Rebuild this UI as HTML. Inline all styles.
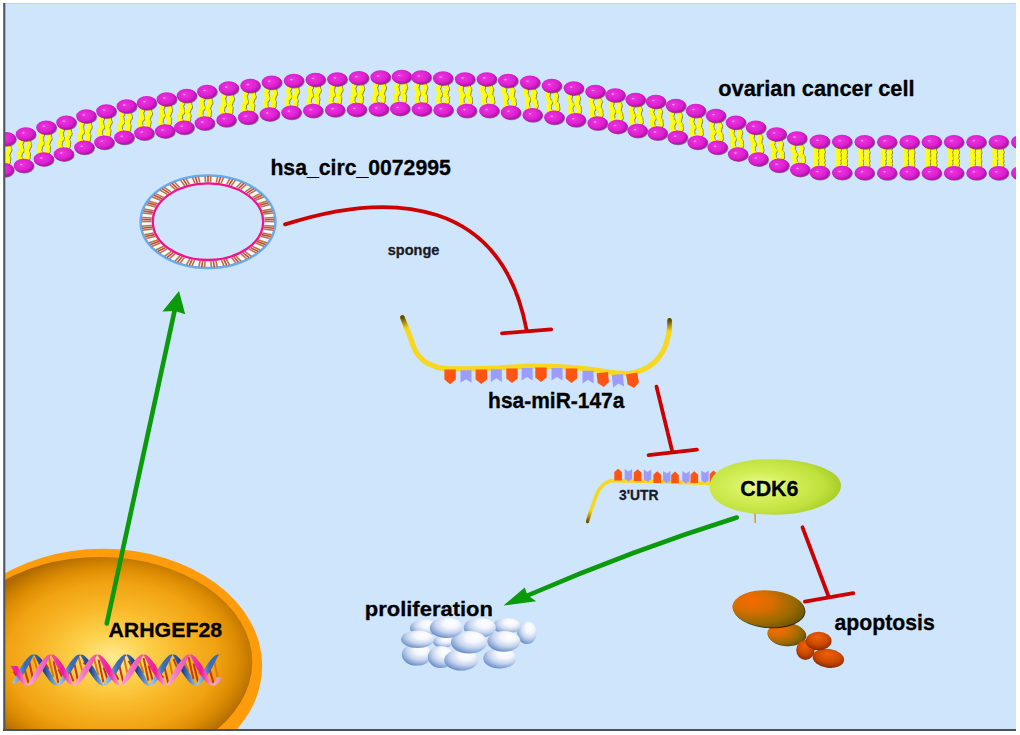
<!DOCTYPE html>
<html><head><meta charset="utf-8"><style>html,body{margin:0;padding:0;background:#fff;}svg{display:block;}</style></head>
<body><svg width="1020" height="735" viewBox="0 0 1020 735"><defs>
<clipPath id="frame"><rect x="5" y="3" width="1011" height="726"/></clipPath>
<radialGradient id="headg" cx="0.42" cy="0.4" r="0.62"><stop offset="0" stop-color="#ee34e0"/><stop offset="0.65" stop-color="#dc1fd0"/><stop offset="1" stop-color="#a80fa2"/></radialGradient>
<linearGradient id="tipL" gradientUnits="userSpaceOnUse" x1="402.4" y1="317.4" x2="406.5" y2="328"><stop offset="0" stop-color="#5a4a10"/><stop offset="1" stop-color="#f6d21c"/></linearGradient>
<linearGradient id="tipR" gradientUnits="userSpaceOnUse" x1="669.6" y1="320.3" x2="669.2" y2="331"><stop offset="0" stop-color="#5a4a10"/><stop offset="1" stop-color="#f6d21c"/></linearGradient>
<linearGradient id="tipB" gradientUnits="userSpaceOnUse" x1="587.5" y1="521.6" x2="590.5" y2="511"><stop offset="0" stop-color="#6a5010"/><stop offset="1" stop-color="#f6d21c"/></linearGradient>
<radialGradient id="cdkg" cx="0.38" cy="0.48" r="0.62"><stop offset="0" stop-color="#ecfca0"/><stop offset="0.35" stop-color="#d4f05a"/><stop offset="0.8" stop-color="#bfe03c"/><stop offset="1" stop-color="#a8cc28"/></radialGradient>
<radialGradient id="nucg" gradientUnits="userSpaceOnUse" cx="0" cy="0" r="1" gradientTransform="translate(112,657) scale(146,104)"><stop offset="0" stop-color="#ffea8e"/><stop offset="0.25" stop-color="#fdd04a"/><stop offset="0.5" stop-color="#f8b626"/><stop offset="0.72" stop-color="#f0a212"/><stop offset="0.86" stop-color="#dc8c02"/><stop offset="0.95" stop-color="#c27800"/><stop offset="1" stop-color="#b06a00"/></radialGradient>
<radialGradient id="cellg" cx="0.62" cy="0.3" r="0.8" fx="0.66" fy="0.27"><stop offset="0" stop-color="#ffffff"/><stop offset="0.3" stop-color="#f3f6fc"/><stop offset="0.58" stop-color="#c6d5ee"/><stop offset="0.82" stop-color="#86a3d5"/><stop offset="1" stop-color="#4672b8"/></radialGradient>
<radialGradient id="apg1" cx="0.27" cy="0.35" r="0.82" fx="0.25" fy="0.3"><stop offset="0" stop-color="#f66a00"/><stop offset="0.35" stop-color="#d86e00"/><stop offset="0.72" stop-color="#986a00"/><stop offset="1" stop-color="#625000"/></radialGradient>
<radialGradient id="apg2" cx="0.5" cy="0.35" r="0.7" fx="0.45" fy="0.28"><stop offset="0" stop-color="#ee6200"/><stop offset="0.55" stop-color="#cc4a00"/><stop offset="0.85" stop-color="#9a3200"/><stop offset="1" stop-color="#742200"/></radialGradient>
<linearGradient id="dnab" gradientUnits="userSpaceOnUse" x1="34" y1="0" x2="80.2" y2="0" spreadMethod="repeat"><stop offset="0" stop-color="#3a68b4"/><stop offset="0.2" stop-color="#173a86"/><stop offset="0.42" stop-color="#6a9ad8"/><stop offset="0.55" stop-color="#9cc4ee"/><stop offset="0.8" stop-color="#3a6cb8"/><stop offset="1" stop-color="#3a68b4"/></linearGradient>
<linearGradient id="dnap" gradientUnits="userSpaceOnUse" x1="51" y1="0" x2="97.2" y2="0" spreadMethod="repeat"><stop offset="0" stop-color="#f050b0"/><stop offset="0.25" stop-color="#f01898"/><stop offset="0.5" stop-color="#f6b0dc"/><stop offset="0.75" stop-color="#f070c0"/><stop offset="1" stop-color="#f050b0"/></linearGradient>
</defs><rect width="1020" height="735" fill="#fff"/><rect x="4" y="3" width="1012" height="727" fill="#cfe5fb"/><g clip-path="url(#frame)"><g id="membrane"><g fill="none" stroke="#6a6a1a" stroke-width="4.2" stroke-opacity="0.85" stroke-linejoin="round"><path d="M8.49,144.62 L9.14,145.39 L9.47,146.12 L9.46,146.83 L9.40,147.53 L9.58,148.25 L9.98,149.00 L10.30,149.74 L10.24,150.44 L9.78,151.10 L9.25,151.75 L8.93,152.43 L8.86,153.13 L8.73,153.82 L8.27,154.49 L7.49,155.12 L7.54,155.83 L7.86,156.57 L8.46,157.33 L9.00,158.09 L9.18,158.81 L8.98,159.50 L8.70,160.18 L8.63,160.88 L8.78,161.60 L8.85,162.31 L8.54,162.99 L7.86,163.63 L7.13,164.27 L6.67,164.93 L6.49,165.62"/><path d="M3.91,144.18 L3.13,144.81 L2.67,145.48 L2.54,146.17 L2.47,146.87 L2.15,147.55 L1.62,148.20 L1.16,148.86 L1.10,149.56 L1.42,150.30 L1.82,151.05 L2.00,151.77 L1.94,152.47 L1.93,153.18 L2.26,153.91 L2.91,154.68 L2.73,155.37 L2.27,156.03 L1.54,156.67 L0.86,157.31 L0.55,157.99 L0.62,158.70 L0.77,159.42 L0.70,160.12 L0.42,160.80 L0.22,161.49 L0.40,162.21 L0.94,162.97 L1.54,163.73 L1.86,164.47 L1.91,165.18"/><path d="M28.29,139.82 L28.93,140.61 L29.26,141.37 L29.25,142.10 L29.19,142.82 L29.36,143.56 L29.76,144.33 L30.08,145.08 L30.01,145.80 L29.55,146.49 L29.01,147.16 L28.70,147.86 L28.62,148.58 L28.49,149.29 L28.02,149.97 L27.24,150.62 L27.28,151.35 L27.61,152.11 L28.20,152.90 L28.74,153.68 L28.91,154.42 L28.71,155.13 L28.43,155.83 L28.36,156.55 L28.50,157.29 L28.56,158.02 L28.25,158.72 L27.57,159.38 L26.84,160.03 L26.37,160.71 L26.19,161.42"/><path d="M23.71,139.38 L22.93,140.03 L22.46,140.71 L22.33,141.42 L22.25,142.14 L21.94,142.84 L21.40,143.51 L20.94,144.20 L20.87,144.92 L21.19,145.67 L21.59,146.44 L21.76,147.18 L21.70,147.90 L21.69,148.63 L22.02,149.39 L22.66,150.18 L22.48,150.89 L22.01,151.57 L21.28,152.22 L20.60,152.88 L20.29,153.58 L20.35,154.31 L20.49,155.05 L20.42,155.77 L20.14,156.47 L19.94,157.18 L20.11,157.92 L20.65,158.70 L21.24,159.49 L21.57,160.25 L21.61,160.98"/><path d="M48.78,133.17 L49.41,133.98 L49.72,134.75 L49.69,135.48 L49.61,136.21 L49.77,136.96 L50.15,137.74 L50.45,138.51 L50.37,139.23 L49.89,139.91 L49.34,140.58 L49.01,141.27 L48.91,141.99 L48.77,142.71 L48.28,143.39 L47.48,144.02 L47.51,144.76 L47.82,145.53 L48.39,146.33 L48.91,147.13 L49.07,147.88 L48.85,148.59 L48.55,149.29 L48.46,150.01 L48.59,150.76 L48.64,151.50 L48.31,152.19 L47.61,152.84 L46.86,153.49 L46.38,154.16 L46.18,154.87"/><path d="M44.22,132.63 L43.42,133.26 L42.93,133.94 L42.79,134.66 L42.69,135.38 L42.36,136.07 L41.81,136.74 L41.33,137.42 L41.25,138.14 L41.55,138.91 L41.93,139.69 L42.09,140.44 L42.01,141.17 L41.98,141.90 L42.29,142.67 L42.92,143.48 L42.72,144.19 L42.24,144.86 L41.49,145.51 L40.79,146.16 L40.46,146.85 L40.51,147.59 L40.64,148.34 L40.55,149.06 L40.25,149.76 L40.03,150.47 L40.19,151.22 L40.71,152.02 L41.28,152.82 L41.59,153.59 L41.62,154.33"/><path d="M68.78,128.16 L69.42,128.97 L69.73,129.74 L69.70,130.47 L69.63,131.19 L69.79,131.94 L70.17,132.72 L70.48,133.49 L70.40,134.21 L69.92,134.89 L69.37,135.56 L69.04,136.26 L68.95,136.98 L68.81,137.69 L68.33,138.37 L67.53,139.01 L67.56,139.75 L67.88,140.52 L68.45,141.32 L68.98,142.11 L69.14,142.86 L68.92,143.57 L68.63,144.27 L68.54,144.99 L68.67,145.74 L68.72,146.48 L68.40,147.17 L67.70,147.83 L66.96,148.47 L66.48,149.15 L66.28,149.86"/><path d="M64.22,127.64 L63.42,128.28 L62.94,128.96 L62.80,129.67 L62.71,130.39 L62.38,131.09 L61.83,131.76 L61.35,132.44 L61.27,133.16 L61.58,133.93 L61.96,134.71 L62.12,135.46 L62.05,136.18 L62.02,136.91 L62.33,137.68 L62.97,138.49 L62.77,139.20 L62.29,139.88 L61.55,140.52 L60.85,141.18 L60.53,141.87 L60.58,142.61 L60.71,143.36 L60.62,144.08 L60.33,144.78 L60.11,145.49 L60.27,146.24 L60.80,147.03 L61.37,147.83 L61.69,148.60 L61.72,149.34"/><path d="M88.79,121.83 L89.43,122.61 L89.76,123.36 L89.75,124.07 L89.69,124.78 L89.86,125.52 L90.26,126.27 L90.58,127.02 L90.51,127.73 L90.05,128.40 L89.51,129.07 L89.20,129.75 L89.12,130.46 L88.99,131.17 L88.52,131.84 L87.74,132.48 L87.78,133.20 L88.11,133.95 L88.70,134.72 L89.24,135.49 L89.41,136.23 L89.21,136.92 L88.93,137.61 L88.86,138.32 L89.00,139.05 L89.06,139.78 L88.75,140.46 L88.07,141.11 L87.34,141.76 L86.87,142.43 L86.69,143.13"/><path d="M84.21,121.37 L83.43,122.01 L82.96,122.68 L82.83,123.39 L82.75,124.10 L82.44,124.78 L81.90,125.45 L81.44,126.12 L81.37,126.83 L81.69,127.58 L82.09,128.33 L82.26,129.07 L82.20,129.78 L82.19,130.49 L82.52,131.24 L83.16,132.02 L82.98,132.72 L82.51,133.39 L81.78,134.04 L81.10,134.69 L80.79,135.37 L80.85,136.10 L80.99,136.83 L80.92,137.54 L80.64,138.23 L80.44,138.92 L80.61,139.66 L81.15,140.43 L81.74,141.20 L82.07,141.95 L82.11,142.67"/><path d="M108.79,116.93 L109.43,117.70 L109.76,118.45 L109.75,119.16 L109.69,119.87 L109.86,120.60 L110.26,121.35 L110.58,122.10 L110.51,122.81 L110.05,123.47 L109.51,124.13 L109.20,124.82 L109.12,125.52 L108.99,126.22 L108.52,126.89 L107.74,127.53 L107.78,128.24 L108.11,128.99 L108.70,129.76 L109.24,130.53 L109.41,131.26 L109.21,131.95 L108.93,132.64 L108.86,133.35 L109.00,134.07 L109.06,134.79 L108.75,135.48 L108.07,136.12 L107.34,136.76 L106.87,137.43 L106.69,138.13"/><path d="M104.21,116.47 L103.43,117.11 L102.96,117.78 L102.83,118.48 L102.75,119.18 L102.44,119.87 L101.90,120.53 L101.44,121.19 L101.37,121.90 L101.69,122.65 L102.09,123.40 L102.26,124.13 L102.20,124.84 L102.19,125.55 L102.52,126.30 L103.16,127.07 L102.98,127.77 L102.51,128.44 L101.78,129.08 L101.10,129.72 L100.79,130.41 L100.85,131.13 L100.99,131.85 L100.92,132.56 L100.64,133.25 L100.44,133.94 L100.61,134.67 L101.15,135.44 L101.74,136.21 L102.07,136.96 L102.11,137.67"/><path d="M129.18,111.97 L129.81,112.76 L130.13,113.51 L130.10,114.23 L130.03,114.93 L130.19,115.67 L130.57,116.43 L130.88,117.18 L130.79,117.89 L130.32,118.55 L129.77,119.20 L129.44,119.88 L129.35,120.59 L129.21,121.29 L128.73,121.95 L127.93,122.57 L127.96,123.29 L128.27,124.04 L128.85,124.83 L129.38,125.61 L129.54,126.34 L129.32,127.03 L129.03,127.71 L128.94,128.42 L129.07,129.15 L129.12,129.87 L128.79,130.55 L128.10,131.19 L127.36,131.82 L126.88,132.48 L126.68,133.17"/><path d="M124.62,111.43 L123.82,112.05 L123.34,112.71 L123.20,113.41 L123.11,114.12 L122.78,114.80 L122.23,115.45 L121.76,116.11 L121.67,116.82 L121.98,117.57 L122.36,118.33 L122.52,119.07 L122.45,119.77 L122.42,120.49 L122.74,121.24 L123.37,122.03 L123.17,122.72 L122.69,123.38 L121.95,124.01 L121.26,124.65 L120.93,125.33 L120.98,126.05 L121.11,126.78 L121.02,127.49 L120.73,128.17 L120.51,128.86 L120.67,129.59 L121.20,130.37 L121.78,131.16 L122.09,131.91 L122.12,132.63"/><path d="M149.18,108.68 L149.81,109.45 L150.12,110.17 L150.10,110.85 L150.02,111.53 L150.18,112.24 L150.57,112.97 L150.87,113.70 L150.79,114.37 L150.32,115.00 L149.77,115.62 L149.44,116.27 L149.35,116.94 L149.21,117.61 L148.73,118.24 L147.93,118.83 L147.96,119.52 L148.27,120.25 L148.85,121.00 L149.38,121.76 L149.54,122.46 L149.32,123.12 L149.02,123.77 L148.94,124.45 L149.07,125.15 L149.12,125.85 L148.79,126.49 L148.10,127.09 L147.36,127.69 L146.88,128.32 L146.68,128.98"/><path d="M144.62,108.12 L143.82,108.71 L143.34,109.34 L143.20,110.01 L143.11,110.68 L142.78,111.33 L142.23,111.95 L141.76,112.58 L141.68,113.25 L141.98,113.98 L142.37,114.71 L142.53,115.42 L142.45,116.10 L142.43,116.78 L142.74,117.50 L143.37,118.27 L143.17,118.93 L142.69,119.56 L141.95,120.16 L141.26,120.76 L140.93,121.40 L140.98,122.10 L141.11,122.80 L141.03,123.48 L140.73,124.13 L140.51,124.79 L140.67,125.49 L141.20,126.25 L141.78,127.00 L142.09,127.73 L142.12,128.42"/><path d="M169.19,104.78 L169.85,105.57 L170.19,106.33 L170.20,107.07 L170.15,107.80 L170.33,108.55 L170.75,109.32 L171.08,110.09 L171.03,110.82 L170.58,111.52 L170.05,112.22 L169.75,112.94 L169.69,113.67 L169.57,114.40 L169.12,115.10 L168.34,115.78 L168.40,116.52 L168.74,117.28 L169.35,118.07 L169.90,118.85 L170.09,119.60 L169.90,120.32 L169.63,121.04 L169.57,121.77 L169.73,122.52 L169.81,123.27 L169.50,123.98 L168.84,124.67 L168.12,125.35 L167.66,126.05 L167.49,126.78"/><path d="M164.61,104.42 L163.83,105.10 L163.38,105.80 L163.26,106.53 L163.20,107.26 L162.90,107.98 L162.37,108.68 L161.92,109.38 L161.87,110.11 L162.20,110.88 L162.62,111.65 L162.80,112.40 L162.75,113.13 L162.76,113.87 L163.10,114.63 L163.76,115.42 L163.59,116.15 L163.13,116.85 L162.41,117.53 L161.75,118.22 L161.44,118.93 L161.52,119.68 L161.68,120.43 L161.62,121.16 L161.35,121.88 L161.16,122.60 L161.35,123.35 L161.90,124.13 L162.51,124.92 L162.85,125.68 L162.91,126.42"/><path d="M189.18,101.46 L189.82,102.27 L190.13,103.04 L190.10,103.77 L190.03,104.49 L190.19,105.24 L190.57,106.02 L190.88,106.79 L190.80,107.51 L190.32,108.19 L189.77,108.86 L189.44,109.56 L189.35,110.28 L189.21,110.99 L188.73,111.67 L187.93,112.31 L187.96,113.05 L188.28,113.82 L188.85,114.62 L189.38,115.41 L189.54,116.16 L189.32,116.87 L189.03,117.57 L188.94,118.29 L189.07,119.04 L189.12,119.78 L188.80,120.47 L188.10,121.13 L187.36,121.77 L186.88,122.45 L186.68,123.16"/><path d="M184.62,100.94 L183.82,101.58 L183.34,102.26 L183.20,102.97 L183.11,103.69 L182.78,104.39 L182.23,105.06 L181.75,105.74 L181.67,106.46 L181.98,107.23 L182.36,108.01 L182.52,108.76 L182.45,109.48 L182.42,110.21 L182.73,110.98 L183.37,111.79 L183.17,112.50 L182.69,113.18 L181.95,113.82 L181.25,114.48 L180.93,115.17 L180.98,115.91 L181.11,116.66 L181.02,117.38 L180.73,118.08 L180.51,118.79 L180.67,119.54 L181.20,120.33 L181.77,121.13 L182.09,121.90 L182.12,122.64"/><path d="M209.49,97.34 L210.13,98.14 L210.44,98.90 L210.43,99.63 L210.36,100.35 L210.52,101.09 L210.92,101.86 L211.23,102.63 L211.15,103.35 L210.69,104.02 L210.14,104.69 L209.82,105.39 L209.74,106.11 L209.60,106.82 L209.13,107.50 L208.34,108.14 L208.37,108.88 L208.69,109.64 L209.28,110.43 L209.81,111.21 L209.98,111.96 L209.77,112.66 L209.48,113.36 L209.40,114.08 L209.54,114.82 L209.59,115.56 L209.27,116.25 L208.59,116.91 L207.85,117.56 L207.38,118.24 L207.19,118.94"/><path d="M204.91,96.86 L204.12,97.50 L203.65,98.18 L203.51,98.89 L203.43,99.61 L203.11,100.31 L202.56,100.98 L202.10,101.65 L202.02,102.37 L202.33,103.14 L202.73,103.91 L202.89,104.65 L202.82,105.37 L202.81,106.10 L203.12,106.86 L203.76,107.66 L203.57,108.36 L203.10,109.04 L202.36,109.69 L201.68,110.35 L201.36,111.04 L201.41,111.78 L201.55,112.52 L201.47,113.24 L201.18,113.94 L200.97,114.64 L201.14,115.39 L201.67,116.17 L202.26,116.96 L202.58,117.72 L202.61,118.46"/><path d="M231.19,93.95 L231.82,94.76 L232.14,95.52 L232.11,96.25 L232.04,96.98 L232.21,97.73 L232.60,98.50 L232.90,99.27 L232.82,99.99 L232.36,100.67 L231.81,101.34 L231.48,102.04 L231.39,102.76 L231.26,103.48 L230.78,104.16 L229.99,104.80 L230.02,105.54 L230.33,106.31 L230.91,107.10 L231.44,107.89 L231.61,108.64 L231.40,109.35 L231.10,110.05 L231.02,110.77 L231.16,111.52 L231.21,112.26 L230.88,112.96 L230.19,113.61 L229.45,114.26 L228.98,114.94 L228.79,115.65"/><path d="M226.61,93.45 L225.82,94.09 L225.34,94.77 L225.21,95.49 L225.12,96.21 L224.79,96.91 L224.24,97.58 L223.78,98.26 L223.70,98.98 L224.00,99.75 L224.39,100.52 L224.56,101.27 L224.49,102.00 L224.46,102.73 L224.78,103.49 L225.41,104.30 L225.22,105.01 L224.75,105.69 L224.01,106.34 L223.32,106.99 L222.99,107.69 L223.04,108.43 L223.18,109.18 L223.10,109.90 L222.80,110.60 L222.59,111.31 L222.76,112.06 L223.29,112.85 L223.87,113.64 L224.18,114.41 L224.21,115.15"/><path d="M252.79,91.44 L253.43,92.24 L253.74,93.01 L253.73,93.74 L253.66,94.46 L253.82,95.21 L254.22,95.98 L254.53,96.75 L254.45,97.47 L253.99,98.15 L253.44,98.83 L253.12,99.52 L253.04,100.25 L252.90,100.96 L252.43,101.64 L251.64,102.29 L251.67,103.03 L251.99,103.79 L252.58,104.59 L253.11,105.37 L253.28,106.12 L253.07,106.83 L252.78,107.53 L252.70,108.26 L252.84,109.00 L252.89,109.74 L252.57,110.44 L251.89,111.10 L251.15,111.75 L250.68,112.43 L250.49,113.14"/><path d="M248.21,90.96 L247.42,91.61 L246.95,92.29 L246.81,93.00 L246.73,93.73 L246.41,94.42 L245.86,95.10 L245.40,95.78 L245.32,96.50 L245.63,97.27 L246.03,98.04 L246.19,98.79 L246.12,99.51 L246.11,100.24 L246.42,101.01 L247.06,101.81 L246.87,102.52 L246.40,103.20 L245.66,103.85 L244.98,104.51 L244.66,105.21 L244.71,105.95 L244.85,106.69 L244.77,107.42 L244.48,108.12 L244.27,108.83 L244.44,109.58 L244.97,110.36 L245.56,111.16 L245.88,111.92 L245.91,112.66"/><path d="M274.19,88.11 L274.84,88.90 L275.17,89.66 L275.16,90.39 L275.10,91.11 L275.28,91.86 L275.68,92.63 L276.01,93.38 L275.94,94.11 L275.48,94.80 L274.95,95.48 L274.64,96.18 L274.56,96.90 L274.44,97.62 L273.97,98.30 L273.19,98.96 L273.24,99.69 L273.57,100.45 L274.16,101.24 L274.71,102.02 L274.88,102.76 L274.68,103.48 L274.40,104.18 L274.34,104.90 L274.48,105.65 L274.55,106.38 L274.24,107.08 L273.56,107.75 L272.83,108.41 L272.37,109.10 L272.19,109.81"/><path d="M269.61,87.69 L268.83,88.35 L268.36,89.03 L268.24,89.75 L268.16,90.47 L267.85,91.17 L267.32,91.85 L266.86,92.54 L266.79,93.27 L267.12,94.02 L267.52,94.79 L267.70,95.54 L267.64,96.26 L267.63,96.99 L267.96,97.75 L268.61,98.54 L268.43,99.25 L267.97,99.94 L267.24,100.60 L266.56,101.27 L266.25,101.97 L266.32,102.70 L266.46,103.45 L266.40,104.17 L266.12,104.87 L265.92,105.59 L266.09,106.33 L266.64,107.11 L267.23,107.90 L267.56,108.66 L267.61,109.39"/><path d="M296.28,86.46 L296.92,87.27 L297.23,88.04 L297.20,88.77 L297.13,89.49 L297.29,90.24 L297.67,91.02 L297.98,91.79 L297.90,92.51 L297.42,93.19 L296.87,93.86 L296.54,94.56 L296.45,95.28 L296.31,95.99 L295.83,96.67 L295.03,97.31 L295.06,98.05 L295.38,98.82 L295.95,99.62 L296.48,100.41 L296.64,101.16 L296.42,101.87 L296.13,102.57 L296.04,103.29 L296.17,104.04 L296.22,104.78 L295.90,105.47 L295.20,106.13 L294.46,106.77 L293.98,107.45 L293.78,108.16"/><path d="M291.72,85.94 L290.92,86.58 L290.44,87.26 L290.30,87.97 L290.21,88.69 L289.88,89.39 L289.33,90.06 L288.85,90.74 L288.77,91.46 L289.08,92.23 L289.46,93.01 L289.62,93.76 L289.55,94.48 L289.52,95.21 L289.83,95.98 L290.47,96.79 L290.27,97.50 L289.79,98.18 L289.05,98.82 L288.35,99.48 L288.03,100.17 L288.08,100.91 L288.21,101.66 L288.12,102.38 L287.83,103.08 L287.61,103.79 L287.77,104.54 L288.30,105.33 L288.87,106.13 L289.19,106.90 L289.22,107.64"/><path d="M317.98,85.37 L318.61,86.16 L318.93,86.91 L318.90,87.62 L318.83,88.32 L318.99,89.06 L319.37,89.81 L319.68,90.56 L319.59,91.27 L319.12,91.92 L318.57,92.57 L318.24,93.25 L318.15,93.95 L318.01,94.65 L317.53,95.30 L316.73,95.92 L316.76,96.64 L317.07,97.39 L317.65,98.17 L318.18,98.94 L318.34,99.68 L318.12,100.36 L317.82,101.04 L317.74,101.75 L317.87,102.47 L317.92,103.19 L317.59,103.87 L316.90,104.50 L316.16,105.12 L315.68,105.78 L315.48,106.47"/><path d="M313.42,84.83 L312.62,85.45 L312.14,86.10 L312.00,86.80 L311.91,87.50 L311.58,88.18 L311.03,88.83 L310.56,89.48 L310.47,90.19 L310.78,90.94 L311.16,91.69 L311.32,92.43 L311.25,93.13 L311.22,93.84 L311.54,94.59 L312.17,95.38 L311.97,96.07 L311.49,96.73 L310.75,97.35 L310.06,97.98 L309.73,98.66 L309.78,99.38 L309.91,100.10 L309.83,100.81 L309.53,101.49 L309.31,102.17 L309.47,102.91 L310.00,103.68 L310.58,104.46 L310.89,105.21 L310.92,105.93"/><path d="M339.69,84.84 L340.33,85.61 L340.65,86.35 L340.64,87.05 L340.57,87.74 L340.74,88.46 L341.14,89.20 L341.45,89.94 L341.38,90.63 L340.92,91.28 L340.37,91.93 L340.06,92.59 L339.98,93.29 L339.84,93.97 L339.38,94.62 L338.59,95.24 L338.63,95.95 L338.95,96.68 L339.54,97.45 L340.07,98.20 L340.24,98.92 L340.04,99.60 L339.75,100.27 L339.68,100.97 L339.82,101.68 L339.88,102.39 L339.56,103.06 L338.88,103.69 L338.14,104.31 L337.67,104.96 L337.49,105.64"/><path d="M335.11,84.36 L334.32,84.98 L333.86,85.63 L333.72,86.31 L333.64,87.01 L333.33,87.67 L332.78,88.32 L332.32,88.97 L332.25,89.66 L332.56,90.40 L332.96,91.14 L333.13,91.86 L333.06,92.55 L333.05,93.25 L333.37,93.99 L334.01,94.76 L333.83,95.44 L333.36,96.09 L332.62,96.71 L331.94,97.34 L331.62,98.01 L331.68,98.72 L331.82,99.43 L331.75,100.13 L331.46,100.80 L331.26,101.48 L331.43,102.20 L331.96,102.95 L332.55,103.72 L332.87,104.45 L332.91,105.16"/><path d="M361.29,83.62 L361.93,84.41 L362.26,85.18 L362.25,85.90 L362.19,86.63 L362.36,87.38 L362.76,88.14 L363.08,88.91 L363.01,89.63 L362.55,90.31 L362.01,90.99 L361.70,91.69 L361.62,92.41 L361.49,93.13 L361.02,93.82 L360.24,94.47 L360.28,95.21 L360.61,95.97 L361.20,96.75 L361.74,97.54 L361.92,98.28 L361.71,98.99 L361.43,99.70 L361.36,100.42 L361.50,101.16 L361.57,101.90 L361.25,102.60 L360.57,103.26 L359.84,103.92 L359.37,104.61 L359.19,105.32"/><path d="M356.71,83.18 L355.93,83.83 L355.46,84.52 L355.33,85.24 L355.25,85.96 L354.94,86.66 L354.40,87.34 L353.94,88.02 L353.87,88.74 L354.19,89.51 L354.59,90.27 L354.76,91.02 L354.70,91.75 L354.69,92.47 L355.02,93.24 L355.66,94.03 L355.48,94.74 L355.01,95.43 L354.28,96.09 L353.60,96.75 L353.28,97.45 L353.35,98.19 L353.49,98.93 L353.42,99.65 L353.14,100.36 L352.93,101.07 L353.11,101.81 L353.65,102.60 L354.24,103.38 L354.57,104.14 L354.61,104.88"/><path d="M382.99,82.79 L383.65,83.58 L383.99,84.35 L383.98,85.08 L383.93,85.82 L384.12,86.57 L384.53,87.34 L384.86,88.11 L384.80,88.84 L384.35,89.54 L383.82,90.24 L383.51,90.95 L383.44,91.68 L383.33,92.41 L382.87,93.11 L382.09,93.79 L382.14,94.53 L382.48,95.30 L383.08,96.08 L383.64,96.87 L383.82,97.62 L383.63,98.34 L383.35,99.06 L383.29,99.79 L383.45,100.54 L383.52,101.29 L383.22,102.00 L382.54,102.68 L381.82,103.36 L381.36,104.06 L381.19,104.79"/><path d="M378.41,82.41 L377.63,83.09 L377.17,83.79 L377.06,84.52 L376.99,85.25 L376.68,85.96 L376.15,86.66 L375.70,87.36 L375.64,88.09 L375.97,88.86 L376.38,89.63 L376.57,90.38 L376.52,91.12 L376.51,91.85 L376.85,92.62 L377.51,93.41 L377.34,94.14 L376.88,94.84 L376.16,95.52 L375.48,96.20 L375.18,96.91 L375.25,97.66 L375.41,98.41 L375.35,99.14 L375.07,99.86 L374.88,100.58 L375.06,101.33 L375.62,102.12 L376.22,102.90 L376.56,103.67 L376.61,104.41"/><path d="M404.19,82.28 L404.85,83.07 L405.19,83.83 L405.20,84.57 L405.15,85.30 L405.33,86.05 L405.75,86.82 L406.08,87.59 L406.03,88.32 L405.58,89.02 L405.05,89.72 L404.75,90.44 L404.69,91.17 L404.57,91.90 L404.12,92.60 L403.34,93.28 L403.40,94.02 L403.74,94.78 L404.35,95.57 L404.90,96.35 L405.09,97.10 L404.90,97.82 L404.63,98.54 L404.57,99.27 L404.73,100.02 L404.81,100.77 L404.50,101.48 L403.84,102.17 L403.12,102.85 L402.66,103.55 L402.49,104.28"/><path d="M399.61,81.92 L398.83,82.60 L398.38,83.30 L398.26,84.03 L398.20,84.76 L397.90,85.48 L397.37,86.18 L396.92,86.88 L396.87,87.61 L397.20,88.38 L397.62,89.15 L397.80,89.90 L397.75,90.63 L397.76,91.37 L398.10,92.13 L398.76,92.92 L398.59,93.65 L398.13,94.35 L397.41,95.03 L396.75,95.72 L396.44,96.43 L396.52,97.18 L396.68,97.93 L396.62,98.66 L396.35,99.38 L396.16,100.10 L396.35,100.85 L396.90,101.63 L397.51,102.42 L397.85,103.18 L397.91,103.92"/><path d="M423.80,82.56 L424.53,83.28 L424.94,84.00 L425.01,84.74 L425.04,85.47 L425.29,86.20 L425.78,86.92 L426.18,87.65 L426.20,88.38 L425.82,89.12 L425.36,89.87 L425.13,90.60 L425.13,91.34 L425.09,92.07 L424.71,92.81 L424.00,93.56 L424.13,94.29 L424.54,95.02 L425.21,95.74 L425.84,96.46 L426.10,97.19 L425.98,97.92 L425.78,98.66 L425.79,99.39 L426.02,100.12 L426.17,100.85 L425.94,101.59 L425.33,102.34 L424.68,103.08 L424.30,103.82 L424.20,104.56"/><path d="M419.20,82.64 L418.49,83.39 L418.11,84.13 L418.07,84.86 L418.07,85.60 L417.84,86.33 L417.38,87.08 L417.00,87.82 L417.02,88.55 L417.42,89.28 L417.91,90.00 L418.16,90.73 L418.19,91.46 L418.26,92.20 L418.67,92.92 L419.40,93.64 L419.30,94.38 L418.92,95.12 L418.27,95.86 L417.66,96.61 L417.43,97.35 L417.58,98.08 L417.81,98.81 L417.82,99.54 L417.62,100.28 L417.50,101.01 L417.76,101.74 L418.39,102.46 L419.06,103.18 L419.47,103.91 L419.60,104.64"/><path d="M445.50,83.67 L446.23,84.38 L446.64,85.10 L446.71,85.82 L446.72,86.55 L446.98,87.27 L447.46,87.98 L447.86,88.70 L447.87,89.42 L447.49,90.15 L447.03,90.88 L446.79,91.61 L446.80,92.33 L446.75,93.06 L446.36,93.78 L445.65,94.52 L445.77,95.24 L446.18,95.96 L446.86,96.67 L447.48,97.39 L447.73,98.11 L447.61,98.83 L447.41,99.56 L447.42,100.28 L447.64,101.00 L447.78,101.72 L447.55,102.45 L446.95,103.18 L446.29,103.91 L445.90,104.64 L445.80,105.37"/><path d="M440.90,83.73 L440.19,84.47 L439.80,85.19 L439.75,85.92 L439.76,86.64 L439.52,87.37 L439.06,88.10 L438.68,88.83 L438.69,89.55 L439.09,90.27 L439.57,90.98 L439.83,91.70 L439.84,92.43 L439.91,93.15 L440.32,93.87 L441.05,94.58 L440.95,95.31 L440.56,96.04 L439.90,96.77 L439.30,97.50 L439.07,98.23 L439.21,98.95 L439.43,99.67 L439.44,100.39 L439.24,101.12 L439.12,101.84 L439.37,102.56 L439.99,103.28 L440.67,103.99 L441.08,104.71 L441.20,105.43"/><path d="M467.49,84.42 L468.27,85.08 L468.72,85.77 L468.83,86.49 L468.90,87.21 L469.20,87.91 L469.73,88.59 L470.17,89.28 L470.23,90.00 L469.90,90.75 L469.48,91.51 L469.30,92.25 L469.34,92.97 L469.34,93.69 L469.00,94.44 L468.34,95.22 L468.51,95.93 L468.97,96.62 L469.68,97.29 L470.35,97.96 L470.66,98.66 L470.58,99.39 L470.42,100.13 L470.48,100.85 L470.75,101.55 L470.94,102.26 L470.75,103.00 L470.19,103.77 L469.59,104.54 L469.25,105.29 L469.19,106.02"/><path d="M462.91,84.78 L462.25,85.56 L461.91,86.31 L461.91,87.03 L461.95,87.75 L461.77,88.49 L461.35,89.25 L461.02,90.00 L461.08,90.72 L461.52,91.41 L462.05,92.09 L462.35,92.79 L462.42,93.51 L462.53,94.23 L462.98,94.92 L463.76,95.58 L463.70,96.31 L463.36,97.06 L462.76,97.83 L462.20,98.60 L462.01,99.34 L462.20,100.05 L462.47,100.75 L462.53,101.47 L462.37,102.21 L462.29,102.94 L462.60,103.64 L463.27,104.31 L463.98,104.98 L464.44,105.67 L464.61,106.38"/><path d="M489.18,84.34 L489.98,84.97 L490.46,85.65 L490.60,86.36 L490.69,87.08 L491.02,87.77 L491.57,88.44 L492.05,89.11 L492.13,89.83 L491.82,90.60 L491.44,91.37 L491.28,92.12 L491.35,92.84 L491.38,93.57 L491.07,94.33 L490.43,95.14 L490.63,95.84 L491.11,96.52 L491.85,97.16 L492.55,97.81 L492.87,98.50 L492.82,99.24 L492.69,99.98 L492.78,100.70 L493.07,101.40 L493.29,102.10 L493.13,102.85 L492.60,103.64 L492.03,104.44 L491.71,105.20 L491.68,105.94"/><path d="M484.62,84.86 L483.98,85.67 L483.67,86.43 L483.70,87.16 L483.77,87.88 L483.61,88.63 L483.23,89.40 L482.92,90.17 L483.00,90.89 L483.48,91.56 L484.03,92.23 L484.36,92.92 L484.45,93.64 L484.59,94.35 L485.07,95.03 L485.87,95.66 L485.84,96.40 L485.52,97.16 L484.95,97.96 L484.42,98.75 L484.26,99.50 L484.48,100.20 L484.77,100.90 L484.86,101.62 L484.73,102.36 L484.68,103.10 L485.00,103.79 L485.70,104.44 L486.44,105.08 L486.92,105.76 L487.12,106.46"/><path d="M510.48,85.91 L511.29,86.54 L511.78,87.21 L511.93,87.93 L512.03,88.65 L512.36,89.34 L512.93,90.00 L513.41,90.68 L513.50,91.40 L513.21,92.17 L512.83,92.96 L512.68,93.71 L512.77,94.44 L512.80,95.17 L512.50,95.94 L511.88,96.76 L512.09,97.46 L512.57,98.14 L513.33,98.78 L514.03,99.42 L514.37,100.11 L514.33,100.85 L514.21,101.60 L514.30,102.33 L514.61,103.02 L514.83,103.73 L514.68,104.48 L514.17,105.29 L513.60,106.09 L513.30,106.87 L513.28,107.61"/><path d="M505.92,86.49 L505.30,87.31 L505.00,88.08 L505.03,88.81 L505.12,89.54 L504.97,90.29 L504.59,91.08 L504.30,91.85 L504.39,92.57 L504.87,93.25 L505.44,93.91 L505.77,94.60 L505.87,95.32 L506.02,96.04 L506.51,96.71 L507.32,97.34 L507.30,98.08 L507.00,98.86 L506.43,99.66 L505.92,100.47 L505.77,101.22 L505.99,101.93 L506.30,102.62 L506.39,103.35 L506.27,104.10 L506.23,104.84 L506.57,105.53 L507.27,106.17 L508.03,106.81 L508.51,107.49 L508.72,108.19"/><path d="M532.49,87.65 L533.28,88.32 L533.76,89.02 L533.90,89.77 L534.00,90.52 L534.32,91.24 L534.88,91.94 L535.35,92.64 L535.43,93.39 L535.13,94.19 L534.74,94.99 L534.58,95.77 L534.65,96.52 L534.68,97.27 L534.37,98.07 L533.74,98.90 L533.93,99.63 L534.41,100.34 L535.15,101.02 L535.85,101.70 L536.18,102.42 L536.13,103.19 L535.99,103.96 L536.08,104.71 L536.38,105.44 L536.59,106.17 L536.43,106.95 L535.90,107.77 L535.33,108.59 L535.01,109.38 L534.99,110.15"/><path d="M527.91,88.15 L527.28,88.98 L526.97,89.78 L527.00,90.53 L527.07,91.28 L526.91,92.06 L526.52,92.86 L526.22,93.66 L526.30,94.41 L526.77,95.11 L527.33,95.81 L527.65,96.53 L527.75,97.28 L527.89,98.03 L528.37,98.73 L529.16,99.40 L529.14,100.17 L528.82,100.96 L528.25,101.78 L527.72,102.60 L527.56,103.38 L527.77,104.11 L528.07,104.84 L528.16,105.59 L528.02,106.36 L527.97,107.13 L528.30,107.85 L529.00,108.53 L529.74,109.21 L530.22,109.92 L530.41,110.65"/><path d="M554.18,90.94 L554.98,91.58 L555.46,92.26 L555.60,92.97 L555.69,93.69 L556.02,94.39 L556.57,95.06 L557.05,95.74 L557.13,96.46 L556.82,97.23 L556.44,98.01 L556.28,98.76 L556.35,99.48 L556.38,100.21 L556.07,100.98 L555.43,101.79 L555.63,102.50 L556.11,103.18 L556.85,103.82 L557.55,104.48 L557.87,105.17 L557.82,105.91 L557.69,106.66 L557.78,107.38 L558.07,108.08 L558.29,108.79 L558.13,109.54 L557.60,110.33 L557.03,111.13 L556.71,111.90 L556.68,112.64"/><path d="M549.62,91.46 L548.98,92.27 L548.67,93.04 L548.70,93.77 L548.77,94.49 L548.61,95.24 L548.23,96.02 L547.92,96.79 L548.00,97.51 L548.48,98.19 L549.03,98.86 L549.36,99.56 L549.45,100.28 L549.59,100.99 L550.07,101.67 L550.87,102.31 L550.84,103.05 L550.52,103.82 L549.95,104.62 L549.42,105.41 L549.26,106.16 L549.48,106.87 L549.77,107.57 L549.86,108.29 L549.73,109.04 L549.68,109.78 L550.00,110.47 L550.70,111.13 L551.44,111.77 L551.92,112.45 L552.12,113.16"/><path d="M576.19,93.48 L576.97,94.13 L577.44,94.82 L577.57,95.54 L577.65,96.26 L577.96,96.96 L578.50,97.64 L578.96,98.32 L579.03,99.04 L578.71,99.81 L578.31,100.57 L578.14,101.32 L578.20,102.05 L578.21,102.77 L577.88,103.54 L577.24,104.33 L577.42,105.04 L577.89,105.73 L578.62,106.39 L579.30,107.05 L579.62,107.75 L579.55,108.49 L579.41,109.23 L579.48,109.95 L579.76,110.66 L579.97,111.37 L579.79,112.11 L579.25,112.90 L578.66,113.68 L578.33,114.44 L578.29,115.18"/><path d="M571.61,93.92 L570.97,94.71 L570.64,95.48 L570.65,96.20 L570.71,96.93 L570.54,97.68 L570.14,98.44 L569.82,99.21 L569.89,99.93 L570.35,100.61 L570.89,101.29 L571.20,101.99 L571.28,102.71 L571.41,103.43 L571.88,104.12 L572.66,104.77 L572.62,105.51 L572.29,106.27 L571.70,107.05 L571.16,107.84 L570.98,108.58 L571.19,109.29 L571.47,110.00 L571.54,110.72 L571.40,111.46 L571.33,112.20 L571.65,112.90 L572.33,113.56 L573.06,114.22 L573.53,114.91 L573.71,115.62"/><path d="M597.79,96.87 L598.58,97.51 L599.05,98.19 L599.18,98.91 L599.26,99.63 L599.58,100.32 L600.12,100.99 L600.58,101.67 L600.66,102.39 L600.34,103.15 L599.94,103.92 L599.77,104.67 L599.84,105.39 L599.85,106.11 L599.53,106.87 L598.89,107.67 L599.07,108.38 L599.54,109.06 L600.28,109.71 L600.96,110.37 L601.28,111.06 L601.22,111.79 L601.08,112.54 L601.15,113.26 L601.44,113.95 L601.65,114.66 L601.48,115.41 L600.94,116.19 L600.35,116.98 L600.03,117.74 L599.99,118.47"/><path d="M593.21,97.33 L592.57,98.13 L592.25,98.89 L592.26,99.61 L592.33,100.33 L592.16,101.08 L591.76,101.85 L591.44,102.61 L591.52,103.33 L591.98,104.01 L592.52,104.68 L592.84,105.37 L592.92,106.09 L593.05,106.81 L593.52,107.49 L594.31,108.13 L594.27,108.86 L593.95,109.62 L593.36,110.41 L592.82,111.19 L592.65,111.94 L592.86,112.65 L593.15,113.34 L593.22,114.06 L593.08,114.81 L593.02,115.54 L593.34,116.23 L594.02,116.89 L594.76,117.54 L595.23,118.22 L595.41,118.93"/><path d="M617.79,100.46 L618.58,101.10 L619.05,101.78 L619.18,102.48 L619.26,103.20 L619.58,103.89 L620.12,104.55 L620.58,105.22 L620.65,105.94 L620.34,106.69 L619.94,107.45 L619.77,108.19 L619.84,108.90 L619.85,109.62 L619.53,110.38 L618.89,111.16 L619.07,111.87 L619.54,112.54 L620.28,113.18 L620.96,113.84 L621.28,114.52 L621.22,115.25 L621.08,115.99 L621.15,116.70 L621.44,117.39 L621.65,118.09 L621.47,118.83 L620.94,119.60 L620.35,120.39 L620.03,121.14 L619.99,121.86"/><path d="M613.21,100.94 L612.57,101.72 L612.25,102.48 L612.26,103.20 L612.33,103.91 L612.16,104.65 L611.76,105.41 L611.45,106.16 L611.52,106.88 L611.98,107.55 L612.52,108.21 L612.84,108.90 L612.92,109.62 L613.05,110.32 L613.52,111.00 L614.31,111.64 L614.27,112.36 L613.95,113.11 L613.36,113.90 L612.83,114.67 L612.65,115.41 L612.86,116.11 L613.15,116.80 L613.22,117.51 L613.08,118.25 L613.02,118.98 L613.34,119.66 L614.02,120.32 L614.76,120.96 L615.23,121.63 L615.41,122.34"/><path d="M637.99,104.98 L638.77,105.61 L639.23,106.28 L639.36,106.97 L639.43,107.67 L639.75,108.35 L640.28,109.00 L640.74,109.66 L640.80,110.36 L640.48,111.10 L640.08,111.85 L639.90,112.57 L639.96,113.27 L639.97,113.98 L639.64,114.71 L638.99,115.48 L639.17,116.17 L639.63,116.83 L640.36,117.47 L641.04,118.11 L641.35,118.79 L641.28,119.50 L641.13,120.22 L641.20,120.92 L641.48,121.60 L641.68,122.29 L641.50,123.01 L640.96,123.77 L640.36,124.53 L640.04,125.27 L639.99,125.98"/><path d="M633.41,105.42 L632.76,106.19 L632.43,106.92 L632.44,107.63 L632.50,108.33 L632.32,109.05 L631.92,109.80 L631.60,110.54 L631.66,111.24 L632.12,111.90 L632.65,112.55 L632.97,113.23 L633.04,113.93 L633.17,114.62 L633.63,115.29 L634.41,115.92 L634.36,116.63 L634.04,117.37 L633.44,118.13 L632.90,118.89 L632.72,119.61 L632.92,120.30 L633.20,120.98 L633.27,121.68 L633.12,122.40 L633.05,123.11 L633.36,123.79 L634.04,124.43 L634.77,125.07 L635.23,125.73 L635.41,126.42"/><path d="M658.29,106.92 L659.07,107.58 L659.52,108.27 L659.63,108.99 L659.70,109.71 L660.00,110.41 L660.53,111.09 L660.97,111.78 L661.03,112.50 L660.70,113.25 L660.28,114.01 L660.10,114.75 L660.14,115.47 L660.14,116.19 L659.80,116.94 L659.14,117.72 L659.31,118.43 L659.77,119.12 L660.48,119.79 L661.15,120.46 L661.46,121.16 L661.38,121.89 L661.22,122.63 L661.28,123.35 L661.55,124.05 L661.74,124.76 L661.55,125.50 L660.99,126.27 L660.39,127.04 L660.05,127.79 L659.99,128.52"/><path d="M653.71,107.28 L653.05,108.06 L652.71,108.81 L652.71,109.53 L652.75,110.25 L652.57,110.99 L652.15,111.75 L651.82,112.50 L651.88,113.22 L652.32,113.91 L652.85,114.59 L653.15,115.29 L653.22,116.01 L653.33,116.73 L653.78,117.42 L654.56,118.08 L654.50,118.81 L654.16,119.56 L653.56,120.33 L653.00,121.10 L652.81,121.84 L653.00,122.55 L653.27,123.25 L653.33,123.97 L653.17,124.71 L653.09,125.44 L653.40,126.14 L654.07,126.81 L654.78,127.48 L655.24,128.17 L655.41,128.88"/><path d="M678.29,111.02 L679.07,111.69 L679.52,112.38 L679.63,113.10 L679.70,113.82 L680.00,114.53 L680.53,115.21 L680.97,115.90 L681.03,116.63 L680.70,117.38 L680.28,118.14 L680.10,118.88 L680.14,119.61 L680.14,120.34 L679.80,121.09 L679.14,121.87 L679.31,122.58 L679.77,123.28 L680.48,123.95 L681.15,124.62 L681.46,125.33 L681.38,126.06 L681.22,126.80 L681.28,127.53 L681.55,128.23 L681.74,128.94 L681.55,129.69 L680.99,130.46 L680.39,131.23 L680.05,131.99 L679.99,132.72"/><path d="M673.71,111.38 L673.05,112.16 L672.71,112.91 L672.71,113.64 L672.75,114.37 L672.57,115.11 L672.15,115.87 L671.82,116.62 L671.88,117.35 L672.32,118.04 L672.85,118.72 L673.15,119.43 L673.22,120.15 L673.33,120.87 L673.78,121.56 L674.56,122.23 L674.50,122.96 L674.16,123.72 L673.56,124.49 L673.00,125.26 L672.81,126.01 L673.00,126.72 L673.27,127.42 L673.33,128.15 L673.17,128.89 L673.09,129.62 L673.40,130.33 L674.07,131.00 L674.78,131.67 L675.24,132.37 L675.41,133.08"/><path d="M698.29,116.02 L699.07,116.69 L699.52,117.38 L699.63,118.10 L699.70,118.82 L700.00,119.53 L700.53,120.21 L700.97,120.90 L701.03,121.63 L700.70,122.38 L700.28,123.14 L700.10,123.88 L700.14,124.61 L700.14,125.34 L699.80,126.09 L699.14,126.87 L699.31,127.58 L699.77,128.28 L700.48,128.95 L701.15,129.62 L701.46,130.33 L701.38,131.06 L701.22,131.80 L701.28,132.53 L701.55,133.23 L701.74,133.94 L701.55,134.69 L700.99,135.46 L700.39,136.23 L700.05,136.99 L699.99,137.72"/><path d="M693.71,116.38 L693.05,117.16 L692.71,117.91 L692.71,118.64 L692.75,119.37 L692.57,120.11 L692.15,120.87 L691.82,121.62 L691.88,122.35 L692.32,123.04 L692.85,123.72 L693.15,124.43 L693.22,125.15 L693.33,125.87 L693.78,126.56 L694.56,127.23 L694.50,127.96 L694.16,128.72 L693.56,129.49 L693.00,130.26 L692.81,131.01 L693.00,131.72 L693.27,132.42 L693.33,133.15 L693.17,133.89 L693.09,134.62 L693.40,135.33 L694.07,136.00 L694.78,136.67 L695.24,137.37 L695.41,138.08"/><path d="M718.29,121.02 L719.07,121.69 L719.52,122.38 L719.63,123.10 L719.70,123.82 L720.00,124.53 L720.53,125.21 L720.97,125.90 L721.03,126.63 L720.70,127.38 L720.28,128.14 L720.10,128.88 L720.14,129.61 L720.14,130.34 L719.80,131.09 L719.14,131.87 L719.31,132.58 L719.77,133.28 L720.48,133.95 L721.15,134.62 L721.46,135.33 L721.38,136.06 L721.22,136.80 L721.28,137.53 L721.55,138.23 L721.74,138.94 L721.55,139.69 L720.99,140.46 L720.39,141.23 L720.05,141.99 L719.99,142.72"/><path d="M713.71,121.38 L713.05,122.16 L712.71,122.91 L712.71,123.64 L712.75,124.37 L712.57,125.11 L712.15,125.87 L711.82,126.62 L711.88,127.35 L712.32,128.04 L712.85,128.72 L713.15,129.43 L713.22,130.15 L713.33,130.87 L713.78,131.56 L714.56,132.23 L714.50,132.96 L714.16,133.72 L713.56,134.49 L713.00,135.26 L712.81,136.01 L713.00,136.72 L713.27,137.42 L713.33,138.15 L713.17,138.89 L713.09,139.62 L713.40,140.33 L714.07,141.00 L714.78,141.67 L715.24,142.37 L715.41,143.08"/><path d="M738.29,127.67 L739.08,128.32 L739.55,129.00 L739.68,129.72 L739.76,130.44 L740.08,131.14 L740.62,131.82 L741.08,132.50 L741.16,133.22 L740.84,133.99 L740.44,134.76 L740.27,135.51 L740.34,136.23 L740.35,136.96 L740.03,137.72 L739.39,138.52 L739.57,139.23 L740.04,139.91 L740.78,140.57 L741.46,141.23 L741.78,141.93 L741.72,142.67 L741.58,143.41 L741.65,144.13 L741.94,144.84 L742.15,145.55 L741.98,146.29 L741.44,147.08 L740.85,147.87 L740.53,148.63 L740.49,149.37"/><path d="M733.71,128.13 L733.07,128.93 L732.75,129.69 L732.76,130.42 L732.83,131.14 L732.66,131.89 L732.26,132.66 L731.94,133.43 L732.02,134.15 L732.48,134.83 L733.02,135.51 L733.34,136.21 L733.42,136.93 L733.55,137.65 L734.02,138.33 L734.81,138.98 L734.77,139.72 L734.45,140.48 L733.86,141.27 L733.32,142.06 L733.15,142.80 L733.36,143.51 L733.65,144.22 L733.72,144.94 L733.58,145.68 L733.52,146.42 L733.84,147.12 L734.52,147.78 L735.26,148.44 L735.73,149.12 L735.91,149.83"/><path d="M758.28,132.64 L759.08,133.28 L759.56,133.96 L759.70,134.67 L759.79,135.39 L760.12,136.09 L760.67,136.76 L761.15,137.44 L761.23,138.16 L760.92,138.93 L760.54,139.71 L760.38,140.46 L760.45,141.18 L760.48,141.91 L760.17,142.68 L759.53,143.49 L759.73,144.20 L760.21,144.88 L760.95,145.52 L761.65,146.18 L761.97,146.87 L761.92,147.61 L761.79,148.36 L761.88,149.08 L762.17,149.78 L762.39,150.49 L762.23,151.24 L761.70,152.03 L761.13,152.83 L760.81,153.60 L760.78,154.34"/><path d="M753.72,133.16 L753.08,133.97 L752.77,134.74 L752.80,135.47 L752.87,136.19 L752.71,136.94 L752.33,137.72 L752.02,138.49 L752.10,139.21 L752.58,139.89 L753.13,140.56 L753.46,141.26 L753.55,141.98 L753.69,142.69 L754.17,143.37 L754.97,144.01 L754.94,144.75 L754.62,145.52 L754.05,146.32 L753.52,147.11 L753.36,147.86 L753.58,148.57 L753.87,149.27 L753.96,149.99 L753.83,150.74 L753.78,151.48 L754.10,152.17 L754.80,152.83 L755.54,153.47 L756.02,154.15 L756.22,154.86"/><path d="M778.98,139.33 L779.78,139.96 L780.26,140.62 L780.40,141.32 L780.49,142.03 L780.82,142.72 L781.37,143.37 L781.84,144.03 L781.93,144.74 L781.62,145.50 L781.24,146.27 L781.08,147.00 L781.15,147.71 L781.18,148.43 L780.87,149.19 L780.23,149.98 L780.43,150.68 L780.91,151.34 L781.65,151.97 L782.34,152.61 L782.67,153.29 L782.62,154.02 L782.49,154.76 L782.58,155.47 L782.87,156.15 L783.09,156.84 L782.93,157.58 L782.40,158.36 L781.82,159.15 L781.51,159.91 L781.48,160.63"/><path d="M774.42,139.87 L773.78,140.66 L773.47,141.42 L773.50,142.14 L773.57,142.85 L773.41,143.58 L773.03,144.35 L772.72,145.11 L772.81,145.82 L773.28,146.48 L773.83,147.13 L774.16,147.82 L774.25,148.53 L774.39,149.23 L774.87,149.89 L775.67,150.52 L775.64,151.24 L775.33,152.00 L774.75,152.79 L774.22,153.57 L774.06,154.31 L774.28,155.00 L774.57,155.68 L774.66,156.39 L774.53,157.13 L774.48,157.86 L774.81,158.54 L775.50,159.18 L776.24,159.81 L776.72,160.47 L776.92,161.17"/><path d="M799.48,143.38 L800.29,143.99 L800.78,144.65 L800.94,145.36 L801.05,146.07 L801.39,146.75 L801.96,147.40 L802.45,148.06 L802.55,148.77 L802.26,149.54 L801.89,150.32 L801.75,151.06 L801.84,151.78 L801.88,152.50 L801.59,153.27 L800.98,154.08 L801.19,154.78 L801.68,155.44 L802.44,156.06 L803.15,156.69 L803.49,157.36 L803.46,158.10 L803.35,158.84 L803.45,159.55 L803.76,160.24 L803.99,160.93 L803.85,161.68 L803.34,162.48 L802.78,163.28 L802.49,164.05 L802.48,164.78"/><path d="M794.92,144.02 L794.31,144.83 L794.02,145.60 L794.06,146.32 L794.15,147.04 L794.01,147.78 L793.64,148.56 L793.35,149.33 L793.45,150.04 L793.94,150.70 L794.51,151.35 L794.85,152.03 L794.96,152.74 L795.12,153.45 L795.61,154.11 L796.42,154.72 L796.41,155.45 L796.12,156.22 L795.56,157.02 L795.05,157.82 L794.91,158.57 L795.14,159.26 L795.45,159.95 L795.55,160.66 L795.44,161.40 L795.41,162.14 L795.75,162.81 L796.46,163.44 L797.22,164.06 L797.71,164.72 L797.92,165.42"/><path d="M822.60,146.90 L823.22,147.61 L823.32,148.32 L822.89,149.03 L822.45,149.74 L822.51,150.45 L823.08,151.16 L823.62,151.87 L823.62,152.58 L823.08,153.29 L822.51,154.00 L822.45,154.71 L822.89,155.42 L823.32,156.13 L823.22,156.84 L822.60,157.55 L822.18,158.26 L822.28,158.97 L822.89,159.68 L823.49,160.39 L823.55,161.10 L823.08,161.81 L822.58,162.52 L822.58,163.23 L823.08,163.94 L823.55,164.65 L823.49,165.36 L822.89,166.07 L822.28,166.78 L822.18,167.49 L822.60,168.20"/><path d="M817.20,146.90 L816.58,147.61 L816.48,148.32 L816.91,149.03 L817.35,149.74 L817.29,150.45 L816.72,151.16 L816.18,151.87 L816.18,152.58 L816.72,153.29 L817.29,154.00 L817.35,154.71 L816.91,155.42 L816.48,156.13 L816.58,156.84 L817.20,157.55 L817.62,158.26 L817.52,158.97 L816.91,159.68 L816.31,160.39 L816.25,161.10 L816.72,161.81 L817.22,162.52 L817.22,163.23 L816.72,163.94 L816.25,164.65 L816.31,165.36 L816.91,166.07 L817.52,166.78 L817.62,167.49 L817.20,168.20"/><path d="M844.90,147.20 L845.52,147.90 L845.62,148.60 L845.19,149.30 L844.75,150.00 L844.81,150.70 L845.38,151.40 L845.92,152.10 L845.92,152.80 L845.38,153.50 L844.81,154.20 L844.75,154.90 L845.19,155.60 L845.62,156.30 L845.52,157.00 L844.90,157.70 L844.48,158.40 L844.58,159.10 L845.19,159.80 L845.79,160.50 L845.85,161.20 L845.38,161.90 L844.88,162.60 L844.88,163.30 L845.38,164.00 L845.85,164.70 L845.79,165.40 L845.19,166.10 L844.58,166.80 L844.48,167.50 L844.90,168.20"/><path d="M839.50,147.20 L838.88,147.90 L838.78,148.60 L839.21,149.30 L839.65,150.00 L839.59,150.70 L839.02,151.40 L838.48,152.10 L838.48,152.80 L839.02,153.50 L839.59,154.20 L839.65,154.90 L839.21,155.60 L838.78,156.30 L838.88,157.00 L839.50,157.70 L839.92,158.40 L839.82,159.10 L839.21,159.80 L838.61,160.50 L838.55,161.20 L839.02,161.90 L839.52,162.60 L839.52,163.30 L839.02,164.00 L838.55,164.70 L838.61,165.40 L839.21,166.10 L839.82,166.80 L839.92,167.50 L839.50,168.20"/><path d="M867.40,147.40 L868.02,148.10 L868.12,148.80 L867.69,149.50 L867.25,150.20 L867.31,150.90 L867.88,151.60 L868.42,152.30 L868.42,153.00 L867.88,153.70 L867.31,154.40 L867.25,155.10 L867.69,155.80 L868.12,156.50 L868.02,157.20 L867.40,157.90 L866.98,158.60 L867.08,159.30 L867.69,160.00 L868.29,160.70 L868.35,161.40 L867.88,162.10 L867.38,162.80 L867.38,163.50 L867.88,164.20 L868.35,164.90 L868.29,165.60 L867.69,166.30 L867.08,167.00 L866.98,167.70 L867.40,168.40"/><path d="M862.00,147.40 L861.38,148.10 L861.28,148.80 L861.71,149.50 L862.15,150.20 L862.09,150.90 L861.52,151.60 L860.98,152.30 L860.98,153.00 L861.52,153.70 L862.09,154.40 L862.15,155.10 L861.71,155.80 L861.28,156.50 L861.38,157.20 L862.00,157.90 L862.42,158.60 L862.32,159.30 L861.71,160.00 L861.11,160.70 L861.05,161.40 L861.52,162.10 L862.02,162.80 L862.02,163.50 L861.52,164.20 L861.05,164.90 L861.11,165.60 L861.71,166.30 L862.32,167.00 L862.42,167.70 L862.00,168.40"/><path d="M889.90,147.40 L890.52,148.10 L890.62,148.80 L890.19,149.50 L889.75,150.20 L889.81,150.90 L890.38,151.60 L890.92,152.30 L890.92,153.00 L890.38,153.70 L889.81,154.40 L889.75,155.10 L890.19,155.80 L890.62,156.50 L890.52,157.20 L889.90,157.90 L889.48,158.60 L889.58,159.30 L890.19,160.00 L890.79,160.70 L890.85,161.40 L890.38,162.10 L889.88,162.80 L889.88,163.50 L890.38,164.20 L890.85,164.90 L890.79,165.60 L890.19,166.30 L889.58,167.00 L889.48,167.70 L889.90,168.40"/><path d="M884.50,147.40 L883.88,148.10 L883.78,148.80 L884.21,149.50 L884.65,150.20 L884.59,150.90 L884.02,151.60 L883.48,152.30 L883.48,153.00 L884.02,153.70 L884.59,154.40 L884.65,155.10 L884.21,155.80 L883.78,156.50 L883.88,157.20 L884.50,157.90 L884.92,158.60 L884.82,159.30 L884.21,160.00 L883.61,160.70 L883.55,161.40 L884.02,162.10 L884.52,162.80 L884.52,163.50 L884.02,164.20 L883.55,164.90 L883.61,165.60 L884.21,166.30 L884.82,167.00 L884.92,167.70 L884.50,168.40"/><path d="M912.30,147.40 L912.92,148.10 L913.02,148.80 L912.59,149.50 L912.15,150.20 L912.21,150.90 L912.78,151.60 L913.32,152.30 L913.32,153.00 L912.78,153.70 L912.21,154.40 L912.15,155.10 L912.59,155.80 L913.02,156.50 L912.92,157.20 L912.30,157.90 L911.88,158.60 L911.98,159.30 L912.59,160.00 L913.19,160.70 L913.25,161.40 L912.78,162.10 L912.28,162.80 L912.28,163.50 L912.78,164.20 L913.25,164.90 L913.19,165.60 L912.59,166.30 L911.98,167.00 L911.88,167.70 L912.30,168.40"/><path d="M906.90,147.40 L906.28,148.10 L906.18,148.80 L906.61,149.50 L907.05,150.20 L906.99,150.90 L906.42,151.60 L905.88,152.30 L905.88,153.00 L906.42,153.70 L906.99,154.40 L907.05,155.10 L906.61,155.80 L906.18,156.50 L906.28,157.20 L906.90,157.90 L907.32,158.60 L907.22,159.30 L906.61,160.00 L906.01,160.70 L905.95,161.40 L906.42,162.10 L906.92,162.80 L906.92,163.50 L906.42,164.20 L905.95,164.90 L906.01,165.60 L906.61,166.30 L907.22,167.00 L907.32,167.70 L906.90,168.40"/><path d="M934.50,147.40 L935.12,148.10 L935.22,148.80 L934.79,149.50 L934.35,150.20 L934.41,150.90 L934.98,151.60 L935.52,152.30 L935.52,153.00 L934.98,153.70 L934.41,154.40 L934.35,155.10 L934.79,155.80 L935.22,156.50 L935.12,157.20 L934.50,157.90 L934.08,158.60 L934.18,159.30 L934.79,160.00 L935.39,160.70 L935.45,161.40 L934.98,162.10 L934.48,162.80 L934.48,163.50 L934.98,164.20 L935.45,164.90 L935.39,165.60 L934.79,166.30 L934.18,167.00 L934.08,167.70 L934.50,168.40"/><path d="M929.10,147.40 L928.48,148.10 L928.38,148.80 L928.81,149.50 L929.25,150.20 L929.19,150.90 L928.62,151.60 L928.08,152.30 L928.08,153.00 L928.62,153.70 L929.19,154.40 L929.25,155.10 L928.81,155.80 L928.38,156.50 L928.48,157.20 L929.10,157.90 L929.52,158.60 L929.42,159.30 L928.81,160.00 L928.21,160.70 L928.15,161.40 L928.62,162.10 L929.12,162.80 L929.12,163.50 L928.62,164.20 L928.15,164.90 L928.21,165.60 L928.81,166.30 L929.42,167.00 L929.52,167.70 L929.10,168.40"/><path d="M956.80,147.40 L957.42,148.10 L957.52,148.80 L957.09,149.50 L956.65,150.20 L956.71,150.90 L957.28,151.60 L957.82,152.30 L957.82,153.00 L957.28,153.70 L956.71,154.40 L956.65,155.10 L957.09,155.80 L957.52,156.50 L957.42,157.20 L956.80,157.90 L956.38,158.60 L956.48,159.30 L957.09,160.00 L957.69,160.70 L957.75,161.40 L957.28,162.10 L956.78,162.80 L956.78,163.50 L957.28,164.20 L957.75,164.90 L957.69,165.60 L957.09,166.30 L956.48,167.00 L956.38,167.70 L956.80,168.40"/><path d="M951.40,147.40 L950.78,148.10 L950.68,148.80 L951.11,149.50 L951.55,150.20 L951.49,150.90 L950.92,151.60 L950.38,152.30 L950.38,153.00 L950.92,153.70 L951.49,154.40 L951.55,155.10 L951.11,155.80 L950.68,156.50 L950.78,157.20 L951.40,157.90 L951.82,158.60 L951.72,159.30 L951.11,160.00 L950.51,160.70 L950.45,161.40 L950.92,162.10 L951.42,162.80 L951.42,163.50 L950.92,164.20 L950.45,164.90 L950.51,165.60 L951.11,166.30 L951.72,167.00 L951.82,167.70 L951.40,168.40"/><path d="M979.20,147.40 L979.82,148.10 L979.92,148.80 L979.49,149.50 L979.05,150.20 L979.11,150.90 L979.68,151.60 L980.22,152.30 L980.22,153.00 L979.68,153.70 L979.11,154.40 L979.05,155.10 L979.49,155.80 L979.92,156.50 L979.82,157.20 L979.20,157.90 L978.78,158.60 L978.88,159.30 L979.49,160.00 L980.09,160.70 L980.15,161.40 L979.68,162.10 L979.18,162.80 L979.18,163.50 L979.68,164.20 L980.15,164.90 L980.09,165.60 L979.49,166.30 L978.88,167.00 L978.78,167.70 L979.20,168.40"/><path d="M973.80,147.40 L973.18,148.10 L973.08,148.80 L973.51,149.50 L973.95,150.20 L973.89,150.90 L973.32,151.60 L972.78,152.30 L972.78,153.00 L973.32,153.70 L973.89,154.40 L973.95,155.10 L973.51,155.80 L973.08,156.50 L973.18,157.20 L973.80,157.90 L974.22,158.60 L974.12,159.30 L973.51,160.00 L972.91,160.70 L972.85,161.40 L973.32,162.10 L973.82,162.80 L973.82,163.50 L973.32,164.20 L972.85,164.90 L972.91,165.60 L973.51,166.30 L974.12,167.00 L974.22,167.70 L973.80,168.40"/><path d="M1001.50,147.40 L1002.12,148.10 L1002.22,148.80 L1001.79,149.50 L1001.35,150.20 L1001.41,150.90 L1001.98,151.60 L1002.52,152.30 L1002.52,153.00 L1001.98,153.70 L1001.41,154.40 L1001.35,155.10 L1001.79,155.80 L1002.22,156.50 L1002.12,157.20 L1001.50,157.90 L1001.08,158.60 L1001.18,159.30 L1001.79,160.00 L1002.39,160.70 L1002.45,161.40 L1001.98,162.10 L1001.48,162.80 L1001.48,163.50 L1001.98,164.20 L1002.45,164.90 L1002.39,165.60 L1001.79,166.30 L1001.18,167.00 L1001.08,167.70 L1001.50,168.40"/><path d="M996.10,147.40 L995.48,148.10 L995.38,148.80 L995.81,149.50 L996.25,150.20 L996.19,150.90 L995.62,151.60 L995.08,152.30 L995.08,153.00 L995.62,153.70 L996.19,154.40 L996.25,155.10 L995.81,155.80 L995.38,156.50 L995.48,157.20 L996.10,157.90 L996.52,158.60 L996.42,159.30 L995.81,160.00 L995.21,160.70 L995.15,161.40 L995.62,162.10 L996.12,162.80 L996.12,163.50 L995.62,164.20 L995.15,164.90 L995.21,165.60 L995.81,166.30 L996.42,167.00 L996.52,167.70 L996.10,168.40"/><path d="M1023.90,147.40 L1024.52,148.10 L1024.62,148.80 L1024.19,149.50 L1023.75,150.20 L1023.81,150.90 L1024.38,151.60 L1024.92,152.30 L1024.92,153.00 L1024.38,153.70 L1023.81,154.40 L1023.75,155.10 L1024.19,155.80 L1024.62,156.50 L1024.52,157.20 L1023.90,157.90 L1023.48,158.60 L1023.58,159.30 L1024.19,160.00 L1024.79,160.70 L1024.85,161.40 L1024.38,162.10 L1023.88,162.80 L1023.88,163.50 L1024.38,164.20 L1024.85,164.90 L1024.79,165.60 L1024.19,166.30 L1023.58,167.00 L1023.48,167.70 L1023.90,168.40"/><path d="M1018.50,147.40 L1017.88,148.10 L1017.78,148.80 L1018.21,149.50 L1018.65,150.20 L1018.59,150.90 L1018.02,151.60 L1017.48,152.30 L1017.48,153.00 L1018.02,153.70 L1018.59,154.40 L1018.65,155.10 L1018.21,155.80 L1017.78,156.50 L1017.88,157.20 L1018.50,157.90 L1018.92,158.60 L1018.82,159.30 L1018.21,160.00 L1017.61,160.70 L1017.55,161.40 L1018.02,162.10 L1018.52,162.80 L1018.52,163.50 L1018.02,164.20 L1017.55,164.90 L1017.61,165.60 L1018.21,166.30 L1018.82,167.00 L1018.92,167.70 L1018.50,168.40"/></g><g fill="none" stroke="#ffff00" stroke-width="4.2" stroke-linejoin="round"><path d="M7.69,144.22 L8.34,144.99 L8.67,145.72 L8.66,146.43 L8.60,147.13 L8.78,147.85 L9.18,148.60 L9.50,149.34 L9.44,150.04 L8.98,150.70 L8.45,151.35 L8.13,152.03 L8.06,152.73 L7.93,153.42 L7.47,154.09 L6.69,154.72 L6.74,155.43 L7.06,156.17 L7.66,156.93 L8.20,157.69 L8.38,158.41 L8.18,159.10 L7.90,159.78 L7.83,160.48 L7.98,161.20 L8.05,161.91 L7.74,162.59 L7.06,163.23 L6.33,163.87 L5.87,164.53 L5.69,165.22"/><path d="M3.11,143.78 L2.33,144.41 L1.87,145.08 L1.74,145.77 L1.67,146.47 L1.35,147.15 L0.82,147.80 L0.36,148.46 L0.30,149.16 L0.62,149.90 L1.02,150.65 L1.20,151.37 L1.14,152.07 L1.13,152.78 L1.46,153.51 L2.11,154.28 L1.93,154.97 L1.47,155.63 L0.74,156.27 L0.06,156.91 L-0.25,157.59 L-0.18,158.30 L-0.03,159.02 L-0.10,159.72 L-0.38,160.40 L-0.58,161.09 L-0.40,161.81 L0.14,162.57 L0.74,163.33 L1.06,164.07 L1.11,164.78"/><path d="M27.49,139.42 L28.13,140.21 L28.46,140.97 L28.45,141.70 L28.39,142.42 L28.56,143.16 L28.96,143.93 L29.28,144.68 L29.21,145.40 L28.75,146.09 L28.21,146.76 L27.90,147.46 L27.82,148.18 L27.69,148.89 L27.22,149.57 L26.44,150.22 L26.48,150.95 L26.81,151.71 L27.40,152.50 L27.94,153.28 L28.11,154.02 L27.91,154.73 L27.63,155.43 L27.56,156.15 L27.70,156.89 L27.76,157.62 L27.45,158.32 L26.77,158.98 L26.04,159.63 L25.57,160.31 L25.39,161.02"/><path d="M22.91,138.98 L22.13,139.63 L21.66,140.31 L21.53,141.02 L21.45,141.74 L21.14,142.44 L20.60,143.11 L20.14,143.80 L20.07,144.52 L20.39,145.27 L20.79,146.04 L20.96,146.78 L20.90,147.50 L20.89,148.23 L21.22,148.99 L21.86,149.78 L21.68,150.49 L21.21,151.17 L20.48,151.82 L19.80,152.48 L19.49,153.18 L19.55,153.91 L19.69,154.65 L19.62,155.37 L19.34,156.07 L19.14,156.78 L19.31,157.52 L19.85,158.30 L20.44,159.09 L20.77,159.85 L20.81,160.58"/><path d="M47.98,132.77 L48.61,133.58 L48.92,134.35 L48.89,135.08 L48.81,135.81 L48.97,136.56 L49.35,137.34 L49.65,138.11 L49.57,138.83 L49.09,139.51 L48.54,140.18 L48.21,140.87 L48.11,141.59 L47.97,142.31 L47.48,142.99 L46.68,143.62 L46.71,144.36 L47.02,145.13 L47.59,145.93 L48.11,146.73 L48.27,147.48 L48.05,148.19 L47.75,148.89 L47.66,149.61 L47.79,150.36 L47.84,151.10 L47.51,151.79 L46.81,152.44 L46.06,153.09 L45.58,153.76 L45.38,154.47"/><path d="M43.42,132.23 L42.62,132.86 L42.13,133.54 L41.99,134.26 L41.89,134.98 L41.56,135.67 L41.01,136.34 L40.53,137.02 L40.45,137.74 L40.75,138.51 L41.13,139.29 L41.29,140.04 L41.21,140.77 L41.18,141.50 L41.49,142.27 L42.12,143.08 L41.92,143.79 L41.44,144.46 L40.69,145.11 L39.99,145.76 L39.66,146.45 L39.71,147.19 L39.84,147.94 L39.75,148.66 L39.45,149.36 L39.23,150.07 L39.39,150.82 L39.91,151.62 L40.48,152.42 L40.79,153.19 L40.82,153.93"/><path d="M67.98,127.76 L68.62,128.57 L68.93,129.34 L68.90,130.07 L68.83,130.79 L68.99,131.54 L69.37,132.32 L69.68,133.09 L69.60,133.81 L69.12,134.49 L68.57,135.16 L68.24,135.86 L68.15,136.58 L68.01,137.29 L67.53,137.97 L66.73,138.61 L66.76,139.35 L67.08,140.12 L67.65,140.92 L68.18,141.71 L68.34,142.46 L68.12,143.17 L67.83,143.87 L67.74,144.59 L67.87,145.34 L67.92,146.08 L67.60,146.77 L66.90,147.43 L66.16,148.07 L65.68,148.75 L65.48,149.46"/><path d="M63.42,127.24 L62.62,127.88 L62.14,128.56 L62.00,129.27 L61.91,129.99 L61.58,130.69 L61.03,131.36 L60.55,132.04 L60.47,132.76 L60.78,133.53 L61.16,134.31 L61.32,135.06 L61.25,135.78 L61.22,136.51 L61.53,137.28 L62.17,138.09 L61.97,138.80 L61.49,139.48 L60.75,140.12 L60.05,140.78 L59.73,141.47 L59.78,142.21 L59.91,142.96 L59.82,143.68 L59.53,144.38 L59.31,145.09 L59.47,145.84 L60.00,146.63 L60.57,147.43 L60.89,148.20 L60.92,148.94"/><path d="M87.99,121.43 L88.63,122.21 L88.96,122.96 L88.95,123.67 L88.89,124.38 L89.06,125.12 L89.46,125.87 L89.78,126.62 L89.71,127.33 L89.25,128.00 L88.71,128.67 L88.40,129.35 L88.32,130.06 L88.19,130.77 L87.72,131.44 L86.94,132.08 L86.98,132.80 L87.31,133.55 L87.90,134.32 L88.44,135.09 L88.61,135.83 L88.41,136.52 L88.13,137.21 L88.06,137.92 L88.20,138.65 L88.26,139.38 L87.95,140.06 L87.27,140.71 L86.54,141.36 L86.07,142.03 L85.89,142.73"/><path d="M83.41,120.97 L82.63,121.61 L82.16,122.28 L82.03,122.99 L81.95,123.70 L81.64,124.38 L81.10,125.05 L80.64,125.72 L80.57,126.43 L80.89,127.18 L81.29,127.93 L81.46,128.67 L81.40,129.38 L81.39,130.09 L81.72,130.84 L82.36,131.62 L82.18,132.32 L81.71,132.99 L80.98,133.64 L80.30,134.29 L79.99,134.97 L80.05,135.70 L80.19,136.43 L80.12,137.14 L79.84,137.83 L79.64,138.52 L79.81,139.26 L80.35,140.03 L80.94,140.80 L81.27,141.55 L81.31,142.27"/><path d="M107.99,116.53 L108.63,117.30 L108.96,118.05 L108.95,118.76 L108.89,119.47 L109.06,120.20 L109.46,120.95 L109.78,121.70 L109.71,122.41 L109.25,123.07 L108.71,123.73 L108.40,124.42 L108.32,125.12 L108.19,125.82 L107.72,126.49 L106.94,127.13 L106.98,127.84 L107.31,128.59 L107.90,129.36 L108.44,130.13 L108.61,130.86 L108.41,131.55 L108.13,132.24 L108.06,132.95 L108.20,133.67 L108.26,134.39 L107.95,135.08 L107.27,135.72 L106.54,136.36 L106.07,137.03 L105.89,137.73"/><path d="M103.41,116.07 L102.63,116.71 L102.16,117.38 L102.03,118.08 L101.95,118.78 L101.64,119.47 L101.10,120.13 L100.64,120.79 L100.57,121.50 L100.89,122.25 L101.29,123.00 L101.46,123.73 L101.40,124.44 L101.39,125.15 L101.72,125.90 L102.36,126.67 L102.18,127.37 L101.71,128.04 L100.98,128.68 L100.30,129.32 L99.99,130.01 L100.05,130.73 L100.19,131.45 L100.12,132.16 L99.84,132.85 L99.64,133.54 L99.81,134.27 L100.35,135.04 L100.94,135.81 L101.27,136.56 L101.31,137.27"/><path d="M128.38,111.57 L129.01,112.36 L129.33,113.11 L129.30,113.83 L129.23,114.53 L129.39,115.27 L129.77,116.03 L130.08,116.78 L129.99,117.49 L129.52,118.15 L128.97,118.80 L128.64,119.48 L128.55,120.19 L128.41,120.89 L127.93,121.55 L127.13,122.17 L127.16,122.89 L127.47,123.64 L128.05,124.43 L128.58,125.21 L128.74,125.94 L128.52,126.63 L128.23,127.31 L128.14,128.02 L128.27,128.75 L128.32,129.47 L127.99,130.15 L127.30,130.79 L126.56,131.42 L126.08,132.08 L125.88,132.77"/><path d="M123.82,111.03 L123.02,111.65 L122.54,112.31 L122.40,113.01 L122.31,113.72 L121.98,114.40 L121.43,115.05 L120.96,115.71 L120.87,116.42 L121.18,117.17 L121.56,117.93 L121.72,118.67 L121.65,119.37 L121.62,120.09 L121.94,120.84 L122.57,121.63 L122.37,122.32 L121.89,122.98 L121.15,123.61 L120.46,124.25 L120.13,124.93 L120.18,125.65 L120.31,126.38 L120.22,127.09 L119.93,127.77 L119.71,128.46 L119.87,129.19 L120.40,129.97 L120.98,130.76 L121.29,131.51 L121.32,132.23"/><path d="M148.38,108.28 L149.01,109.05 L149.32,109.77 L149.30,110.45 L149.22,111.13 L149.38,111.84 L149.77,112.57 L150.07,113.30 L149.99,113.97 L149.52,114.60 L148.97,115.22 L148.64,115.87 L148.55,116.54 L148.41,117.21 L147.93,117.84 L147.13,118.43 L147.16,119.12 L147.47,119.85 L148.05,120.60 L148.58,121.36 L148.74,122.06 L148.52,122.72 L148.22,123.37 L148.14,124.05 L148.27,124.75 L148.32,125.45 L147.99,126.09 L147.30,126.69 L146.56,127.29 L146.08,127.92 L145.88,128.58"/><path d="M143.82,107.72 L143.02,108.31 L142.54,108.94 L142.40,109.61 L142.31,110.28 L141.98,110.93 L141.43,111.55 L140.96,112.18 L140.88,112.85 L141.18,113.58 L141.57,114.31 L141.73,115.02 L141.65,115.70 L141.63,116.38 L141.94,117.10 L142.57,117.87 L142.37,118.53 L141.89,119.16 L141.15,119.76 L140.46,120.36 L140.13,121.00 L140.18,121.70 L140.31,122.40 L140.23,123.08 L139.93,123.73 L139.71,124.39 L139.87,125.09 L140.40,125.85 L140.98,126.60 L141.29,127.33 L141.32,128.02"/><path d="M168.39,104.38 L169.05,105.17 L169.39,105.93 L169.40,106.67 L169.35,107.40 L169.53,108.15 L169.95,108.92 L170.28,109.69 L170.23,110.42 L169.78,111.12 L169.25,111.82 L168.95,112.54 L168.89,113.27 L168.77,114.00 L168.32,114.70 L167.54,115.38 L167.60,116.12 L167.94,116.88 L168.55,117.67 L169.10,118.45 L169.29,119.20 L169.10,119.92 L168.83,120.64 L168.77,121.37 L168.93,122.12 L169.01,122.87 L168.70,123.58 L168.04,124.27 L167.32,124.95 L166.86,125.65 L166.69,126.38"/><path d="M163.81,104.02 L163.03,104.70 L162.58,105.40 L162.46,106.13 L162.40,106.86 L162.10,107.58 L161.57,108.28 L161.12,108.98 L161.07,109.71 L161.40,110.48 L161.82,111.25 L162.00,112.00 L161.95,112.73 L161.96,113.47 L162.30,114.23 L162.96,115.02 L162.79,115.75 L162.33,116.45 L161.61,117.13 L160.95,117.82 L160.64,118.53 L160.72,119.28 L160.88,120.03 L160.82,120.76 L160.55,121.48 L160.36,122.20 L160.55,122.95 L161.10,123.73 L161.71,124.52 L162.05,125.28 L162.11,126.02"/><path d="M188.38,101.06 L189.02,101.87 L189.33,102.64 L189.30,103.37 L189.23,104.09 L189.39,104.84 L189.77,105.62 L190.08,106.39 L190.00,107.11 L189.52,107.79 L188.97,108.46 L188.64,109.16 L188.55,109.88 L188.41,110.59 L187.93,111.27 L187.13,111.91 L187.16,112.65 L187.48,113.42 L188.05,114.22 L188.58,115.01 L188.74,115.76 L188.52,116.47 L188.23,117.17 L188.14,117.89 L188.27,118.64 L188.32,119.38 L188.00,120.07 L187.30,120.73 L186.56,121.37 L186.08,122.05 L185.88,122.76"/><path d="M183.82,100.54 L183.02,101.18 L182.54,101.86 L182.40,102.57 L182.31,103.29 L181.98,103.99 L181.43,104.66 L180.95,105.34 L180.87,106.06 L181.18,106.83 L181.56,107.61 L181.72,108.36 L181.65,109.08 L181.62,109.81 L181.93,110.58 L182.57,111.39 L182.37,112.10 L181.89,112.78 L181.15,113.42 L180.45,114.08 L180.13,114.77 L180.18,115.51 L180.31,116.26 L180.22,116.98 L179.93,117.68 L179.71,118.39 L179.87,119.14 L180.40,119.93 L180.97,120.73 L181.29,121.50 L181.32,122.24"/><path d="M208.69,96.94 L209.33,97.74 L209.64,98.50 L209.63,99.23 L209.56,99.95 L209.72,100.69 L210.12,101.46 L210.43,102.23 L210.35,102.95 L209.89,103.62 L209.34,104.29 L209.02,104.99 L208.94,105.71 L208.80,106.42 L208.33,107.10 L207.54,107.74 L207.57,108.48 L207.89,109.24 L208.48,110.03 L209.01,110.81 L209.18,111.56 L208.97,112.26 L208.68,112.96 L208.60,113.68 L208.74,114.42 L208.79,115.16 L208.47,115.85 L207.79,116.51 L207.05,117.16 L206.58,117.84 L206.39,118.54"/><path d="M204.11,96.46 L203.32,97.10 L202.85,97.78 L202.71,98.49 L202.63,99.21 L202.31,99.91 L201.76,100.58 L201.30,101.25 L201.22,101.97 L201.53,102.74 L201.93,103.51 L202.09,104.25 L202.02,104.97 L202.01,105.70 L202.32,106.46 L202.96,107.26 L202.77,107.96 L202.30,108.64 L201.56,109.29 L200.88,109.95 L200.56,110.64 L200.61,111.38 L200.75,112.12 L200.67,112.84 L200.38,113.54 L200.17,114.24 L200.34,114.99 L200.87,115.77 L201.46,116.56 L201.78,117.32 L201.81,118.06"/><path d="M230.39,93.55 L231.02,94.36 L231.34,95.12 L231.31,95.85 L231.24,96.58 L231.41,97.33 L231.80,98.10 L232.10,98.87 L232.02,99.59 L231.56,100.27 L231.01,100.94 L230.68,101.64 L230.59,102.36 L230.46,103.08 L229.98,103.76 L229.19,104.40 L229.22,105.14 L229.53,105.91 L230.11,106.70 L230.64,107.49 L230.81,108.24 L230.60,108.95 L230.30,109.65 L230.22,110.37 L230.36,111.12 L230.41,111.86 L230.08,112.56 L229.39,113.21 L228.65,113.86 L228.18,114.54 L227.99,115.25"/><path d="M225.81,93.05 L225.02,93.69 L224.54,94.37 L224.41,95.09 L224.32,95.81 L223.99,96.51 L223.44,97.18 L222.98,97.86 L222.90,98.58 L223.20,99.35 L223.59,100.12 L223.76,100.87 L223.69,101.60 L223.66,102.33 L223.98,103.09 L224.61,103.90 L224.42,104.61 L223.95,105.29 L223.21,105.94 L222.52,106.59 L222.19,107.29 L222.24,108.03 L222.38,108.78 L222.30,109.50 L222.00,110.20 L221.79,110.91 L221.96,111.66 L222.49,112.45 L223.07,113.24 L223.38,114.01 L223.41,114.75"/><path d="M251.99,91.04 L252.63,91.84 L252.94,92.61 L252.93,93.34 L252.86,94.06 L253.02,94.81 L253.42,95.58 L253.73,96.35 L253.65,97.07 L253.19,97.75 L252.64,98.43 L252.32,99.12 L252.24,99.85 L252.10,100.56 L251.63,101.24 L250.84,101.89 L250.87,102.63 L251.19,103.39 L251.78,104.19 L252.31,104.97 L252.48,105.72 L252.27,106.43 L251.98,107.13 L251.90,107.86 L252.04,108.60 L252.09,109.34 L251.77,110.04 L251.09,110.70 L250.35,111.35 L249.88,112.03 L249.69,112.74"/><path d="M247.41,90.56 L246.62,91.21 L246.15,91.89 L246.01,92.60 L245.93,93.33 L245.61,94.02 L245.06,94.70 L244.60,95.38 L244.52,96.10 L244.83,96.87 L245.23,97.64 L245.39,98.39 L245.32,99.11 L245.31,99.84 L245.62,100.61 L246.26,101.41 L246.07,102.12 L245.60,102.80 L244.86,103.45 L244.18,104.11 L243.86,104.81 L243.91,105.55 L244.05,106.29 L243.97,107.02 L243.68,107.72 L243.47,108.43 L243.64,109.18 L244.17,109.96 L244.76,110.76 L245.08,111.52 L245.11,112.26"/><path d="M273.39,87.71 L274.04,88.50 L274.37,89.26 L274.36,89.99 L274.30,90.71 L274.48,91.46 L274.88,92.23 L275.21,92.98 L275.14,93.71 L274.68,94.40 L274.15,95.08 L273.84,95.78 L273.76,96.50 L273.64,97.22 L273.17,97.90 L272.39,98.56 L272.44,99.29 L272.77,100.05 L273.36,100.84 L273.91,101.62 L274.08,102.36 L273.88,103.08 L273.60,103.78 L273.54,104.50 L273.68,105.25 L273.75,105.98 L273.44,106.68 L272.76,107.35 L272.03,108.01 L271.57,108.70 L271.39,109.41"/><path d="M268.81,87.29 L268.03,87.95 L267.56,88.63 L267.44,89.35 L267.36,90.07 L267.05,90.77 L266.52,91.45 L266.06,92.14 L265.99,92.87 L266.32,93.62 L266.72,94.39 L266.90,95.14 L266.84,95.86 L266.83,96.59 L267.16,97.35 L267.81,98.14 L267.63,98.85 L267.17,99.54 L266.44,100.20 L265.76,100.87 L265.45,101.57 L265.52,102.30 L265.66,103.05 L265.60,103.77 L265.32,104.47 L265.12,105.19 L265.29,105.93 L265.84,106.71 L266.43,107.50 L266.76,108.26 L266.81,108.99"/><path d="M295.48,86.06 L296.12,86.87 L296.43,87.64 L296.40,88.37 L296.33,89.09 L296.49,89.84 L296.87,90.62 L297.18,91.39 L297.10,92.11 L296.62,92.79 L296.07,93.46 L295.74,94.16 L295.65,94.88 L295.51,95.59 L295.03,96.27 L294.23,96.91 L294.26,97.65 L294.58,98.42 L295.15,99.22 L295.68,100.01 L295.84,100.76 L295.62,101.47 L295.33,102.17 L295.24,102.89 L295.37,103.64 L295.42,104.38 L295.10,105.07 L294.40,105.73 L293.66,106.37 L293.18,107.05 L292.98,107.76"/><path d="M290.92,85.54 L290.12,86.18 L289.64,86.86 L289.50,87.57 L289.41,88.29 L289.08,88.99 L288.53,89.66 L288.05,90.34 L287.97,91.06 L288.28,91.83 L288.66,92.61 L288.82,93.36 L288.75,94.08 L288.72,94.81 L289.03,95.58 L289.67,96.39 L289.47,97.10 L288.99,97.78 L288.25,98.42 L287.55,99.08 L287.23,99.77 L287.28,100.51 L287.41,101.26 L287.32,101.98 L287.03,102.68 L286.81,103.39 L286.97,104.14 L287.50,104.93 L288.07,105.73 L288.39,106.50 L288.42,107.24"/><path d="M317.18,84.97 L317.81,85.76 L318.13,86.51 L318.10,87.22 L318.03,87.92 L318.19,88.66 L318.57,89.41 L318.88,90.16 L318.79,90.87 L318.32,91.52 L317.77,92.17 L317.44,92.85 L317.35,93.55 L317.21,94.25 L316.73,94.90 L315.93,95.52 L315.96,96.24 L316.27,96.99 L316.85,97.77 L317.38,98.54 L317.54,99.28 L317.32,99.96 L317.02,100.64 L316.94,101.35 L317.07,102.07 L317.12,102.79 L316.79,103.47 L316.10,104.10 L315.36,104.72 L314.88,105.38 L314.68,106.07"/><path d="M312.62,84.43 L311.82,85.05 L311.34,85.70 L311.20,86.40 L311.11,87.10 L310.78,87.78 L310.23,88.43 L309.76,89.08 L309.67,89.79 L309.98,90.54 L310.36,91.29 L310.52,92.03 L310.45,92.73 L310.42,93.44 L310.74,94.19 L311.37,94.98 L311.17,95.67 L310.69,96.33 L309.95,96.95 L309.26,97.58 L308.93,98.26 L308.98,98.98 L309.11,99.70 L309.03,100.41 L308.73,101.09 L308.51,101.77 L308.67,102.51 L309.20,103.28 L309.78,104.06 L310.09,104.81 L310.12,105.53"/><path d="M338.89,84.44 L339.53,85.21 L339.85,85.95 L339.84,86.65 L339.77,87.34 L339.94,88.06 L340.34,88.80 L340.65,89.54 L340.58,90.23 L340.12,90.88 L339.57,91.53 L339.26,92.19 L339.18,92.89 L339.04,93.57 L338.58,94.22 L337.79,94.84 L337.83,95.55 L338.15,96.28 L338.74,97.05 L339.27,97.80 L339.44,98.52 L339.24,99.20 L338.95,99.87 L338.88,100.57 L339.02,101.28 L339.08,101.99 L338.76,102.66 L338.08,103.29 L337.34,103.91 L336.87,104.56 L336.69,105.24"/><path d="M334.31,83.96 L333.52,84.58 L333.06,85.23 L332.92,85.91 L332.84,86.61 L332.53,87.27 L331.98,87.92 L331.52,88.57 L331.45,89.26 L331.76,90.00 L332.16,90.74 L332.33,91.46 L332.26,92.15 L332.25,92.85 L332.57,93.59 L333.21,94.36 L333.03,95.04 L332.56,95.69 L331.82,96.31 L331.14,96.94 L330.82,97.61 L330.88,98.32 L331.02,99.03 L330.95,99.73 L330.66,100.40 L330.46,101.08 L330.63,101.80 L331.16,102.55 L331.75,103.32 L332.07,104.05 L332.11,104.76"/><path d="M360.49,83.22 L361.13,84.01 L361.46,84.78 L361.45,85.50 L361.39,86.23 L361.56,86.98 L361.96,87.74 L362.28,88.51 L362.21,89.23 L361.75,89.91 L361.21,90.59 L360.90,91.29 L360.82,92.01 L360.69,92.73 L360.22,93.42 L359.44,94.07 L359.48,94.81 L359.81,95.57 L360.40,96.35 L360.94,97.14 L361.12,97.88 L360.91,98.59 L360.63,99.30 L360.56,100.02 L360.70,100.76 L360.77,101.50 L360.45,102.20 L359.77,102.86 L359.04,103.52 L358.57,104.21 L358.39,104.92"/><path d="M355.91,82.78 L355.13,83.43 L354.66,84.12 L354.53,84.84 L354.45,85.56 L354.14,86.26 L353.60,86.94 L353.14,87.62 L353.07,88.34 L353.39,89.11 L353.79,89.87 L353.96,90.62 L353.90,91.35 L353.89,92.07 L354.22,92.84 L354.86,93.63 L354.68,94.34 L354.21,95.03 L353.48,95.69 L352.80,96.35 L352.48,97.05 L352.55,97.79 L352.69,98.53 L352.62,99.25 L352.34,99.96 L352.13,100.67 L352.31,101.41 L352.85,102.20 L353.44,102.98 L353.77,103.74 L353.81,104.48"/><path d="M382.19,82.39 L382.85,83.18 L383.19,83.95 L383.18,84.68 L383.13,85.42 L383.32,86.17 L383.73,86.94 L384.06,87.71 L384.00,88.44 L383.55,89.14 L383.02,89.84 L382.71,90.55 L382.64,91.28 L382.53,92.01 L382.07,92.71 L381.29,93.39 L381.34,94.13 L381.68,94.90 L382.28,95.68 L382.84,96.47 L383.02,97.22 L382.83,97.94 L382.55,98.66 L382.49,99.39 L382.65,100.14 L382.72,100.89 L382.42,101.60 L381.74,102.28 L381.02,102.96 L380.56,103.66 L380.39,104.39"/><path d="M377.61,82.01 L376.83,82.69 L376.37,83.39 L376.26,84.12 L376.19,84.85 L375.88,85.56 L375.35,86.26 L374.90,86.96 L374.84,87.69 L375.17,88.46 L375.58,89.23 L375.77,89.98 L375.72,90.72 L375.71,91.45 L376.05,92.22 L376.71,93.01 L376.54,93.74 L376.08,94.44 L375.36,95.12 L374.68,95.80 L374.38,96.51 L374.45,97.26 L374.61,98.01 L374.55,98.74 L374.27,99.46 L374.08,100.18 L374.26,100.93 L374.82,101.72 L375.42,102.50 L375.76,103.27 L375.81,104.01"/><path d="M403.39,81.88 L404.05,82.67 L404.39,83.43 L404.40,84.17 L404.35,84.90 L404.53,85.65 L404.95,86.42 L405.28,87.19 L405.23,87.92 L404.78,88.62 L404.25,89.32 L403.95,90.04 L403.89,90.77 L403.77,91.50 L403.32,92.20 L402.54,92.88 L402.60,93.62 L402.94,94.38 L403.55,95.17 L404.10,95.95 L404.29,96.70 L404.10,97.42 L403.83,98.14 L403.77,98.87 L403.93,99.62 L404.01,100.37 L403.70,101.08 L403.04,101.77 L402.32,102.45 L401.86,103.15 L401.69,103.88"/><path d="M398.81,81.52 L398.03,82.20 L397.58,82.90 L397.46,83.63 L397.40,84.36 L397.10,85.08 L396.57,85.78 L396.12,86.48 L396.07,87.21 L396.40,87.98 L396.82,88.75 L397.00,89.50 L396.95,90.23 L396.96,90.97 L397.30,91.73 L397.96,92.52 L397.79,93.25 L397.33,93.95 L396.61,94.63 L395.95,95.32 L395.64,96.03 L395.72,96.78 L395.88,97.53 L395.82,98.26 L395.55,98.98 L395.36,99.70 L395.55,100.45 L396.10,101.23 L396.71,102.02 L397.05,102.78 L397.11,103.52"/><path d="M423.00,82.16 L423.73,82.88 L424.14,83.60 L424.21,84.34 L424.24,85.07 L424.49,85.80 L424.98,86.52 L425.38,87.25 L425.40,87.98 L425.02,88.72 L424.56,89.47 L424.33,90.20 L424.33,90.94 L424.29,91.67 L423.91,92.41 L423.20,93.16 L423.33,93.89 L423.74,94.62 L424.41,95.34 L425.04,96.06 L425.30,96.79 L425.18,97.52 L424.98,98.26 L424.99,98.99 L425.22,99.72 L425.37,100.45 L425.14,101.19 L424.53,101.94 L423.88,102.68 L423.50,103.42 L423.40,104.16"/><path d="M418.40,82.24 L417.69,82.99 L417.31,83.73 L417.27,84.46 L417.27,85.20 L417.04,85.93 L416.58,86.68 L416.20,87.42 L416.22,88.15 L416.62,88.88 L417.11,89.60 L417.36,90.33 L417.39,91.06 L417.46,91.80 L417.87,92.52 L418.60,93.24 L418.50,93.98 L418.12,94.72 L417.47,95.46 L416.86,96.21 L416.63,96.95 L416.78,97.68 L417.01,98.41 L417.02,99.14 L416.82,99.88 L416.70,100.61 L416.96,101.34 L417.59,102.06 L418.26,102.78 L418.67,103.51 L418.80,104.24"/><path d="M444.70,83.27 L445.43,83.98 L445.84,84.70 L445.91,85.42 L445.92,86.15 L446.18,86.87 L446.66,87.58 L447.06,88.30 L447.07,89.02 L446.69,89.75 L446.23,90.48 L445.99,91.21 L446.00,91.93 L445.95,92.66 L445.56,93.38 L444.85,94.12 L444.97,94.84 L445.38,95.56 L446.06,96.27 L446.68,96.99 L446.93,97.71 L446.81,98.43 L446.61,99.16 L446.62,99.88 L446.84,100.60 L446.98,101.32 L446.75,102.05 L446.15,102.78 L445.49,103.51 L445.10,104.24 L445.00,104.97"/><path d="M440.10,83.33 L439.39,84.07 L439.00,84.79 L438.95,85.52 L438.96,86.24 L438.72,86.97 L438.26,87.70 L437.88,88.43 L437.89,89.15 L438.29,89.87 L438.77,90.58 L439.03,91.30 L439.04,92.03 L439.11,92.75 L439.52,93.47 L440.25,94.18 L440.15,94.91 L439.76,95.64 L439.10,96.37 L438.50,97.10 L438.27,97.83 L438.41,98.55 L438.63,99.27 L438.64,99.99 L438.44,100.72 L438.32,101.44 L438.57,102.16 L439.19,102.88 L439.87,103.59 L440.28,104.31 L440.40,105.03"/><path d="M466.69,84.02 L467.47,84.68 L467.92,85.37 L468.03,86.09 L468.10,86.81 L468.40,87.51 L468.93,88.19 L469.37,88.88 L469.43,89.60 L469.10,90.35 L468.68,91.11 L468.50,91.85 L468.54,92.57 L468.54,93.29 L468.20,94.04 L467.54,94.82 L467.71,95.53 L468.17,96.22 L468.88,96.89 L469.55,97.56 L469.86,98.26 L469.78,98.99 L469.62,99.73 L469.68,100.45 L469.95,101.15 L470.14,101.86 L469.95,102.60 L469.39,103.37 L468.79,104.14 L468.45,104.89 L468.39,105.62"/><path d="M462.11,84.38 L461.45,85.16 L461.11,85.91 L461.11,86.63 L461.15,87.35 L460.97,88.09 L460.55,88.85 L460.22,89.60 L460.28,90.32 L460.72,91.01 L461.25,91.69 L461.55,92.39 L461.62,93.11 L461.73,93.83 L462.18,94.52 L462.96,95.18 L462.90,95.91 L462.56,96.66 L461.96,97.43 L461.40,98.20 L461.21,98.94 L461.40,99.65 L461.67,100.35 L461.73,101.07 L461.57,101.81 L461.49,102.54 L461.80,103.24 L462.47,103.91 L463.18,104.58 L463.64,105.27 L463.81,105.98"/><path d="M488.38,83.94 L489.18,84.57 L489.66,85.25 L489.80,85.96 L489.89,86.68 L490.22,87.37 L490.77,88.04 L491.25,88.71 L491.33,89.43 L491.02,90.20 L490.64,90.97 L490.48,91.72 L490.55,92.44 L490.58,93.17 L490.27,93.93 L489.63,94.74 L489.83,95.44 L490.31,96.12 L491.05,96.76 L491.75,97.41 L492.07,98.10 L492.02,98.84 L491.89,99.58 L491.98,100.30 L492.27,101.00 L492.49,101.70 L492.33,102.45 L491.80,103.24 L491.23,104.04 L490.91,104.80 L490.88,105.54"/><path d="M483.82,84.46 L483.18,85.27 L482.87,86.03 L482.90,86.76 L482.97,87.48 L482.81,88.23 L482.43,89.00 L482.12,89.77 L482.20,90.49 L482.68,91.16 L483.23,91.83 L483.56,92.52 L483.65,93.24 L483.79,93.95 L484.27,94.63 L485.07,95.26 L485.04,96.00 L484.72,96.76 L484.15,97.56 L483.62,98.35 L483.46,99.10 L483.68,99.80 L483.97,100.50 L484.06,101.22 L483.93,101.96 L483.88,102.70 L484.20,103.39 L484.90,104.04 L485.64,104.68 L486.12,105.36 L486.32,106.06"/><path d="M509.68,85.51 L510.49,86.14 L510.98,86.81 L511.13,87.53 L511.23,88.25 L511.56,88.94 L512.13,89.60 L512.61,90.28 L512.70,91.00 L512.41,91.77 L512.03,92.56 L511.88,93.31 L511.97,94.04 L512.00,94.77 L511.70,95.54 L511.08,96.36 L511.29,97.06 L511.77,97.74 L512.53,98.38 L513.23,99.02 L513.57,99.71 L513.53,100.45 L513.41,101.20 L513.50,101.93 L513.81,102.62 L514.03,103.33 L513.88,104.08 L513.37,104.89 L512.80,105.69 L512.50,106.47 L512.48,107.21"/><path d="M505.12,86.09 L504.50,86.91 L504.20,87.68 L504.23,88.41 L504.32,89.14 L504.17,89.89 L503.79,90.68 L503.50,91.45 L503.59,92.17 L504.07,92.85 L504.64,93.51 L504.97,94.20 L505.07,94.92 L505.22,95.64 L505.71,96.31 L506.52,96.94 L506.50,97.68 L506.20,98.46 L505.63,99.26 L505.12,100.07 L504.97,100.82 L505.19,101.53 L505.50,102.22 L505.59,102.95 L505.47,103.70 L505.43,104.44 L505.77,105.13 L506.47,105.77 L507.23,106.41 L507.71,107.09 L507.92,107.79"/><path d="M531.69,87.25 L532.48,87.92 L532.96,88.62 L533.10,89.37 L533.20,90.12 L533.52,90.84 L534.08,91.54 L534.55,92.24 L534.63,92.99 L534.33,93.79 L533.94,94.59 L533.78,95.37 L533.85,96.12 L533.88,96.87 L533.57,97.67 L532.94,98.50 L533.13,99.23 L533.61,99.94 L534.35,100.62 L535.05,101.30 L535.38,102.02 L535.33,102.79 L535.19,103.56 L535.28,104.31 L535.58,105.04 L535.79,105.77 L535.63,106.55 L535.10,107.37 L534.53,108.19 L534.21,108.98 L534.19,109.75"/><path d="M527.11,87.75 L526.48,88.58 L526.17,89.38 L526.20,90.13 L526.27,90.88 L526.11,91.66 L525.72,92.46 L525.42,93.26 L525.50,94.01 L525.97,94.71 L526.53,95.41 L526.85,96.13 L526.95,96.88 L527.09,97.63 L527.57,98.33 L528.36,99.00 L528.34,99.77 L528.02,100.56 L527.45,101.38 L526.92,102.20 L526.76,102.98 L526.97,103.71 L527.27,104.44 L527.36,105.19 L527.22,105.96 L527.17,106.73 L527.50,107.45 L528.20,108.13 L528.94,108.81 L529.42,109.52 L529.61,110.25"/><path d="M553.38,90.54 L554.18,91.18 L554.66,91.86 L554.80,92.57 L554.89,93.29 L555.22,93.99 L555.77,94.66 L556.25,95.34 L556.33,96.06 L556.02,96.83 L555.64,97.61 L555.48,98.36 L555.55,99.08 L555.58,99.81 L555.27,100.58 L554.63,101.39 L554.83,102.10 L555.31,102.78 L556.05,103.42 L556.75,104.08 L557.07,104.77 L557.02,105.51 L556.89,106.26 L556.98,106.98 L557.27,107.68 L557.49,108.39 L557.33,109.14 L556.80,109.93 L556.23,110.73 L555.91,111.50 L555.88,112.24"/><path d="M548.82,91.06 L548.18,91.87 L547.87,92.64 L547.90,93.37 L547.97,94.09 L547.81,94.84 L547.43,95.62 L547.12,96.39 L547.20,97.11 L547.68,97.79 L548.23,98.46 L548.56,99.16 L548.65,99.88 L548.79,100.59 L549.27,101.27 L550.07,101.91 L550.04,102.65 L549.72,103.42 L549.15,104.22 L548.62,105.01 L548.46,105.76 L548.68,106.47 L548.97,107.17 L549.06,107.89 L548.93,108.64 L548.88,109.38 L549.20,110.07 L549.90,110.73 L550.64,111.37 L551.12,112.05 L551.32,112.76"/><path d="M575.39,93.08 L576.17,93.73 L576.64,94.42 L576.77,95.14 L576.85,95.86 L577.16,96.56 L577.70,97.24 L578.16,97.92 L578.23,98.64 L577.91,99.41 L577.51,100.17 L577.34,100.92 L577.40,101.65 L577.41,102.37 L577.08,103.14 L576.44,103.93 L576.62,104.64 L577.09,105.33 L577.82,105.99 L578.50,106.65 L578.82,107.35 L578.75,108.09 L578.61,108.83 L578.68,109.55 L578.96,110.26 L579.17,110.97 L578.99,111.71 L578.45,112.50 L577.86,113.28 L577.53,114.04 L577.49,114.78"/><path d="M570.81,93.52 L570.17,94.31 L569.84,95.08 L569.85,95.80 L569.91,96.53 L569.74,97.28 L569.34,98.04 L569.02,98.81 L569.09,99.53 L569.55,100.21 L570.09,100.89 L570.40,101.59 L570.48,102.31 L570.61,103.03 L571.08,103.72 L571.86,104.37 L571.82,105.11 L571.49,105.87 L570.90,106.65 L570.36,107.44 L570.18,108.18 L570.39,108.89 L570.67,109.60 L570.74,110.32 L570.60,111.06 L570.53,111.80 L570.85,112.50 L571.53,113.16 L572.26,113.82 L572.73,114.51 L572.91,115.22"/><path d="M596.99,96.47 L597.78,97.11 L598.25,97.79 L598.38,98.51 L598.46,99.23 L598.78,99.92 L599.32,100.59 L599.78,101.27 L599.86,101.99 L599.54,102.75 L599.14,103.52 L598.97,104.27 L599.04,104.99 L599.05,105.71 L598.73,106.47 L598.09,107.27 L598.27,107.98 L598.74,108.66 L599.48,109.31 L600.16,109.97 L600.48,110.66 L600.42,111.39 L600.28,112.14 L600.35,112.86 L600.64,113.55 L600.85,114.26 L600.68,115.01 L600.14,115.79 L599.55,116.58 L599.23,117.34 L599.19,118.07"/><path d="M592.41,96.93 L591.77,97.73 L591.45,98.49 L591.46,99.21 L591.53,99.93 L591.36,100.68 L590.96,101.45 L590.64,102.21 L590.72,102.93 L591.18,103.61 L591.72,104.28 L592.04,104.97 L592.12,105.69 L592.25,106.41 L592.72,107.09 L593.51,107.73 L593.47,108.46 L593.15,109.22 L592.56,110.01 L592.02,110.79 L591.85,111.54 L592.06,112.25 L592.35,112.94 L592.42,113.66 L592.28,114.41 L592.22,115.14 L592.54,115.83 L593.22,116.49 L593.96,117.14 L594.43,117.82 L594.61,118.53"/><path d="M616.99,100.06 L617.78,100.70 L618.25,101.38 L618.38,102.08 L618.46,102.80 L618.78,103.49 L619.32,104.15 L619.78,104.82 L619.85,105.54 L619.54,106.29 L619.14,107.05 L618.97,107.79 L619.04,108.50 L619.05,109.22 L618.73,109.98 L618.09,110.76 L618.27,111.47 L618.74,112.14 L619.48,112.78 L620.16,113.44 L620.48,114.12 L620.42,114.85 L620.28,115.59 L620.35,116.30 L620.64,116.99 L620.85,117.69 L620.67,118.43 L620.14,119.20 L619.55,119.99 L619.23,120.74 L619.19,121.46"/><path d="M612.41,100.54 L611.77,101.32 L611.45,102.08 L611.46,102.80 L611.53,103.51 L611.36,104.25 L610.96,105.01 L610.65,105.76 L610.72,106.48 L611.18,107.15 L611.72,107.81 L612.04,108.50 L612.12,109.22 L612.25,109.92 L612.72,110.60 L613.51,111.24 L613.47,111.96 L613.15,112.71 L612.56,113.50 L612.03,114.27 L611.85,115.01 L612.06,115.71 L612.35,116.40 L612.42,117.11 L612.28,117.85 L612.22,118.58 L612.54,119.26 L613.22,119.92 L613.96,120.56 L614.43,121.23 L614.61,121.94"/><path d="M637.19,104.58 L637.97,105.21 L638.43,105.88 L638.56,106.57 L638.63,107.27 L638.95,107.95 L639.48,108.60 L639.94,109.26 L640.00,109.96 L639.68,110.70 L639.28,111.45 L639.10,112.17 L639.16,112.87 L639.17,113.58 L638.84,114.31 L638.19,115.08 L638.37,115.77 L638.83,116.43 L639.56,117.07 L640.24,117.71 L640.55,118.39 L640.48,119.10 L640.33,119.82 L640.40,120.52 L640.68,121.20 L640.88,121.89 L640.70,122.61 L640.16,123.37 L639.56,124.13 L639.24,124.87 L639.19,125.58"/><path d="M632.61,105.02 L631.96,105.79 L631.63,106.52 L631.64,107.23 L631.70,107.93 L631.52,108.65 L631.12,109.40 L630.80,110.14 L630.86,110.84 L631.32,111.50 L631.85,112.15 L632.17,112.83 L632.24,113.53 L632.37,114.22 L632.83,114.89 L633.61,115.52 L633.56,116.23 L633.24,116.97 L632.64,117.73 L632.10,118.49 L631.92,119.21 L632.12,119.90 L632.40,120.58 L632.47,121.28 L632.32,122.00 L632.25,122.71 L632.56,123.39 L633.24,124.03 L633.97,124.67 L634.43,125.33 L634.61,126.02"/><path d="M657.49,106.52 L658.27,107.18 L658.72,107.87 L658.83,108.59 L658.90,109.31 L659.20,110.01 L659.73,110.69 L660.17,111.38 L660.23,112.10 L659.90,112.85 L659.48,113.61 L659.30,114.35 L659.34,115.07 L659.34,115.79 L659.00,116.54 L658.34,117.32 L658.51,118.03 L658.97,118.72 L659.68,119.39 L660.35,120.06 L660.66,120.76 L660.58,121.49 L660.42,122.23 L660.48,122.95 L660.75,123.65 L660.94,124.36 L660.75,125.10 L660.19,125.87 L659.59,126.64 L659.25,127.39 L659.19,128.12"/><path d="M652.91,106.88 L652.25,107.66 L651.91,108.41 L651.91,109.13 L651.95,109.85 L651.77,110.59 L651.35,111.35 L651.02,112.10 L651.08,112.82 L651.52,113.51 L652.05,114.19 L652.35,114.89 L652.42,115.61 L652.53,116.33 L652.98,117.02 L653.76,117.68 L653.70,118.41 L653.36,119.16 L652.76,119.93 L652.20,120.70 L652.01,121.44 L652.20,122.15 L652.47,122.85 L652.53,123.57 L652.37,124.31 L652.29,125.04 L652.60,125.74 L653.27,126.41 L653.98,127.08 L654.44,127.77 L654.61,128.48"/><path d="M677.49,110.62 L678.27,111.29 L678.72,111.98 L678.83,112.70 L678.90,113.42 L679.20,114.13 L679.73,114.81 L680.17,115.50 L680.23,116.23 L679.90,116.98 L679.48,117.74 L679.30,118.48 L679.34,119.21 L679.34,119.94 L679.00,120.69 L678.34,121.47 L678.51,122.18 L678.97,122.88 L679.68,123.55 L680.35,124.22 L680.66,124.93 L680.58,125.66 L680.42,126.40 L680.48,127.13 L680.75,127.83 L680.94,128.54 L680.75,129.29 L680.19,130.06 L679.59,130.83 L679.25,131.59 L679.19,132.32"/><path d="M672.91,110.98 L672.25,111.76 L671.91,112.51 L671.91,113.24 L671.95,113.97 L671.77,114.71 L671.35,115.47 L671.02,116.22 L671.08,116.95 L671.52,117.64 L672.05,118.32 L672.35,119.03 L672.42,119.75 L672.53,120.47 L672.98,121.16 L673.76,121.83 L673.70,122.56 L673.36,123.32 L672.76,124.09 L672.20,124.86 L672.01,125.61 L672.20,126.32 L672.47,127.02 L672.53,127.75 L672.37,128.49 L672.29,129.22 L672.60,129.93 L673.27,130.60 L673.98,131.27 L674.44,131.97 L674.61,132.68"/><path d="M697.49,115.62 L698.27,116.29 L698.72,116.98 L698.83,117.70 L698.90,118.42 L699.20,119.13 L699.73,119.81 L700.17,120.50 L700.23,121.23 L699.90,121.98 L699.48,122.74 L699.30,123.48 L699.34,124.21 L699.34,124.94 L699.00,125.69 L698.34,126.47 L698.51,127.18 L698.97,127.88 L699.68,128.55 L700.35,129.22 L700.66,129.93 L700.58,130.66 L700.42,131.40 L700.48,132.13 L700.75,132.83 L700.94,133.54 L700.75,134.29 L700.19,135.06 L699.59,135.83 L699.25,136.59 L699.19,137.32"/><path d="M692.91,115.98 L692.25,116.76 L691.91,117.51 L691.91,118.24 L691.95,118.97 L691.77,119.71 L691.35,120.47 L691.02,121.22 L691.08,121.95 L691.52,122.64 L692.05,123.32 L692.35,124.03 L692.42,124.75 L692.53,125.47 L692.98,126.16 L693.76,126.83 L693.70,127.56 L693.36,128.32 L692.76,129.09 L692.20,129.86 L692.01,130.61 L692.20,131.32 L692.47,132.02 L692.53,132.75 L692.37,133.49 L692.29,134.22 L692.60,134.93 L693.27,135.60 L693.98,136.27 L694.44,136.97 L694.61,137.68"/><path d="M717.49,120.62 L718.27,121.29 L718.72,121.98 L718.83,122.70 L718.90,123.42 L719.20,124.13 L719.73,124.81 L720.17,125.50 L720.23,126.23 L719.90,126.98 L719.48,127.74 L719.30,128.48 L719.34,129.21 L719.34,129.94 L719.00,130.69 L718.34,131.47 L718.51,132.18 L718.97,132.88 L719.68,133.55 L720.35,134.22 L720.66,134.93 L720.58,135.66 L720.42,136.40 L720.48,137.13 L720.75,137.83 L720.94,138.54 L720.75,139.29 L720.19,140.06 L719.59,140.83 L719.25,141.59 L719.19,142.32"/><path d="M712.91,120.98 L712.25,121.76 L711.91,122.51 L711.91,123.24 L711.95,123.97 L711.77,124.71 L711.35,125.47 L711.02,126.22 L711.08,126.95 L711.52,127.64 L712.05,128.32 L712.35,129.03 L712.42,129.75 L712.53,130.47 L712.98,131.16 L713.76,131.83 L713.70,132.56 L713.36,133.32 L712.76,134.09 L712.20,134.86 L712.01,135.61 L712.20,136.32 L712.47,137.02 L712.53,137.75 L712.37,138.49 L712.29,139.22 L712.60,139.93 L713.27,140.60 L713.98,141.27 L714.44,141.97 L714.61,142.68"/><path d="M737.49,127.27 L738.28,127.92 L738.75,128.60 L738.88,129.32 L738.96,130.04 L739.28,130.74 L739.82,131.42 L740.28,132.10 L740.36,132.82 L740.04,133.59 L739.64,134.36 L739.47,135.11 L739.54,135.83 L739.55,136.56 L739.23,137.32 L738.59,138.12 L738.77,138.83 L739.24,139.51 L739.98,140.17 L740.66,140.83 L740.98,141.53 L740.92,142.27 L740.78,143.01 L740.85,143.73 L741.14,144.44 L741.35,145.15 L741.18,145.89 L740.64,146.68 L740.05,147.47 L739.73,148.23 L739.69,148.97"/><path d="M732.91,127.73 L732.27,128.53 L731.95,129.29 L731.96,130.02 L732.03,130.74 L731.86,131.49 L731.46,132.26 L731.14,133.03 L731.22,133.75 L731.68,134.43 L732.22,135.11 L732.54,135.81 L732.62,136.53 L732.75,137.25 L733.22,137.93 L734.01,138.58 L733.97,139.32 L733.65,140.08 L733.06,140.87 L732.52,141.66 L732.35,142.40 L732.56,143.11 L732.85,143.82 L732.92,144.54 L732.78,145.28 L732.72,146.02 L733.04,146.72 L733.72,147.38 L734.46,148.04 L734.93,148.72 L735.11,149.43"/><path d="M757.48,132.24 L758.28,132.88 L758.76,133.56 L758.90,134.27 L758.99,134.99 L759.32,135.69 L759.87,136.36 L760.35,137.04 L760.43,137.76 L760.12,138.53 L759.74,139.31 L759.58,140.06 L759.65,140.78 L759.68,141.51 L759.37,142.28 L758.73,143.09 L758.93,143.80 L759.41,144.48 L760.15,145.12 L760.85,145.78 L761.17,146.47 L761.12,147.21 L760.99,147.96 L761.08,148.68 L761.37,149.38 L761.59,150.09 L761.43,150.84 L760.90,151.63 L760.33,152.43 L760.01,153.20 L759.98,153.94"/><path d="M752.92,132.76 L752.28,133.57 L751.97,134.34 L752.00,135.07 L752.07,135.79 L751.91,136.54 L751.53,137.32 L751.22,138.09 L751.30,138.81 L751.78,139.49 L752.33,140.16 L752.66,140.86 L752.75,141.58 L752.89,142.29 L753.37,142.97 L754.17,143.61 L754.14,144.35 L753.82,145.12 L753.25,145.92 L752.72,146.71 L752.56,147.46 L752.78,148.17 L753.07,148.87 L753.16,149.59 L753.03,150.34 L752.98,151.08 L753.30,151.77 L754.00,152.43 L754.74,153.07 L755.22,153.75 L755.42,154.46"/><path d="M778.18,138.93 L778.98,139.56 L779.46,140.22 L779.60,140.92 L779.69,141.63 L780.02,142.32 L780.57,142.97 L781.04,143.63 L781.13,144.34 L780.82,145.10 L780.44,145.87 L780.28,146.60 L780.35,147.31 L780.38,148.03 L780.07,148.79 L779.43,149.58 L779.63,150.28 L780.11,150.94 L780.85,151.57 L781.54,152.21 L781.87,152.89 L781.82,153.62 L781.69,154.36 L781.78,155.07 L782.07,155.75 L782.29,156.44 L782.13,157.18 L781.60,157.96 L781.02,158.75 L780.71,159.51 L780.68,160.23"/><path d="M773.62,139.47 L772.98,140.26 L772.67,141.02 L772.70,141.74 L772.77,142.45 L772.61,143.18 L772.23,143.95 L771.92,144.71 L772.01,145.42 L772.48,146.08 L773.03,146.73 L773.36,147.42 L773.45,148.13 L773.59,148.83 L774.07,149.49 L774.87,150.12 L774.84,150.84 L774.53,151.60 L773.95,152.39 L773.42,153.17 L773.26,153.91 L773.48,154.60 L773.77,155.28 L773.86,155.99 L773.73,156.73 L773.68,157.46 L774.01,158.14 L774.70,158.78 L775.44,159.41 L775.92,160.07 L776.12,160.77"/><path d="M798.68,142.98 L799.49,143.59 L799.98,144.25 L800.14,144.96 L800.25,145.67 L800.59,146.35 L801.16,147.00 L801.65,147.66 L801.75,148.37 L801.46,149.14 L801.09,149.92 L800.95,150.66 L801.04,151.38 L801.08,152.10 L800.79,152.87 L800.18,153.68 L800.39,154.38 L800.88,155.04 L801.64,155.66 L802.35,156.29 L802.69,156.96 L802.66,157.70 L802.55,158.44 L802.65,159.15 L802.96,159.84 L803.19,160.53 L803.05,161.28 L802.54,162.08 L801.98,162.88 L801.69,163.65 L801.68,164.38"/><path d="M794.12,143.62 L793.51,144.43 L793.22,145.20 L793.26,145.92 L793.35,146.64 L793.21,147.38 L792.84,148.16 L792.55,148.93 L792.65,149.64 L793.14,150.30 L793.71,150.95 L794.05,151.63 L794.16,152.34 L794.32,153.05 L794.81,153.71 L795.62,154.32 L795.61,155.05 L795.32,155.82 L794.76,156.62 L794.25,157.42 L794.11,158.17 L794.34,158.86 L794.65,159.55 L794.75,160.26 L794.64,161.00 L794.61,161.74 L794.95,162.41 L795.66,163.04 L796.42,163.66 L796.91,164.32 L797.12,165.02"/><path d="M821.80,146.50 L822.42,147.21 L822.52,147.92 L822.09,148.63 L821.65,149.34 L821.71,150.05 L822.28,150.76 L822.82,151.47 L822.82,152.18 L822.28,152.89 L821.71,153.60 L821.65,154.31 L822.09,155.02 L822.52,155.73 L822.42,156.44 L821.80,157.15 L821.38,157.86 L821.48,158.57 L822.09,159.28 L822.69,159.99 L822.75,160.70 L822.28,161.41 L821.78,162.12 L821.78,162.83 L822.28,163.54 L822.75,164.25 L822.69,164.96 L822.09,165.67 L821.48,166.38 L821.38,167.09 L821.80,167.80"/><path d="M816.40,146.50 L815.78,147.21 L815.68,147.92 L816.11,148.63 L816.55,149.34 L816.49,150.05 L815.92,150.76 L815.38,151.47 L815.38,152.18 L815.92,152.89 L816.49,153.60 L816.55,154.31 L816.11,155.02 L815.68,155.73 L815.78,156.44 L816.40,157.15 L816.82,157.86 L816.72,158.57 L816.11,159.28 L815.51,159.99 L815.45,160.70 L815.92,161.41 L816.42,162.12 L816.42,162.83 L815.92,163.54 L815.45,164.25 L815.51,164.96 L816.11,165.67 L816.72,166.38 L816.82,167.09 L816.40,167.80"/><path d="M844.10,146.80 L844.72,147.50 L844.82,148.20 L844.39,148.90 L843.95,149.60 L844.01,150.30 L844.58,151.00 L845.12,151.70 L845.12,152.40 L844.58,153.10 L844.01,153.80 L843.95,154.50 L844.39,155.20 L844.82,155.90 L844.72,156.60 L844.10,157.30 L843.68,158.00 L843.78,158.70 L844.39,159.40 L844.99,160.10 L845.05,160.80 L844.58,161.50 L844.08,162.20 L844.08,162.90 L844.58,163.60 L845.05,164.30 L844.99,165.00 L844.39,165.70 L843.78,166.40 L843.68,167.10 L844.10,167.80"/><path d="M838.70,146.80 L838.08,147.50 L837.98,148.20 L838.41,148.90 L838.85,149.60 L838.79,150.30 L838.22,151.00 L837.68,151.70 L837.68,152.40 L838.22,153.10 L838.79,153.80 L838.85,154.50 L838.41,155.20 L837.98,155.90 L838.08,156.60 L838.70,157.30 L839.12,158.00 L839.02,158.70 L838.41,159.40 L837.81,160.10 L837.75,160.80 L838.22,161.50 L838.72,162.20 L838.72,162.90 L838.22,163.60 L837.75,164.30 L837.81,165.00 L838.41,165.70 L839.02,166.40 L839.12,167.10 L838.70,167.80"/><path d="M866.60,147.00 L867.22,147.70 L867.32,148.40 L866.89,149.10 L866.45,149.80 L866.51,150.50 L867.08,151.20 L867.62,151.90 L867.62,152.60 L867.08,153.30 L866.51,154.00 L866.45,154.70 L866.89,155.40 L867.32,156.10 L867.22,156.80 L866.60,157.50 L866.18,158.20 L866.28,158.90 L866.89,159.60 L867.49,160.30 L867.55,161.00 L867.08,161.70 L866.58,162.40 L866.58,163.10 L867.08,163.80 L867.55,164.50 L867.49,165.20 L866.89,165.90 L866.28,166.60 L866.18,167.30 L866.60,168.00"/><path d="M861.20,147.00 L860.58,147.70 L860.48,148.40 L860.91,149.10 L861.35,149.80 L861.29,150.50 L860.72,151.20 L860.18,151.90 L860.18,152.60 L860.72,153.30 L861.29,154.00 L861.35,154.70 L860.91,155.40 L860.48,156.10 L860.58,156.80 L861.20,157.50 L861.62,158.20 L861.52,158.90 L860.91,159.60 L860.31,160.30 L860.25,161.00 L860.72,161.70 L861.22,162.40 L861.22,163.10 L860.72,163.80 L860.25,164.50 L860.31,165.20 L860.91,165.90 L861.52,166.60 L861.62,167.30 L861.20,168.00"/><path d="M889.10,147.00 L889.72,147.70 L889.82,148.40 L889.39,149.10 L888.95,149.80 L889.01,150.50 L889.58,151.20 L890.12,151.90 L890.12,152.60 L889.58,153.30 L889.01,154.00 L888.95,154.70 L889.39,155.40 L889.82,156.10 L889.72,156.80 L889.10,157.50 L888.68,158.20 L888.78,158.90 L889.39,159.60 L889.99,160.30 L890.05,161.00 L889.58,161.70 L889.08,162.40 L889.08,163.10 L889.58,163.80 L890.05,164.50 L889.99,165.20 L889.39,165.90 L888.78,166.60 L888.68,167.30 L889.10,168.00"/><path d="M883.70,147.00 L883.08,147.70 L882.98,148.40 L883.41,149.10 L883.85,149.80 L883.79,150.50 L883.22,151.20 L882.68,151.90 L882.68,152.60 L883.22,153.30 L883.79,154.00 L883.85,154.70 L883.41,155.40 L882.98,156.10 L883.08,156.80 L883.70,157.50 L884.12,158.20 L884.02,158.90 L883.41,159.60 L882.81,160.30 L882.75,161.00 L883.22,161.70 L883.72,162.40 L883.72,163.10 L883.22,163.80 L882.75,164.50 L882.81,165.20 L883.41,165.90 L884.02,166.60 L884.12,167.30 L883.70,168.00"/><path d="M911.50,147.00 L912.12,147.70 L912.22,148.40 L911.79,149.10 L911.35,149.80 L911.41,150.50 L911.98,151.20 L912.52,151.90 L912.52,152.60 L911.98,153.30 L911.41,154.00 L911.35,154.70 L911.79,155.40 L912.22,156.10 L912.12,156.80 L911.50,157.50 L911.08,158.20 L911.18,158.90 L911.79,159.60 L912.39,160.30 L912.45,161.00 L911.98,161.70 L911.48,162.40 L911.48,163.10 L911.98,163.80 L912.45,164.50 L912.39,165.20 L911.79,165.90 L911.18,166.60 L911.08,167.30 L911.50,168.00"/><path d="M906.10,147.00 L905.48,147.70 L905.38,148.40 L905.81,149.10 L906.25,149.80 L906.19,150.50 L905.62,151.20 L905.08,151.90 L905.08,152.60 L905.62,153.30 L906.19,154.00 L906.25,154.70 L905.81,155.40 L905.38,156.10 L905.48,156.80 L906.10,157.50 L906.52,158.20 L906.42,158.90 L905.81,159.60 L905.21,160.30 L905.15,161.00 L905.62,161.70 L906.12,162.40 L906.12,163.10 L905.62,163.80 L905.15,164.50 L905.21,165.20 L905.81,165.90 L906.42,166.60 L906.52,167.30 L906.10,168.00"/><path d="M933.70,147.00 L934.32,147.70 L934.42,148.40 L933.99,149.10 L933.55,149.80 L933.61,150.50 L934.18,151.20 L934.72,151.90 L934.72,152.60 L934.18,153.30 L933.61,154.00 L933.55,154.70 L933.99,155.40 L934.42,156.10 L934.32,156.80 L933.70,157.50 L933.28,158.20 L933.38,158.90 L933.99,159.60 L934.59,160.30 L934.65,161.00 L934.18,161.70 L933.68,162.40 L933.68,163.10 L934.18,163.80 L934.65,164.50 L934.59,165.20 L933.99,165.90 L933.38,166.60 L933.28,167.30 L933.70,168.00"/><path d="M928.30,147.00 L927.68,147.70 L927.58,148.40 L928.01,149.10 L928.45,149.80 L928.39,150.50 L927.82,151.20 L927.28,151.90 L927.28,152.60 L927.82,153.30 L928.39,154.00 L928.45,154.70 L928.01,155.40 L927.58,156.10 L927.68,156.80 L928.30,157.50 L928.72,158.20 L928.62,158.90 L928.01,159.60 L927.41,160.30 L927.35,161.00 L927.82,161.70 L928.32,162.40 L928.32,163.10 L927.82,163.80 L927.35,164.50 L927.41,165.20 L928.01,165.90 L928.62,166.60 L928.72,167.30 L928.30,168.00"/><path d="M956.00,147.00 L956.62,147.70 L956.72,148.40 L956.29,149.10 L955.85,149.80 L955.91,150.50 L956.48,151.20 L957.02,151.90 L957.02,152.60 L956.48,153.30 L955.91,154.00 L955.85,154.70 L956.29,155.40 L956.72,156.10 L956.62,156.80 L956.00,157.50 L955.58,158.20 L955.68,158.90 L956.29,159.60 L956.89,160.30 L956.95,161.00 L956.48,161.70 L955.98,162.40 L955.98,163.10 L956.48,163.80 L956.95,164.50 L956.89,165.20 L956.29,165.90 L955.68,166.60 L955.58,167.30 L956.00,168.00"/><path d="M950.60,147.00 L949.98,147.70 L949.88,148.40 L950.31,149.10 L950.75,149.80 L950.69,150.50 L950.12,151.20 L949.58,151.90 L949.58,152.60 L950.12,153.30 L950.69,154.00 L950.75,154.70 L950.31,155.40 L949.88,156.10 L949.98,156.80 L950.60,157.50 L951.02,158.20 L950.92,158.90 L950.31,159.60 L949.71,160.30 L949.65,161.00 L950.12,161.70 L950.62,162.40 L950.62,163.10 L950.12,163.80 L949.65,164.50 L949.71,165.20 L950.31,165.90 L950.92,166.60 L951.02,167.30 L950.60,168.00"/><path d="M978.40,147.00 L979.02,147.70 L979.12,148.40 L978.69,149.10 L978.25,149.80 L978.31,150.50 L978.88,151.20 L979.42,151.90 L979.42,152.60 L978.88,153.30 L978.31,154.00 L978.25,154.70 L978.69,155.40 L979.12,156.10 L979.02,156.80 L978.40,157.50 L977.98,158.20 L978.08,158.90 L978.69,159.60 L979.29,160.30 L979.35,161.00 L978.88,161.70 L978.38,162.40 L978.38,163.10 L978.88,163.80 L979.35,164.50 L979.29,165.20 L978.69,165.90 L978.08,166.60 L977.98,167.30 L978.40,168.00"/><path d="M973.00,147.00 L972.38,147.70 L972.28,148.40 L972.71,149.10 L973.15,149.80 L973.09,150.50 L972.52,151.20 L971.98,151.90 L971.98,152.60 L972.52,153.30 L973.09,154.00 L973.15,154.70 L972.71,155.40 L972.28,156.10 L972.38,156.80 L973.00,157.50 L973.42,158.20 L973.32,158.90 L972.71,159.60 L972.11,160.30 L972.05,161.00 L972.52,161.70 L973.02,162.40 L973.02,163.10 L972.52,163.80 L972.05,164.50 L972.11,165.20 L972.71,165.90 L973.32,166.60 L973.42,167.30 L973.00,168.00"/><path d="M1000.70,147.00 L1001.32,147.70 L1001.42,148.40 L1000.99,149.10 L1000.55,149.80 L1000.61,150.50 L1001.18,151.20 L1001.72,151.90 L1001.72,152.60 L1001.18,153.30 L1000.61,154.00 L1000.55,154.70 L1000.99,155.40 L1001.42,156.10 L1001.32,156.80 L1000.70,157.50 L1000.28,158.20 L1000.38,158.90 L1000.99,159.60 L1001.59,160.30 L1001.65,161.00 L1001.18,161.70 L1000.68,162.40 L1000.68,163.10 L1001.18,163.80 L1001.65,164.50 L1001.59,165.20 L1000.99,165.90 L1000.38,166.60 L1000.28,167.30 L1000.70,168.00"/><path d="M995.30,147.00 L994.68,147.70 L994.58,148.40 L995.01,149.10 L995.45,149.80 L995.39,150.50 L994.82,151.20 L994.28,151.90 L994.28,152.60 L994.82,153.30 L995.39,154.00 L995.45,154.70 L995.01,155.40 L994.58,156.10 L994.68,156.80 L995.30,157.50 L995.72,158.20 L995.62,158.90 L995.01,159.60 L994.41,160.30 L994.35,161.00 L994.82,161.70 L995.32,162.40 L995.32,163.10 L994.82,163.80 L994.35,164.50 L994.41,165.20 L995.01,165.90 L995.62,166.60 L995.72,167.30 L995.30,168.00"/><path d="M1023.10,147.00 L1023.72,147.70 L1023.82,148.40 L1023.39,149.10 L1022.95,149.80 L1023.01,150.50 L1023.58,151.20 L1024.12,151.90 L1024.12,152.60 L1023.58,153.30 L1023.01,154.00 L1022.95,154.70 L1023.39,155.40 L1023.82,156.10 L1023.72,156.80 L1023.10,157.50 L1022.68,158.20 L1022.78,158.90 L1023.39,159.60 L1023.99,160.30 L1024.05,161.00 L1023.58,161.70 L1023.08,162.40 L1023.08,163.10 L1023.58,163.80 L1024.05,164.50 L1023.99,165.20 L1023.39,165.90 L1022.78,166.60 L1022.68,167.30 L1023.10,168.00"/><path d="M1017.70,147.00 L1017.08,147.70 L1016.98,148.40 L1017.41,149.10 L1017.85,149.80 L1017.79,150.50 L1017.22,151.20 L1016.68,151.90 L1016.68,152.60 L1017.22,153.30 L1017.79,154.00 L1017.85,154.70 L1017.41,155.40 L1016.98,156.10 L1017.08,156.80 L1017.70,157.50 L1018.12,158.20 L1018.02,158.90 L1017.41,159.60 L1016.81,160.30 L1016.75,161.00 L1017.22,161.70 L1017.72,162.40 L1017.72,163.10 L1017.22,163.80 L1016.75,164.50 L1016.81,165.20 L1017.41,165.90 L1018.02,166.60 L1018.12,167.30 L1017.70,168.00"/></g><ellipse cx="6.7" cy="139.7" rx="10.1" ry="7.0" fill="#4a1048" opacity="0.55"/><ellipse cx="6.0" cy="139.0" rx="10.1" ry="7.0" fill="url(#headg)"/><ellipse cx="3.5" cy="137.8" rx="1.3" ry="0.8" fill="#ffb0f8" opacity="0.8"/><ellipse cx="4.7" cy="170.7" rx="10.1" ry="7.0" fill="#4a1048" opacity="0.55"/><ellipse cx="4.0" cy="170.0" rx="10.1" ry="7.0" fill="url(#headg)"/><ellipse cx="1.5" cy="168.8" rx="1.3" ry="0.8" fill="#ffb0f8" opacity="0.8"/><ellipse cx="26.5" cy="134.9" rx="10.1" ry="7.0" fill="#4a1048" opacity="0.55"/><ellipse cx="25.8" cy="134.2" rx="10.1" ry="7.0" fill="url(#headg)"/><ellipse cx="23.3" cy="133.0" rx="1.3" ry="0.8" fill="#ffb0f8" opacity="0.8"/><ellipse cx="24.4" cy="166.5" rx="10.1" ry="7.0" fill="#4a1048" opacity="0.55"/><ellipse cx="23.7" cy="165.8" rx="10.1" ry="7.0" fill="url(#headg)"/><ellipse cx="21.2" cy="164.6" rx="1.3" ry="0.8" fill="#ffb0f8" opacity="0.8"/><ellipse cx="47.0" cy="128.2" rx="10.1" ry="7.0" fill="#4a1048" opacity="0.55"/><ellipse cx="46.3" cy="127.5" rx="10.1" ry="7.0" fill="url(#headg)"/><ellipse cx="43.8" cy="126.3" rx="1.3" ry="0.8" fill="#ffb0f8" opacity="0.8"/><ellipse cx="44.4" cy="159.9" rx="10.1" ry="7.0" fill="#4a1048" opacity="0.55"/><ellipse cx="43.7" cy="159.2" rx="10.1" ry="7.0" fill="url(#headg)"/><ellipse cx="41.2" cy="158.0" rx="1.3" ry="0.8" fill="#ffb0f8" opacity="0.8"/><ellipse cx="67.0" cy="123.2" rx="10.1" ry="7.0" fill="#4a1048" opacity="0.55"/><ellipse cx="66.3" cy="122.5" rx="10.1" ry="7.0" fill="url(#headg)"/><ellipse cx="63.8" cy="121.3" rx="1.3" ry="0.8" fill="#ffb0f8" opacity="0.8"/><ellipse cx="64.5" cy="154.9" rx="10.1" ry="7.0" fill="#4a1048" opacity="0.55"/><ellipse cx="63.8" cy="154.2" rx="10.1" ry="7.0" fill="url(#headg)"/><ellipse cx="61.3" cy="153.0" rx="1.3" ry="0.8" fill="#ffb0f8" opacity="0.8"/><ellipse cx="87.0" cy="116.9" rx="10.1" ry="7.0" fill="#4a1048" opacity="0.55"/><ellipse cx="86.3" cy="116.2" rx="10.1" ry="7.0" fill="url(#headg)"/><ellipse cx="83.8" cy="115.0" rx="1.3" ry="0.8" fill="#ffb0f8" opacity="0.8"/><ellipse cx="84.9" cy="148.2" rx="10.1" ry="7.0" fill="#4a1048" opacity="0.55"/><ellipse cx="84.2" cy="147.5" rx="10.1" ry="7.0" fill="url(#headg)"/><ellipse cx="81.7" cy="146.3" rx="1.3" ry="0.8" fill="#ffb0f8" opacity="0.8"/><ellipse cx="107.0" cy="112.0" rx="10.1" ry="7.0" fill="#4a1048" opacity="0.55"/><ellipse cx="106.3" cy="111.3" rx="10.1" ry="7.0" fill="url(#headg)"/><ellipse cx="103.8" cy="110.1" rx="1.3" ry="0.8" fill="#ffb0f8" opacity="0.8"/><ellipse cx="104.9" cy="143.2" rx="10.1" ry="7.0" fill="#4a1048" opacity="0.55"/><ellipse cx="104.2" cy="142.5" rx="10.1" ry="7.0" fill="url(#headg)"/><ellipse cx="101.7" cy="141.3" rx="1.3" ry="0.8" fill="#ffb0f8" opacity="0.8"/><ellipse cx="127.4" cy="107.0" rx="10.1" ry="7.0" fill="#4a1048" opacity="0.55"/><ellipse cx="126.7" cy="106.3" rx="10.1" ry="7.0" fill="url(#headg)"/><ellipse cx="124.2" cy="105.1" rx="1.3" ry="0.8" fill="#ffb0f8" opacity="0.8"/><ellipse cx="124.9" cy="138.2" rx="10.1" ry="7.0" fill="#4a1048" opacity="0.55"/><ellipse cx="124.2" cy="137.5" rx="10.1" ry="7.0" fill="url(#headg)"/><ellipse cx="121.7" cy="136.3" rx="1.3" ry="0.8" fill="#ffb0f8" opacity="0.8"/><ellipse cx="147.4" cy="103.7" rx="10.1" ry="7.0" fill="#4a1048" opacity="0.55"/><ellipse cx="146.7" cy="103.0" rx="10.1" ry="7.0" fill="url(#headg)"/><ellipse cx="144.2" cy="101.8" rx="1.3" ry="0.8" fill="#ffb0f8" opacity="0.8"/><ellipse cx="144.9" cy="134.0" rx="10.1" ry="7.0" fill="#4a1048" opacity="0.55"/><ellipse cx="144.2" cy="133.3" rx="10.1" ry="7.0" fill="url(#headg)"/><ellipse cx="141.7" cy="132.1" rx="1.3" ry="0.8" fill="#ffb0f8" opacity="0.8"/><ellipse cx="167.4" cy="99.9" rx="10.1" ry="7.0" fill="#4a1048" opacity="0.55"/><ellipse cx="166.7" cy="99.2" rx="10.1" ry="7.0" fill="url(#headg)"/><ellipse cx="164.2" cy="98.0" rx="1.3" ry="0.8" fill="#ffb0f8" opacity="0.8"/><ellipse cx="165.7" cy="131.9" rx="10.1" ry="7.0" fill="#4a1048" opacity="0.55"/><ellipse cx="165.0" cy="131.2" rx="10.1" ry="7.0" fill="url(#headg)"/><ellipse cx="162.5" cy="130.0" rx="1.3" ry="0.8" fill="#ffb0f8" opacity="0.8"/><ellipse cx="187.4" cy="96.5" rx="10.1" ry="7.0" fill="#4a1048" opacity="0.55"/><ellipse cx="186.7" cy="95.8" rx="10.1" ry="7.0" fill="url(#headg)"/><ellipse cx="184.2" cy="94.6" rx="1.3" ry="0.8" fill="#ffb0f8" opacity="0.8"/><ellipse cx="184.9" cy="128.2" rx="10.1" ry="7.0" fill="#4a1048" opacity="0.55"/><ellipse cx="184.2" cy="127.5" rx="10.1" ry="7.0" fill="url(#headg)"/><ellipse cx="181.7" cy="126.3" rx="1.3" ry="0.8" fill="#ffb0f8" opacity="0.8"/><ellipse cx="207.7" cy="92.4" rx="10.1" ry="7.0" fill="#4a1048" opacity="0.55"/><ellipse cx="207.0" cy="91.7" rx="10.1" ry="7.0" fill="url(#headg)"/><ellipse cx="204.5" cy="90.5" rx="1.3" ry="0.8" fill="#ffb0f8" opacity="0.8"/><ellipse cx="205.4" cy="124.0" rx="10.1" ry="7.0" fill="#4a1048" opacity="0.55"/><ellipse cx="204.7" cy="123.3" rx="10.1" ry="7.0" fill="url(#headg)"/><ellipse cx="202.2" cy="122.1" rx="1.3" ry="0.8" fill="#ffb0f8" opacity="0.8"/><ellipse cx="229.4" cy="89.0" rx="10.1" ry="7.0" fill="#4a1048" opacity="0.55"/><ellipse cx="228.7" cy="88.3" rx="10.1" ry="7.0" fill="url(#headg)"/><ellipse cx="226.2" cy="87.1" rx="1.3" ry="0.8" fill="#ffb0f8" opacity="0.8"/><ellipse cx="227.0" cy="120.7" rx="10.1" ry="7.0" fill="#4a1048" opacity="0.55"/><ellipse cx="226.3" cy="120.0" rx="10.1" ry="7.0" fill="url(#headg)"/><ellipse cx="223.8" cy="118.8" rx="1.3" ry="0.8" fill="#ffb0f8" opacity="0.8"/><ellipse cx="251.0" cy="86.5" rx="10.1" ry="7.0" fill="#4a1048" opacity="0.55"/><ellipse cx="250.3" cy="85.8" rx="10.1" ry="7.0" fill="url(#headg)"/><ellipse cx="247.8" cy="84.6" rx="1.3" ry="0.8" fill="#ffb0f8" opacity="0.8"/><ellipse cx="248.7" cy="118.2" rx="10.1" ry="7.0" fill="#4a1048" opacity="0.55"/><ellipse cx="248.0" cy="117.5" rx="10.1" ry="7.0" fill="url(#headg)"/><ellipse cx="245.5" cy="116.3" rx="1.3" ry="0.8" fill="#ffb0f8" opacity="0.8"/><ellipse cx="272.4" cy="83.2" rx="10.1" ry="7.0" fill="#4a1048" opacity="0.55"/><ellipse cx="271.7" cy="82.5" rx="10.1" ry="7.0" fill="url(#headg)"/><ellipse cx="269.2" cy="81.3" rx="1.3" ry="0.8" fill="#ffb0f8" opacity="0.8"/><ellipse cx="270.4" cy="114.9" rx="10.1" ry="7.0" fill="#4a1048" opacity="0.55"/><ellipse cx="269.7" cy="114.2" rx="10.1" ry="7.0" fill="url(#headg)"/><ellipse cx="267.2" cy="113.0" rx="1.3" ry="0.8" fill="#ffb0f8" opacity="0.8"/><ellipse cx="294.5" cy="81.5" rx="10.1" ry="7.0" fill="#4a1048" opacity="0.55"/><ellipse cx="293.8" cy="80.8" rx="10.1" ry="7.0" fill="url(#headg)"/><ellipse cx="291.3" cy="79.6" rx="1.3" ry="0.8" fill="#ffb0f8" opacity="0.8"/><ellipse cx="292.0" cy="113.2" rx="10.1" ry="7.0" fill="#4a1048" opacity="0.55"/><ellipse cx="291.3" cy="112.5" rx="10.1" ry="7.0" fill="url(#headg)"/><ellipse cx="288.8" cy="111.3" rx="1.3" ry="0.8" fill="#ffb0f8" opacity="0.8"/><ellipse cx="316.2" cy="80.4" rx="10.1" ry="7.0" fill="#4a1048" opacity="0.55"/><ellipse cx="315.5" cy="79.7" rx="10.1" ry="7.0" fill="url(#headg)"/><ellipse cx="313.0" cy="78.5" rx="1.3" ry="0.8" fill="#ffb0f8" opacity="0.8"/><ellipse cx="313.7" cy="111.5" rx="10.1" ry="7.0" fill="#4a1048" opacity="0.55"/><ellipse cx="313.0" cy="110.8" rx="10.1" ry="7.0" fill="url(#headg)"/><ellipse cx="310.5" cy="109.6" rx="1.3" ry="0.8" fill="#ffb0f8" opacity="0.8"/><ellipse cx="337.9" cy="79.9" rx="10.1" ry="7.0" fill="#4a1048" opacity="0.55"/><ellipse cx="337.2" cy="79.2" rx="10.1" ry="7.0" fill="url(#headg)"/><ellipse cx="334.7" cy="78.0" rx="1.3" ry="0.8" fill="#ffb0f8" opacity="0.8"/><ellipse cx="335.7" cy="110.7" rx="10.1" ry="7.0" fill="#4a1048" opacity="0.55"/><ellipse cx="335.0" cy="110.0" rx="10.1" ry="7.0" fill="url(#headg)"/><ellipse cx="332.5" cy="108.8" rx="1.3" ry="0.8" fill="#ffb0f8" opacity="0.8"/><ellipse cx="359.5" cy="78.7" rx="10.1" ry="7.0" fill="#4a1048" opacity="0.55"/><ellipse cx="358.8" cy="78.0" rx="10.1" ry="7.0" fill="url(#headg)"/><ellipse cx="356.3" cy="76.8" rx="1.3" ry="0.8" fill="#ffb0f8" opacity="0.8"/><ellipse cx="357.4" cy="110.4" rx="10.1" ry="7.0" fill="#4a1048" opacity="0.55"/><ellipse cx="356.7" cy="109.7" rx="10.1" ry="7.0" fill="url(#headg)"/><ellipse cx="354.2" cy="108.5" rx="1.3" ry="0.8" fill="#ffb0f8" opacity="0.8"/><ellipse cx="381.2" cy="77.9" rx="10.1" ry="7.0" fill="#4a1048" opacity="0.55"/><ellipse cx="380.5" cy="77.2" rx="10.1" ry="7.0" fill="url(#headg)"/><ellipse cx="378.0" cy="76.0" rx="1.3" ry="0.8" fill="#ffb0f8" opacity="0.8"/><ellipse cx="379.4" cy="109.9" rx="10.1" ry="7.0" fill="#4a1048" opacity="0.55"/><ellipse cx="378.7" cy="109.2" rx="10.1" ry="7.0" fill="url(#headg)"/><ellipse cx="376.2" cy="108.0" rx="1.3" ry="0.8" fill="#ffb0f8" opacity="0.8"/><ellipse cx="402.4" cy="77.4" rx="10.1" ry="7.0" fill="#4a1048" opacity="0.55"/><ellipse cx="401.7" cy="76.7" rx="10.1" ry="7.0" fill="url(#headg)"/><ellipse cx="399.2" cy="75.5" rx="1.3" ry="0.8" fill="#ffb0f8" opacity="0.8"/><ellipse cx="400.7" cy="109.4" rx="10.1" ry="7.0" fill="#4a1048" opacity="0.55"/><ellipse cx="400.0" cy="108.7" rx="10.1" ry="7.0" fill="url(#headg)"/><ellipse cx="397.5" cy="107.5" rx="1.3" ry="0.8" fill="#ffb0f8" opacity="0.8"/><ellipse cx="422.0" cy="77.9" rx="10.1" ry="7.0" fill="#4a1048" opacity="0.55"/><ellipse cx="421.3" cy="77.2" rx="10.1" ry="7.0" fill="url(#headg)"/><ellipse cx="418.8" cy="76.0" rx="1.3" ry="0.8" fill="#ffb0f8" opacity="0.8"/><ellipse cx="422.4" cy="109.9" rx="10.1" ry="7.0" fill="#4a1048" opacity="0.55"/><ellipse cx="421.7" cy="109.2" rx="10.1" ry="7.0" fill="url(#headg)"/><ellipse cx="419.2" cy="108.0" rx="1.3" ry="0.8" fill="#ffb0f8" opacity="0.8"/><ellipse cx="443.7" cy="79.0" rx="10.1" ry="7.0" fill="#4a1048" opacity="0.55"/><ellipse cx="443.0" cy="78.3" rx="10.1" ry="7.0" fill="url(#headg)"/><ellipse cx="440.5" cy="77.1" rx="1.3" ry="0.8" fill="#ffb0f8" opacity="0.8"/><ellipse cx="444.0" cy="110.7" rx="10.1" ry="7.0" fill="#4a1048" opacity="0.55"/><ellipse cx="443.3" cy="110.0" rx="10.1" ry="7.0" fill="url(#headg)"/><ellipse cx="440.8" cy="108.8" rx="1.3" ry="0.8" fill="#ffb0f8" opacity="0.8"/><ellipse cx="465.7" cy="79.9" rx="10.1" ry="7.0" fill="#4a1048" opacity="0.55"/><ellipse cx="465.0" cy="79.2" rx="10.1" ry="7.0" fill="url(#headg)"/><ellipse cx="462.5" cy="78.0" rx="1.3" ry="0.8" fill="#ffb0f8" opacity="0.8"/><ellipse cx="467.4" cy="111.5" rx="10.1" ry="7.0" fill="#4a1048" opacity="0.55"/><ellipse cx="466.7" cy="110.8" rx="10.1" ry="7.0" fill="url(#headg)"/><ellipse cx="464.2" cy="109.6" rx="1.3" ry="0.8" fill="#ffb0f8" opacity="0.8"/><ellipse cx="487.4" cy="79.9" rx="10.1" ry="7.0" fill="#4a1048" opacity="0.55"/><ellipse cx="486.7" cy="79.2" rx="10.1" ry="7.0" fill="url(#headg)"/><ellipse cx="484.2" cy="78.0" rx="1.3" ry="0.8" fill="#ffb0f8" opacity="0.8"/><ellipse cx="489.9" cy="111.5" rx="10.1" ry="7.0" fill="#4a1048" opacity="0.55"/><ellipse cx="489.2" cy="110.8" rx="10.1" ry="7.0" fill="url(#headg)"/><ellipse cx="486.7" cy="109.6" rx="1.3" ry="0.8" fill="#ffb0f8" opacity="0.8"/><ellipse cx="508.7" cy="81.5" rx="10.1" ry="7.0" fill="#4a1048" opacity="0.55"/><ellipse cx="508.0" cy="80.8" rx="10.1" ry="7.0" fill="url(#headg)"/><ellipse cx="505.5" cy="79.6" rx="1.3" ry="0.8" fill="#ffb0f8" opacity="0.8"/><ellipse cx="511.5" cy="113.2" rx="10.1" ry="7.0" fill="#4a1048" opacity="0.55"/><ellipse cx="510.8" cy="112.5" rx="10.1" ry="7.0" fill="url(#headg)"/><ellipse cx="508.3" cy="111.3" rx="1.3" ry="0.8" fill="#ffb0f8" opacity="0.8"/><ellipse cx="530.7" cy="83.2" rx="10.1" ry="7.0" fill="#4a1048" opacity="0.55"/><ellipse cx="530.0" cy="82.5" rx="10.1" ry="7.0" fill="url(#headg)"/><ellipse cx="527.5" cy="81.3" rx="1.3" ry="0.8" fill="#ffb0f8" opacity="0.8"/><ellipse cx="533.2" cy="115.7" rx="10.1" ry="7.0" fill="#4a1048" opacity="0.55"/><ellipse cx="532.5" cy="115.0" rx="10.1" ry="7.0" fill="url(#headg)"/><ellipse cx="530.0" cy="113.8" rx="1.3" ry="0.8" fill="#ffb0f8" opacity="0.8"/><ellipse cx="552.4" cy="86.5" rx="10.1" ry="7.0" fill="#4a1048" opacity="0.55"/><ellipse cx="551.7" cy="85.8" rx="10.1" ry="7.0" fill="url(#headg)"/><ellipse cx="549.2" cy="84.6" rx="1.3" ry="0.8" fill="#ffb0f8" opacity="0.8"/><ellipse cx="554.9" cy="118.2" rx="10.1" ry="7.0" fill="#4a1048" opacity="0.55"/><ellipse cx="554.2" cy="117.5" rx="10.1" ry="7.0" fill="url(#headg)"/><ellipse cx="551.7" cy="116.3" rx="1.3" ry="0.8" fill="#ffb0f8" opacity="0.8"/><ellipse cx="574.4" cy="89.0" rx="10.1" ry="7.0" fill="#4a1048" opacity="0.55"/><ellipse cx="573.7" cy="88.3" rx="10.1" ry="7.0" fill="url(#headg)"/><ellipse cx="571.2" cy="87.1" rx="1.3" ry="0.8" fill="#ffb0f8" opacity="0.8"/><ellipse cx="576.5" cy="120.7" rx="10.1" ry="7.0" fill="#4a1048" opacity="0.55"/><ellipse cx="575.8" cy="120.0" rx="10.1" ry="7.0" fill="url(#headg)"/><ellipse cx="573.3" cy="118.8" rx="1.3" ry="0.8" fill="#ffb0f8" opacity="0.8"/><ellipse cx="596.0" cy="92.4" rx="10.1" ry="7.0" fill="#4a1048" opacity="0.55"/><ellipse cx="595.3" cy="91.7" rx="10.1" ry="7.0" fill="url(#headg)"/><ellipse cx="592.8" cy="90.5" rx="1.3" ry="0.8" fill="#ffb0f8" opacity="0.8"/><ellipse cx="598.2" cy="124.0" rx="10.1" ry="7.0" fill="#4a1048" opacity="0.55"/><ellipse cx="597.5" cy="123.3" rx="10.1" ry="7.0" fill="url(#headg)"/><ellipse cx="595.0" cy="122.1" rx="1.3" ry="0.8" fill="#ffb0f8" opacity="0.8"/><ellipse cx="616.0" cy="96.0" rx="10.1" ry="7.0" fill="#4a1048" opacity="0.55"/><ellipse cx="615.3" cy="95.3" rx="10.1" ry="7.0" fill="url(#headg)"/><ellipse cx="612.8" cy="94.1" rx="1.3" ry="0.8" fill="#ffb0f8" opacity="0.8"/><ellipse cx="618.2" cy="127.4" rx="10.1" ry="7.0" fill="#4a1048" opacity="0.55"/><ellipse cx="617.5" cy="126.7" rx="10.1" ry="7.0" fill="url(#headg)"/><ellipse cx="615.0" cy="125.5" rx="1.3" ry="0.8" fill="#ffb0f8" opacity="0.8"/><ellipse cx="636.2" cy="100.5" rx="10.1" ry="7.0" fill="#4a1048" opacity="0.55"/><ellipse cx="635.5" cy="99.8" rx="10.1" ry="7.0" fill="url(#headg)"/><ellipse cx="633.0" cy="98.6" rx="1.3" ry="0.8" fill="#ffb0f8" opacity="0.8"/><ellipse cx="638.2" cy="131.5" rx="10.1" ry="7.0" fill="#4a1048" opacity="0.55"/><ellipse cx="637.5" cy="130.8" rx="10.1" ry="7.0" fill="url(#headg)"/><ellipse cx="635.0" cy="129.6" rx="1.3" ry="0.8" fill="#ffb0f8" opacity="0.8"/><ellipse cx="656.5" cy="102.4" rx="10.1" ry="7.0" fill="#4a1048" opacity="0.55"/><ellipse cx="655.8" cy="101.7" rx="10.1" ry="7.0" fill="url(#headg)"/><ellipse cx="653.3" cy="100.5" rx="1.3" ry="0.8" fill="#ffb0f8" opacity="0.8"/><ellipse cx="658.2" cy="134.0" rx="10.1" ry="7.0" fill="#4a1048" opacity="0.55"/><ellipse cx="657.5" cy="133.3" rx="10.1" ry="7.0" fill="url(#headg)"/><ellipse cx="655.0" cy="132.1" rx="1.3" ry="0.8" fill="#ffb0f8" opacity="0.8"/><ellipse cx="676.5" cy="106.5" rx="10.1" ry="7.0" fill="#4a1048" opacity="0.55"/><ellipse cx="675.8" cy="105.8" rx="10.1" ry="7.0" fill="url(#headg)"/><ellipse cx="673.3" cy="104.6" rx="1.3" ry="0.8" fill="#ffb0f8" opacity="0.8"/><ellipse cx="678.2" cy="138.2" rx="10.1" ry="7.0" fill="#4a1048" opacity="0.55"/><ellipse cx="677.5" cy="137.5" rx="10.1" ry="7.0" fill="url(#headg)"/><ellipse cx="675.0" cy="136.3" rx="1.3" ry="0.8" fill="#ffb0f8" opacity="0.8"/><ellipse cx="696.5" cy="111.5" rx="10.1" ry="7.0" fill="#4a1048" opacity="0.55"/><ellipse cx="695.8" cy="110.8" rx="10.1" ry="7.0" fill="url(#headg)"/><ellipse cx="693.3" cy="109.6" rx="1.3" ry="0.8" fill="#ffb0f8" opacity="0.8"/><ellipse cx="698.2" cy="143.2" rx="10.1" ry="7.0" fill="#4a1048" opacity="0.55"/><ellipse cx="697.5" cy="142.5" rx="10.1" ry="7.0" fill="url(#headg)"/><ellipse cx="695.0" cy="141.3" rx="1.3" ry="0.8" fill="#ffb0f8" opacity="0.8"/><ellipse cx="716.5" cy="116.5" rx="10.1" ry="7.0" fill="#4a1048" opacity="0.55"/><ellipse cx="715.8" cy="115.8" rx="10.1" ry="7.0" fill="url(#headg)"/><ellipse cx="713.3" cy="114.6" rx="1.3" ry="0.8" fill="#ffb0f8" opacity="0.8"/><ellipse cx="718.2" cy="148.2" rx="10.1" ry="7.0" fill="#4a1048" opacity="0.55"/><ellipse cx="717.5" cy="147.5" rx="10.1" ry="7.0" fill="url(#headg)"/><ellipse cx="715.0" cy="146.3" rx="1.3" ry="0.8" fill="#ffb0f8" opacity="0.8"/><ellipse cx="736.5" cy="123.2" rx="10.1" ry="7.0" fill="#4a1048" opacity="0.55"/><ellipse cx="735.8" cy="122.5" rx="10.1" ry="7.0" fill="url(#headg)"/><ellipse cx="733.3" cy="121.3" rx="1.3" ry="0.8" fill="#ffb0f8" opacity="0.8"/><ellipse cx="738.7" cy="154.9" rx="10.1" ry="7.0" fill="#4a1048" opacity="0.55"/><ellipse cx="738.0" cy="154.2" rx="10.1" ry="7.0" fill="url(#headg)"/><ellipse cx="735.5" cy="153.0" rx="1.3" ry="0.8" fill="#ffb0f8" opacity="0.8"/><ellipse cx="756.5" cy="128.2" rx="10.1" ry="7.0" fill="#4a1048" opacity="0.55"/><ellipse cx="755.8" cy="127.5" rx="10.1" ry="7.0" fill="url(#headg)"/><ellipse cx="753.3" cy="126.3" rx="1.3" ry="0.8" fill="#ffb0f8" opacity="0.8"/><ellipse cx="759.0" cy="159.9" rx="10.1" ry="7.0" fill="#4a1048" opacity="0.55"/><ellipse cx="758.3" cy="159.2" rx="10.1" ry="7.0" fill="url(#headg)"/><ellipse cx="755.8" cy="158.0" rx="1.3" ry="0.8" fill="#ffb0f8" opacity="0.8"/><ellipse cx="777.2" cy="134.9" rx="10.1" ry="7.0" fill="#4a1048" opacity="0.55"/><ellipse cx="776.5" cy="134.2" rx="10.1" ry="7.0" fill="url(#headg)"/><ellipse cx="774.0" cy="133.0" rx="1.3" ry="0.8" fill="#ffb0f8" opacity="0.8"/><ellipse cx="779.7" cy="166.2" rx="10.1" ry="7.0" fill="#4a1048" opacity="0.55"/><ellipse cx="779.0" cy="165.5" rx="10.1" ry="7.0" fill="url(#headg)"/><ellipse cx="776.5" cy="164.3" rx="1.3" ry="0.8" fill="#ffb0f8" opacity="0.8"/><ellipse cx="797.7" cy="139.0" rx="10.1" ry="7.0" fill="#4a1048" opacity="0.55"/><ellipse cx="797.0" cy="138.3" rx="10.1" ry="7.0" fill="url(#headg)"/><ellipse cx="794.5" cy="137.1" rx="1.3" ry="0.8" fill="#ffb0f8" opacity="0.8"/><ellipse cx="800.7" cy="170.4" rx="10.1" ry="7.0" fill="#4a1048" opacity="0.55"/><ellipse cx="800.0" cy="169.7" rx="10.1" ry="7.0" fill="url(#headg)"/><ellipse cx="797.5" cy="168.5" rx="1.3" ry="0.8" fill="#ffb0f8" opacity="0.8"/><ellipse cx="820.4" cy="142.2" rx="10.1" ry="7.0" fill="#4a1048" opacity="0.55"/><ellipse cx="819.7" cy="141.5" rx="10.1" ry="7.0" fill="url(#headg)"/><ellipse cx="817.2" cy="140.3" rx="1.3" ry="0.8" fill="#ffb0f8" opacity="0.8"/><ellipse cx="820.4" cy="173.5" rx="10.1" ry="7.0" fill="#4a1048" opacity="0.55"/><ellipse cx="819.7" cy="172.8" rx="10.1" ry="7.0" fill="url(#headg)"/><ellipse cx="817.2" cy="171.6" rx="1.3" ry="0.8" fill="#ffb0f8" opacity="0.8"/><ellipse cx="842.7" cy="142.5" rx="10.1" ry="7.0" fill="#4a1048" opacity="0.55"/><ellipse cx="842.0" cy="141.8" rx="10.1" ry="7.0" fill="url(#headg)"/><ellipse cx="839.5" cy="140.6" rx="1.3" ry="0.8" fill="#ffb0f8" opacity="0.8"/><ellipse cx="842.7" cy="173.5" rx="10.1" ry="7.0" fill="#4a1048" opacity="0.55"/><ellipse cx="842.0" cy="172.8" rx="10.1" ry="7.0" fill="url(#headg)"/><ellipse cx="839.5" cy="171.6" rx="1.3" ry="0.8" fill="#ffb0f8" opacity="0.8"/><ellipse cx="865.2" cy="142.7" rx="10.1" ry="7.0" fill="#4a1048" opacity="0.55"/><ellipse cx="864.5" cy="142.0" rx="10.1" ry="7.0" fill="url(#headg)"/><ellipse cx="862.0" cy="140.8" rx="1.3" ry="0.8" fill="#ffb0f8" opacity="0.8"/><ellipse cx="865.2" cy="173.7" rx="10.1" ry="7.0" fill="#4a1048" opacity="0.55"/><ellipse cx="864.5" cy="173.0" rx="10.1" ry="7.0" fill="url(#headg)"/><ellipse cx="862.0" cy="171.8" rx="1.3" ry="0.8" fill="#ffb0f8" opacity="0.8"/><ellipse cx="887.7" cy="142.7" rx="10.1" ry="7.0" fill="#4a1048" opacity="0.55"/><ellipse cx="887.0" cy="142.0" rx="10.1" ry="7.0" fill="url(#headg)"/><ellipse cx="884.5" cy="140.8" rx="1.3" ry="0.8" fill="#ffb0f8" opacity="0.8"/><ellipse cx="887.7" cy="173.7" rx="10.1" ry="7.0" fill="#4a1048" opacity="0.55"/><ellipse cx="887.0" cy="173.0" rx="10.1" ry="7.0" fill="url(#headg)"/><ellipse cx="884.5" cy="171.8" rx="1.3" ry="0.8" fill="#ffb0f8" opacity="0.8"/><ellipse cx="910.1" cy="142.7" rx="10.1" ry="7.0" fill="#4a1048" opacity="0.55"/><ellipse cx="909.4" cy="142.0" rx="10.1" ry="7.0" fill="url(#headg)"/><ellipse cx="906.9" cy="140.8" rx="1.3" ry="0.8" fill="#ffb0f8" opacity="0.8"/><ellipse cx="910.1" cy="173.7" rx="10.1" ry="7.0" fill="#4a1048" opacity="0.55"/><ellipse cx="909.4" cy="173.0" rx="10.1" ry="7.0" fill="url(#headg)"/><ellipse cx="906.9" cy="171.8" rx="1.3" ry="0.8" fill="#ffb0f8" opacity="0.8"/><ellipse cx="932.3" cy="142.7" rx="10.1" ry="7.0" fill="#4a1048" opacity="0.55"/><ellipse cx="931.6" cy="142.0" rx="10.1" ry="7.0" fill="url(#headg)"/><ellipse cx="929.1" cy="140.8" rx="1.3" ry="0.8" fill="#ffb0f8" opacity="0.8"/><ellipse cx="932.3" cy="173.7" rx="10.1" ry="7.0" fill="#4a1048" opacity="0.55"/><ellipse cx="931.6" cy="173.0" rx="10.1" ry="7.0" fill="url(#headg)"/><ellipse cx="929.1" cy="171.8" rx="1.3" ry="0.8" fill="#ffb0f8" opacity="0.8"/><ellipse cx="954.6" cy="142.7" rx="10.1" ry="7.0" fill="#4a1048" opacity="0.55"/><ellipse cx="953.9" cy="142.0" rx="10.1" ry="7.0" fill="url(#headg)"/><ellipse cx="951.4" cy="140.8" rx="1.3" ry="0.8" fill="#ffb0f8" opacity="0.8"/><ellipse cx="954.6" cy="173.7" rx="10.1" ry="7.0" fill="#4a1048" opacity="0.55"/><ellipse cx="953.9" cy="173.0" rx="10.1" ry="7.0" fill="url(#headg)"/><ellipse cx="951.4" cy="171.8" rx="1.3" ry="0.8" fill="#ffb0f8" opacity="0.8"/><ellipse cx="977.0" cy="142.7" rx="10.1" ry="7.0" fill="#4a1048" opacity="0.55"/><ellipse cx="976.3" cy="142.0" rx="10.1" ry="7.0" fill="url(#headg)"/><ellipse cx="973.8" cy="140.8" rx="1.3" ry="0.8" fill="#ffb0f8" opacity="0.8"/><ellipse cx="977.0" cy="173.7" rx="10.1" ry="7.0" fill="#4a1048" opacity="0.55"/><ellipse cx="976.3" cy="173.0" rx="10.1" ry="7.0" fill="url(#headg)"/><ellipse cx="973.8" cy="171.8" rx="1.3" ry="0.8" fill="#ffb0f8" opacity="0.8"/><ellipse cx="999.3" cy="142.7" rx="10.1" ry="7.0" fill="#4a1048" opacity="0.55"/><ellipse cx="998.6" cy="142.0" rx="10.1" ry="7.0" fill="url(#headg)"/><ellipse cx="996.1" cy="140.8" rx="1.3" ry="0.8" fill="#ffb0f8" opacity="0.8"/><ellipse cx="999.3" cy="173.7" rx="10.1" ry="7.0" fill="#4a1048" opacity="0.55"/><ellipse cx="998.6" cy="173.0" rx="10.1" ry="7.0" fill="url(#headg)"/><ellipse cx="996.1" cy="171.8" rx="1.3" ry="0.8" fill="#ffb0f8" opacity="0.8"/><ellipse cx="1021.7" cy="142.7" rx="10.1" ry="7.0" fill="#4a1048" opacity="0.55"/><ellipse cx="1021.0" cy="142.0" rx="10.1" ry="7.0" fill="url(#headg)"/><ellipse cx="1018.5" cy="140.8" rx="1.3" ry="0.8" fill="#ffb0f8" opacity="0.8"/><ellipse cx="1021.7" cy="173.7" rx="10.1" ry="7.0" fill="#4a1048" opacity="0.55"/><ellipse cx="1021.0" cy="173.0" rx="10.1" ry="7.0" fill="url(#headg)"/><ellipse cx="1018.5" cy="171.8" rx="1.3" ry="0.8" fill="#ffb0f8" opacity="0.8"/></g></g><g id="ring"><ellipse cx="208" cy="221.7" rx="67.4" ry="46.3" fill="#f3f7fd" stroke="#68acf0" stroke-width="2.5"/><g stroke-width="1.55"><line x1="205.50" y1="182.24" x2="205.06" y2="176.14" stroke="#b87436"/><line x1="208.00" y1="182.20" x2="208.00" y2="176.10" stroke="#c44440"/><line x1="210.50" y1="182.24" x2="210.94" y2="176.14" stroke="#b87436"/><line x1="216.23" y1="182.62" x2="217.68" y2="176.59" stroke="#b87436"/><line x1="218.69" y1="182.91" x2="220.59" y2="176.92" stroke="#c44440"/><line x1="221.14" y1="183.28" x2="223.46" y2="177.35" stroke="#b87436"/><line x1="226.66" y1="184.42" x2="229.96" y2="178.66" stroke="#b87436"/><line x1="229.00" y1="185.03" x2="232.72" y2="179.37" stroke="#c44440"/><line x1="231.30" y1="185.71" x2="235.42" y2="180.16" stroke="#b87436"/><line x1="236.41" y1="187.56" x2="241.44" y2="182.29" stroke="#b87436"/><line x1="238.55" y1="188.47" x2="243.95" y2="183.34" stroke="#c44440"/><line x1="240.62" y1="189.45" x2="246.39" y2="184.47" stroke="#b87436"/><line x1="245.14" y1="191.93" x2="251.72" y2="187.34" stroke="#b87436"/><line x1="246.99" y1="193.11" x2="253.89" y2="188.70" stroke="#c44440"/><line x1="248.76" y1="194.35" x2="255.97" y2="190.12" stroke="#b87436"/><line x1="252.53" y1="197.39" x2="260.41" y2="193.63" stroke="#b87436"/><line x1="254.02" y1="198.79" x2="262.17" y2="195.25" stroke="#c44440"/><line x1="255.43" y1="200.23" x2="263.82" y2="196.92" stroke="#b87436"/><line x1="258.31" y1="203.72" x2="267.21" y2="200.94" stroke="#b87436"/><line x1="259.39" y1="205.29" x2="268.49" y2="202.76" stroke="#c44440"/><line x1="260.38" y1="206.90" x2="269.65" y2="204.61" stroke="#b87436"/><line x1="262.26" y1="210.70" x2="271.87" y2="209.00" stroke="#b87436"/><line x1="262.91" y1="212.39" x2="272.63" y2="210.95" stroke="#c44440"/><line x1="263.44" y1="214.10" x2="273.26" y2="212.92" stroke="#b87436"/><line x1="264.26" y1="218.08" x2="274.22" y2="217.52" stroke="#b87436"/><line x1="264.44" y1="219.82" x2="274.42" y2="219.53" stroke="#c44440"/><line x1="264.50" y1="221.57" x2="274.50" y2="221.55" stroke="#b87436"/><line x1="264.23" y1="225.59" x2="274.18" y2="226.19" stroke="#b87436"/><line x1="263.92" y1="227.32" x2="273.82" y2="228.19" stroke="#c44440"/><line x1="263.51" y1="229.05" x2="273.34" y2="230.18" stroke="#b87436"/><line x1="262.16" y1="232.95" x2="271.74" y2="234.69" stroke="#b87436"/><line x1="261.39" y1="234.62" x2="270.84" y2="236.61" stroke="#c44440"/><line x1="260.52" y1="236.26" x2="269.82" y2="238.51" stroke="#b87436"/><line x1="258.13" y1="239.92" x2="267.01" y2="242.73" stroke="#b87436"/><line x1="256.93" y1="241.45" x2="265.59" y2="244.50" stroke="#c44440"/><line x1="255.63" y1="242.94" x2="264.06" y2="246.23" stroke="#b87436"/><line x1="252.30" y1="246.22" x2="260.14" y2="250.01" stroke="#b87436"/><line x1="250.70" y1="247.57" x2="258.26" y2="251.56" stroke="#c44440"/><line x1="249.02" y1="248.86" x2="256.28" y2="253.06" stroke="#b87436"/><line x1="244.86" y1="251.64" x2="251.38" y2="256.26" stroke="#b87436"/><line x1="242.93" y1="252.75" x2="249.11" y2="257.54" stroke="#c44440"/><line x1="240.93" y1="253.80" x2="246.75" y2="258.76" stroke="#b87436"/><line x1="236.09" y1="255.97" x2="241.06" y2="261.27" stroke="#b87436"/><line x1="233.89" y1="256.81" x2="238.47" y2="262.23" stroke="#c44440"/><line x1="231.64" y1="257.58" x2="235.83" y2="263.12" stroke="#b87436"/><line x1="226.30" y1="259.07" x2="229.54" y2="264.84" stroke="#b87436"/><line x1="223.92" y1="259.60" x2="226.74" y2="265.45" stroke="#c44440"/><line x1="221.50" y1="260.06" x2="223.89" y2="265.98" stroke="#b87436"/><line x1="215.85" y1="260.82" x2="217.24" y2="266.86" stroke="#b87436"/><line x1="213.37" y1="261.02" x2="214.32" y2="267.09" stroke="#c44440"/><line x1="210.88" y1="261.15" x2="211.39" y2="267.24" stroke="#b87436"/><line x1="205.12" y1="261.15" x2="204.61" y2="267.24" stroke="#b87436"/><line x1="202.63" y1="261.02" x2="201.68" y2="267.09" stroke="#c44440"/><line x1="200.15" y1="260.82" x2="198.76" y2="266.86" stroke="#b87436"/><line x1="194.50" y1="260.06" x2="192.11" y2="265.98" stroke="#b87436"/><line x1="192.08" y1="259.60" x2="189.26" y2="265.45" stroke="#c44440"/><line x1="189.70" y1="259.07" x2="186.46" y2="264.84" stroke="#b87436"/><line x1="184.36" y1="257.58" x2="180.17" y2="263.12" stroke="#b87436"/><line x1="182.11" y1="256.81" x2="177.53" y2="262.23" stroke="#c44440"/><line x1="179.91" y1="255.97" x2="174.94" y2="261.27" stroke="#b87436"/><line x1="175.07" y1="253.80" x2="169.25" y2="258.76" stroke="#b87436"/><line x1="173.07" y1="252.75" x2="166.89" y2="257.54" stroke="#c44440"/><line x1="171.14" y1="251.64" x2="164.62" y2="256.26" stroke="#b87436"/><line x1="166.98" y1="248.86" x2="159.72" y2="253.06" stroke="#b87436"/><line x1="165.30" y1="247.57" x2="157.74" y2="251.56" stroke="#c44440"/><line x1="163.70" y1="246.22" x2="155.86" y2="250.01" stroke="#b87436"/><line x1="160.37" y1="242.94" x2="151.94" y2="246.23" stroke="#b87436"/><line x1="159.07" y1="241.45" x2="150.41" y2="244.50" stroke="#c44440"/><line x1="157.87" y1="239.92" x2="148.99" y2="242.73" stroke="#b87436"/><line x1="155.48" y1="236.26" x2="146.18" y2="238.51" stroke="#b87436"/><line x1="154.61" y1="234.62" x2="145.16" y2="236.61" stroke="#c44440"/><line x1="153.84" y1="232.95" x2="144.26" y2="234.69" stroke="#b87436"/><line x1="152.49" y1="229.05" x2="142.66" y2="230.18" stroke="#b87436"/><line x1="152.08" y1="227.32" x2="142.18" y2="228.19" stroke="#c44440"/><line x1="151.77" y1="225.59" x2="141.82" y2="226.19" stroke="#b87436"/><line x1="151.50" y1="221.57" x2="141.50" y2="221.55" stroke="#b87436"/><line x1="151.56" y1="219.82" x2="141.58" y2="219.53" stroke="#c44440"/><line x1="151.74" y1="218.08" x2="141.78" y2="217.52" stroke="#b87436"/><line x1="152.56" y1="214.10" x2="142.74" y2="212.92" stroke="#b87436"/><line x1="153.09" y1="212.39" x2="143.37" y2="210.95" stroke="#c44440"/><line x1="153.74" y1="210.70" x2="144.13" y2="209.00" stroke="#b87436"/><line x1="155.62" y1="206.90" x2="146.35" y2="204.61" stroke="#b87436"/><line x1="156.61" y1="205.29" x2="147.51" y2="202.76" stroke="#c44440"/><line x1="157.69" y1="203.72" x2="148.79" y2="200.94" stroke="#b87436"/><line x1="160.57" y1="200.23" x2="152.18" y2="196.92" stroke="#b87436"/><line x1="161.98" y1="198.79" x2="153.83" y2="195.25" stroke="#c44440"/><line x1="163.47" y1="197.39" x2="155.59" y2="193.63" stroke="#b87436"/><line x1="167.24" y1="194.35" x2="160.03" y2="190.12" stroke="#b87436"/><line x1="169.01" y1="193.11" x2="162.11" y2="188.70" stroke="#c44440"/><line x1="170.86" y1="191.93" x2="164.28" y2="187.34" stroke="#b87436"/><line x1="175.38" y1="189.45" x2="169.61" y2="184.47" stroke="#b87436"/><line x1="177.45" y1="188.47" x2="172.05" y2="183.34" stroke="#c44440"/><line x1="179.59" y1="187.56" x2="174.56" y2="182.29" stroke="#b87436"/><line x1="184.70" y1="185.71" x2="180.58" y2="180.16" stroke="#b87436"/><line x1="187.00" y1="185.03" x2="183.28" y2="179.37" stroke="#c44440"/><line x1="189.34" y1="184.42" x2="186.04" y2="178.66" stroke="#b87436"/><line x1="194.86" y1="183.28" x2="192.54" y2="177.35" stroke="#b87436"/><line x1="197.31" y1="182.91" x2="195.41" y2="176.92" stroke="#c44440"/><line x1="199.77" y1="182.62" x2="198.32" y2="176.59" stroke="#b87436"/></g><ellipse cx="208" cy="221.7" rx="55.2" ry="38.3" fill="#cfe5fb" stroke="#f0128e" stroke-width="2.3"/></g><g fill="none" stroke="#cc0000" stroke-width="3.8" stroke-linecap="round"><path d="M285.1,224.4 C392.3,190 501.8,198.7 526.6,330"/><path d="M502,333.3 L551.2,329.3"/><path d="M656.5,386.6 L672.4,452"/><path d="M648.6,455.2 L696.9,449.7"/><path d="M802.5,527.3 L828.8,597"/><path d="M804.9,601.6 L853.3,593.2"/></g><path d="M402.40,317.40 C403.50,320.17 406.73,328.23 409.00,334.00 C411.27,339.77 413.50,347.50 416.00,352.00 C418.50,356.50 421.17,358.73 424.00,361.00 C426.83,363.27 429.25,364.33 433.00,365.60 C436.75,366.87 437.00,368.15 446.50,368.60 C456.00,369.05 475.25,368.70 490.00,368.30 C504.75,367.90 520.17,366.25 535.00,366.20 C549.83,366.15 566.00,366.95 579.00,368.00 C592.00,369.05 604.33,371.63 613.00,372.50 C621.67,373.37 624.88,374.30 631.00,373.20 C637.12,372.10 644.37,369.57 649.70,365.90 C655.03,362.23 659.82,356.60 663.00,351.20 C666.18,345.80 667.70,338.65 668.80,333.50 C669.90,328.35 669.47,322.50 669.60,320.30" fill="none" stroke="#f7d81e" stroke-width="5.2" stroke-linecap="round"/><path d="M402.4,317.4 L406.5,328" stroke="url(#tipL)" stroke-width="4.6" stroke-linecap="round"/><path d="M669.6,320.3 L669.2,331" stroke="url(#tipR)" stroke-width="4.6" stroke-linecap="round"/><path d="M444.4,369.6 h11.4 v10 l-5.7,4.6 l-5.7,-4.6 z" fill="#ff5412" transform="rotate(0 450.1 376.6)"/><path d="M460.5,370.2 h11 v12.6 l-5.5,-3.6 l-5.5,3.6 z" fill="#9c9cff" transform="rotate(0 466.0 377.2)"/><path d="M475.6,369.5 h11.4 v10 l-5.7,4.6 l-5.7,-4.6 z" fill="#ff5412" transform="rotate(0 481.3 376.5)"/><path d="M490.8,369.3 h11 v12.6 l-5.5,-3.6 l-5.5,3.6 z" fill="#9c9cff" transform="rotate(0 496.3 376.3)"/><path d="M506.3,368.5 h11.4 v10 l-5.7,4.6 l-5.7,-4.6 z" fill="#ff5412" transform="rotate(0 512.0 375.5)"/><path d="M521.6,368.0 h11 v12.6 l-5.5,-3.6 l-5.5,3.6 z" fill="#9c9cff" transform="rotate(0 527.1 375.0)"/><path d="M535.3,367.5 h11.4 v10 l-5.7,4.6 l-5.7,-4.6 z" fill="#ff5412" transform="rotate(0 541.0 374.5)"/><path d="M551.5,368.0 h11 v12.6 l-5.5,-3.6 l-5.5,3.6 z" fill="#9c9cff" transform="rotate(0 557.0 375.0)"/><path d="M565.7,368.5 h11.4 v10 l-5.7,4.6 l-5.7,-4.6 z" fill="#ff5412" transform="rotate(0 571.4 375.5)"/><path d="M582.5,370.8 h11 v12.6 l-5.5,-3.6 l-5.5,3.6 z" fill="#9c9cff" transform="rotate(0 588.0 377.8)"/><path d="M597.3,372.5 h11.4 v10 l-5.7,4.6 l-5.7,-4.6 z" fill="#ff5412" transform="rotate(-6 603.0 379.5)"/><path d="M612.5,374.5 h11 v12.6 l-5.5,-3.6 l-5.5,3.6 z" fill="#9c9cff" transform="rotate(-6 618.0 381.5)"/><path d="M627.1,373.5 h11.4 v10 l-5.7,4.6 l-5.7,-4.6 z" fill="#ff5412" transform="rotate(-10 632.8 380.5)"/><path d="M587.50,521.60 C588.33,519.00 590.78,510.93 592.50,506.00 C594.22,501.07 596.13,495.42 597.80,492.00 C599.47,488.58 600.80,487.17 602.50,485.50 C604.20,483.83 605.75,482.82 608.00,482.00 C610.25,481.18 607.33,480.67 616.00,480.60 C624.67,480.53 644.00,481.12 660.00,481.60 C676.00,482.08 703.33,483.18 712.00,483.50" fill="none" stroke="#f7d81e" stroke-width="3.6" stroke-linecap="round"/><path d="M587.5,521.6 L590.5,511" stroke="url(#tipB)" stroke-width="3.2" stroke-linecap="round"/><path d="M618.1,468.7 l3.8,3.4 v8.4 h-7.6 v-8.4 z" fill="#ff5412"/><path d="M628.4,481.3 l3.7,-2.4 v-9.8 l-3.7,2.4 l-3.7,-2.4 v9.8 z" fill="#9c9cff"/><path d="M637.6,469.2 l3.8,3.4 v8.4 h-7.6 v-8.4 z" fill="#ff5412"/><path d="M647.5,481.8 l3.7,-2.4 v-9.8 l-3.7,2.4 l-3.7,-2.4 v9.8 z" fill="#9c9cff"/><path d="M657.2,471.2 l3.8,3.4 v8.4 h-7.6 v-8.4 z" fill="#ff5412"/><path d="M666.8,483.3 l3.7,-2.4 v-9.8 l-3.7,2.4 l-3.7,-2.4 v9.8 z" fill="#9c9cff"/><path d="M675.0,471.5 l3.8,3.4 v8.4 h-7.6 v-8.4 z" fill="#ff5412"/><path d="M686.0,483.3 l3.7,-2.4 v-9.8 l-3.7,2.4 l-3.7,-2.4 v9.8 z" fill="#9c9cff"/><path d="M694.3,471.2 l3.8,3.4 v8.4 h-7.6 v-8.4 z" fill="#ff5412"/><path d="M705.0,482.8 l3.7,-2.4 v-9.8 l-3.7,2.4 l-3.7,-2.4 v9.8 z" fill="#9c9cff"/><path d="M713.5,470.5 l3.8,3.4 v8.4 h-7.6 v-8.4 z" fill="#ff5412"/><path d="M755,512 L755.2,523" stroke="#d8a020" stroke-width="1.6"/><path d="M709.6,487 C709.6,468 738,459.2 772,459.2 C808,459.2 841,470 841,485.5 C841,501 812,514.7 774,514.7 C738,514.7 709.6,505 709.6,487 Z" fill="url(#cdkg)"/><g clip-path="url(#frame)"><ellipse cx="102.8" cy="666" rx="159.4" ry="117.3" fill="#ff9c0c"/><ellipse cx="99.8" cy="662.1" rx="152.5" ry="105" fill="url(#nucg)"/></g><g stroke="#0a9a0a" stroke-width="4.6" stroke-linecap="round" fill="none"><path d="M736.8,517.5 C665.5,539.8 597.9,565.1 527.5,595.5"/><path d="M106.8,623.4 L174.5,311" stroke-width="4.6"/></g><path d="M503.5,605.5 L524.7,587.4 L527.5,595.3 L536.2,601.3 Z" fill="#0a9a0a"/><path d="M179,290.9 L162.4,311.6 L174.9,311 L185.2,314.3 Z" fill="#0a9a0a"/><g><line x1="13.6" y1="671.4" x2="18.4" y2="678.6" stroke="#c8301c" stroke-width="2"/><line x1="23.6" y1="666.0" x2="28.4" y2="682.6" stroke="#c04018" stroke-width="2"/><line x1="28.6" y1="658.5" x2="33.4" y2="681.3" stroke="#c8301c" stroke-width="2"/><line x1="33.6" y1="657.5" x2="38.4" y2="673.8" stroke="#dc7814" stroke-width="2"/><line x1="43.6" y1="661.3" x2="48.4" y2="668.8" stroke="#c8301c" stroke-width="2"/><line x1="48.6" y1="656.5" x2="53.4" y2="677.0" stroke="#dc7814" stroke-width="2"/><line x1="53.6" y1="661.3" x2="58.4" y2="683.2" stroke="#c04018" stroke-width="2"/><line x1="58.6" y1="669.4" x2="63.4" y2="680.3" stroke="#c8301c" stroke-width="2"/><line x1="68.6" y1="668.0" x2="73.4" y2="681.3" stroke="#c04018" stroke-width="2"/><line x1="73.6" y1="660.1" x2="78.4" y2="682.6" stroke="#c8301c" stroke-width="2"/><line x1="78.6" y1="656.7" x2="83.4" y2="675.8" stroke="#dc7814" stroke-width="2"/><line x1="83.6" y1="662.5" x2="88.4" y2="667.4" stroke="#c04018" stroke-width="2"/><line x1="93.6" y1="656.9" x2="98.4" y2="675.1" stroke="#dc7814" stroke-width="2"/><line x1="98.6" y1="659.6" x2="103.4" y2="682.2" stroke="#c04018" stroke-width="2"/><line x1="103.6" y1="667.4" x2="108.4" y2="681.8" stroke="#c8301c" stroke-width="2"/><line x1="113.6" y1="670.1" x2="118.4" y2="679.7" stroke="#c04018" stroke-width="2"/><line x1="118.6" y1="661.9" x2="123.4" y2="683.4" stroke="#c8301c" stroke-width="2"/><line x1="123.6" y1="656.5" x2="128.4" y2="677.7" stroke="#dc7814" stroke-width="2"/><line x1="128.6" y1="660.7" x2="133.4" y2="669.4" stroke="#c04018" stroke-width="2"/><line x1="138.6" y1="657.9" x2="143.4" y2="673.1" stroke="#dc7814" stroke-width="2"/><line x1="143.6" y1="658.1" x2="148.4" y2="680.8" stroke="#c04018" stroke-width="2"/><line x1="148.6" y1="665.4" x2="153.4" y2="682.9" stroke="#c8301c" stroke-width="2"/><line x1="158.6" y1="672.1" x2="163.4" y2="678.0" stroke="#c04018" stroke-width="2"/><line x1="163.6" y1="663.8" x2="168.4" y2="683.4" stroke="#c8301c" stroke-width="2"/><line x1="168.6" y1="657.1" x2="173.4" y2="679.5" stroke="#dc7814" stroke-width="2"/><line x1="173.6" y1="659.0" x2="178.4" y2="671.5" stroke="#c04018" stroke-width="2"/><line x1="183.6" y1="659.3" x2="188.4" y2="671.1" stroke="#dc7814" stroke-width="2"/><line x1="188.6" y1="657.0" x2="193.4" y2="679.2" stroke="#c04018" stroke-width="2"/><line x1="193.6" y1="663.4" x2="198.4" y2="683.5" stroke="#c8301c" stroke-width="2"/><line x1="198.6" y1="671.7" x2="203.4" y2="678.3" stroke="#dc7814" stroke-width="2"/><line x1="208.6" y1="665.7" x2="213.4" y2="682.8" stroke="#c8301c" stroke-width="2"/><line x1="213.6" y1="658.3" x2="218.4" y2="681.1" stroke="#dc7814" stroke-width="2"/><path d="M11.98,683.34 L12.33,682.68 L12.70,681.99 L13.07,681.25 L13.45,680.49 L13.83,679.70 L14.23,678.90 L14.63,678.08 L15.04,677.25 L15.46,676.40 L15.90,675.55 L16.34,674.70 L16.80,673.83 L17.27,672.97 L17.75,672.10 L18.24,671.23 L18.74,670.36 L19.26,669.48 L19.79,668.61 L20.33,667.74 L20.88,666.87 L21.44,666.01 L22.02,665.15 L22.61,664.29 L23.21,663.44 L23.81,662.60 L24.43,661.77 L25.06,660.95 L25.70,660.15 L26.35,659.37 L27.00,658.61 L27.66,657.88 L28.33,657.19 L29.00,656.55 L29.68,655.97 L30.36,655.46 L31.05,655.04 L31.73,654.73 L32.42,654.55 L33.06,654.50 L33.40,654.59 L33.74,654.82 L34.08,655.17 L34.43,655.62 L34.78,656.15 L35.13,656.75 L35.49,657.41 L35.85,658.12 L36.22,658.86 L36.60,659.62 L36.99,660.41 L37.38,661.22 L37.79,662.04 L38.20,662.88 L38.63,663.72 L39.06,664.57 L39.51,665.43 L39.97,666.29 L40.43,667.16 L40.92,668.03 L41.41,668.90 L41.92,669.77 L42.43,670.64 L42.96,671.52 L43.51,672.39 L44.06,673.25 L44.63,674.12 L45.20,674.98 L45.79,675.83 L46.39,676.68 L47.00,677.52 L47.62,678.35 L48.25,679.17 L48.89,679.97 L49.54,680.74 L50.20,681.50 L50.86,682.22 L51.53,682.91 L52.20,683.54 L52.88,684.11 L53.56,684.61 L54.25,685.01 L54.93,685.30 L55.62,685.47 L56.21,685.49 L56.55,685.38 L56.89,685.14 L57.23,684.77 L57.58,684.31 L57.93,683.77 L58.28,683.15 L58.64,682.49 L59.01,681.78 L59.38,681.03 L59.76,680.26 L60.15,679.47 L60.54,678.66 L60.95,677.84 L61.36,677.00 L61.79,676.16 L62.23,675.30 L62.67,674.45 L63.13,673.58 L63.60,672.72 L64.09,671.85 L64.58,670.97 L65.09,670.10 L65.61,669.23 L66.14,668.36 L66.69,667.49 L67.24,666.62 L67.81,665.76 L68.39,664.90 L68.98,664.04 L69.58,663.19 L70.19,662.36 L70.82,661.53 L71.45,660.72 L72.09,659.92 L72.74,659.14 L73.39,658.39 L74.05,657.68 L74.72,657.00 L75.40,656.37 L76.08,655.81 L76.76,655.33 L77.45,654.94 L78.14,654.66 L78.82,654.52 L79.36,654.51 L79.70,654.65 L80.04,654.91 L80.38,655.29 L80.73,655.76 L81.08,656.32 L81.43,656.94 L81.79,657.62 L82.16,658.33 L82.53,659.08 L82.91,659.85 L83.30,660.65 L83.70,661.46 L84.11,662.28 L84.52,663.12 L84.95,663.97 L85.39,664.82 L85.84,665.68 L86.30,666.54 L86.77,667.41 L87.26,668.28 L87.76,669.15 L88.27,670.03 L88.79,670.90 L89.32,671.77 L89.87,672.64 L90.42,673.51 L90.99,674.37 L91.57,675.23 L92.17,676.08 L92.77,676.93 L93.38,677.76 L94.01,678.59 L94.64,679.40 L95.28,680.19 L95.93,680.97 L96.59,681.71 L97.25,682.43 L97.92,683.10 L98.60,683.71 L99.28,684.27 L99.96,684.74 L100.65,685.11 L101.34,685.36 L102.03,685.49 L102.50,685.47 L102.85,685.32 L103.19,685.04 L103.53,684.65 L103.88,684.16 L104.23,683.59 L104.58,682.96 L104.95,682.28 L105.31,681.56 L105.69,680.81 L106.07,680.03 L106.46,679.24 L106.86,678.42 L107.27,677.59 L107.69,676.76 L108.12,675.91 L108.56,675.05 L109.01,674.19 L109.47,673.33 L109.94,672.46 L110.43,671.59 L110.93,670.72 L111.44,669.85 L111.96,668.98 L112.50,668.10 L113.05,667.23 L113.61,666.37 L114.18,665.50 L114.76,664.65 L115.35,663.79 L115.96,662.95 L116.57,662.11 L117.20,661.29 L117.83,660.48 L118.48,659.69 L119.13,658.92 L119.78,658.18 L120.45,657.47 L121.12,656.81 L121.80,656.20 L122.48,655.66 L123.16,655.20 L123.85,654.85 L124.54,654.61 L125.23,654.50 L125.65,654.54 L125.99,654.71 L126.34,655.01 L126.68,655.42 L127.03,655.92 L127.38,656.50 L127.74,657.13 L128.10,657.82 L128.47,658.54 L128.84,659.30 L129.23,660.08 L129.62,660.88 L130.02,661.70 L130.43,662.53 L130.85,663.37 L131.28,664.22 L131.72,665.07 L132.17,665.93 L132.64,666.80 L133.11,667.66 L133.60,668.54 L134.10,669.41 L134.62,670.28 L135.14,671.15 L135.68,672.02 L136.23,672.89 L136.79,673.76 L137.36,674.62 L137.95,675.48 L138.54,676.33 L139.15,677.17 L139.76,678.01 L140.39,678.83 L141.03,679.63 L141.67,680.42 L142.32,681.19 L142.98,681.92 L143.65,682.63 L144.32,683.28 L144.99,683.88 L145.68,684.41 L146.36,684.86 L147.05,685.20 L147.74,685.41 L148.43,685.50 L148.80,685.44 L149.14,685.25 L149.49,684.94 L149.83,684.52 L150.18,684.00 L150.53,683.42 L150.89,682.77 L151.25,682.08 L151.62,681.35 L152.00,680.59 L152.38,679.80 L152.78,679.00 L153.18,678.18 L153.59,677.35 L154.01,676.51 L154.44,675.66 L154.89,674.80 L155.34,673.94 L155.81,673.08 L156.28,672.21 L156.77,671.34 L157.28,670.47 L157.79,669.59 L158.32,668.72 L158.86,667.85 L159.41,666.98 L159.97,666.12 L160.55,665.25 L161.13,664.40 L161.73,663.55 L162.34,662.71 L162.95,661.87 L163.58,661.05 L164.22,660.25 L164.86,659.47 L165.52,658.70 L166.18,657.97 L166.84,657.28 L167.52,656.63 L168.19,656.04 L168.88,655.52 L169.56,655.09 L170.25,654.76 L170.94,654.56 L171.61,654.50 L171.95,654.58 L172.29,654.78 L172.64,655.12 L172.98,655.55 L173.33,656.08 L173.68,656.68 L174.04,657.33 L174.41,658.03 L174.78,658.76 L175.15,659.53 L175.54,660.31 L175.93,661.12 L176.34,661.94 L176.75,662.77 L177.17,663.61 L177.61,664.46 L178.05,665.32 L178.51,666.18 L178.98,667.05 L179.45,667.92 L179.95,668.79 L180.45,669.66 L180.97,670.53 L181.50,671.41 L182.04,672.28 L182.59,673.14 L183.15,674.01 L183.73,674.87 L184.32,675.73 L184.92,676.58 L185.53,677.42 L186.15,678.25 L186.77,679.06 L187.41,679.87 L188.06,680.65 L188.71,681.41 L189.37,682.13 L190.04,682.82 L190.71,683.46 L191.39,684.04 L192.07,684.55 L192.76,684.97 L193.45,685.27 L194.14,685.45 L194.76,685.50 L195.10,685.40 L195.44,685.17 L195.79,684.83 L196.13,684.37 L196.48,683.84 L196.84,683.23 L197.19,682.57 L197.56,681.87 L197.93,681.13 L198.31,680.36 L198.70,679.57 L199.09,678.76 L199.50,677.94 L199.91,677.11 L200.33,676.26 L200.77,675.41 L201.22,674.55 L201.67,673.69 L202.14,672.82 L202.63,671.96 L203.12,671.08 L203.63,670.21 L204.14,669.34 L204.67,668.47 L205.22,667.60 L205.77,666.73 L206.34,665.86 L206.92,665.00 L207.50,664.15 L208.11,663.30 L208.72,662.46 L209.34,661.63 L209.97,660.82 L210.61,660.02 L211.25,659.24 L211.91,658.49 L212.57,657.76 L213.24,657.08 L213.91,656.45 L214.59,655.88 L215.27,655.38 L215.96,654.98 L216.65,654.69 L217.34,654.53 L217.91,654.51 L218.25,654.62 L218.59,654.87 L221.41,654.87 L220.72,654.62 L220.03,654.51 L219.57,654.53 L219.23,654.69 L218.89,654.98 L218.55,655.38 L218.20,655.88 L217.85,656.45 L217.49,657.08 L217.13,657.76 L216.76,658.49 L216.39,659.24 L216.00,660.02 L215.61,660.82 L215.21,661.63 L214.80,662.46 L214.38,663.30 L213.96,664.15 L213.51,665.00 L213.06,665.86 L212.60,666.73 L212.12,667.60 L211.64,668.47 L211.14,669.34 L210.62,670.21 L210.10,671.08 L209.56,671.96 L209.02,672.82 L208.46,673.69 L207.88,674.55 L207.30,675.41 L206.71,676.26 L206.10,677.11 L205.48,677.94 L204.86,678.76 L204.22,679.57 L203.58,680.36 L202.93,681.13 L202.27,681.87 L201.61,682.57 L200.93,683.23 L200.26,683.84 L199.58,684.37 L198.89,684.83 L198.21,685.17 L197.52,685.40 L196.83,685.50 L196.42,685.45 L196.08,685.27 L195.74,684.97 L195.40,684.55 L195.05,684.04 L194.70,683.46 L194.34,682.82 L193.98,682.13 L193.61,681.41 L193.23,680.65 L192.85,679.87 L192.46,679.06 L192.05,678.25 L191.64,677.42 L191.22,676.58 L190.79,675.73 L190.35,674.87 L189.90,674.01 L189.43,673.14 L188.95,672.28 L188.46,671.41 L187.96,670.53 L187.45,669.66 L186.92,668.79 L186.39,667.92 L185.83,667.05 L185.27,666.18 L184.70,665.32 L184.11,664.46 L183.52,663.61 L182.91,662.77 L182.29,661.94 L181.67,661.12 L181.03,660.31 L180.39,659.53 L179.73,658.76 L179.07,658.03 L178.41,657.33 L177.74,656.68 L177.06,656.08 L176.38,655.55 L175.69,655.12 L175.01,654.78 L174.32,654.58 L173.63,654.50 L173.27,654.56 L172.93,654.76 L172.59,655.09 L172.24,655.52 L171.90,656.04 L171.54,656.63 L171.19,657.28 L170.82,657.97 L170.45,658.70 L170.08,659.47 L169.69,660.25 L169.30,661.05 L168.90,661.87 L168.48,662.71 L168.06,663.55 L167.63,664.40 L167.18,665.25 L166.73,666.12 L166.26,666.98 L165.78,667.85 L165.29,668.72 L164.79,669.59 L164.27,670.47 L163.75,671.34 L163.21,672.21 L162.65,673.08 L162.09,673.94 L161.51,674.80 L160.93,675.66 L160.33,676.51 L159.72,677.35 L159.10,678.18 L158.47,679.00 L157.84,679.80 L157.19,680.59 L156.54,681.35 L155.88,682.08 L155.21,682.77 L154.54,683.42 L153.86,684.00 L153.18,684.52 L152.49,684.94 L151.81,685.25 L151.12,685.44 L150.46,685.50 L150.12,685.41 L149.78,685.20 L149.44,684.86 L149.09,684.41 L148.75,683.88 L148.39,683.28 L148.03,682.63 L147.67,681.92 L147.30,681.19 L146.92,680.42 L146.53,679.63 L146.14,678.83 L145.74,678.01 L145.32,677.17 L144.90,676.33 L144.46,675.48 L144.02,674.62 L143.56,673.76 L143.09,672.89 L142.61,672.02 L142.12,671.15 L141.61,670.28 L141.10,669.41 L140.57,668.54 L140.03,667.66 L139.47,666.80 L138.91,665.93 L138.33,665.07 L137.74,664.22 L137.14,663.37 L136.53,662.53 L135.91,661.70 L135.28,660.88 L134.64,660.08 L134.00,659.30 L133.34,658.54 L132.68,657.82 L132.01,657.13 L131.34,656.50 L130.66,655.92 L129.98,655.42 L129.29,655.01 L128.61,654.71 L127.92,654.54 L127.31,654.50 L126.97,654.61 L126.63,654.85 L126.29,655.20 L125.94,655.66 L125.59,656.20 L125.24,656.81 L124.88,657.47 L124.52,658.18 L124.14,658.92 L123.76,659.69 L123.38,660.48 L122.98,661.29 L122.58,662.11 L122.16,662.95 L121.74,663.79 L121.30,664.65 L120.85,665.50 L120.39,666.37 L119.92,667.23 L119.44,668.10 L118.95,668.98 L118.44,669.85 L117.92,670.72 L117.39,671.59 L116.85,672.46 L116.29,673.33 L115.72,674.19 L115.14,675.05 L114.55,675.91 L113.95,676.76 L113.34,677.59 L112.72,678.42 L112.09,679.24 L111.45,680.03 L110.80,680.81 L110.15,681.56 L109.48,682.28 L108.82,682.96 L108.14,683.59 L107.46,684.16 L106.78,684.65 L106.09,685.04 L105.40,685.32 L104.72,685.47 L104.16,685.49 L103.82,685.36 L103.48,685.11 L103.14,684.74 L102.79,684.27 L102.44,683.71 L102.09,683.10 L101.73,682.43 L101.36,681.71 L100.99,680.97 L100.61,680.19 L100.22,679.40 L99.82,678.59 L99.42,677.76 L99.00,676.93 L98.57,676.08 L98.14,675.23 L97.69,674.37 L97.23,673.51 L96.75,672.64 L96.27,671.77 L95.77,670.90 L95.26,670.03 L94.74,669.15 L94.21,668.28 L93.67,667.41 L93.11,666.54 L92.54,665.68 L91.96,664.82 L91.37,663.97 L90.77,663.12 L90.15,662.28 L89.53,661.46 L88.90,660.65 L88.26,659.85 L87.61,659.08 L86.95,658.33 L86.29,657.62 L85.62,656.94 L84.94,656.32 L84.26,655.76 L83.58,655.29 L82.89,654.91 L82.20,654.65 L81.51,654.51 L81.02,654.52 L80.67,654.66 L80.33,654.94 L79.99,655.33 L79.64,655.81 L79.29,656.37 L78.94,657.00 L78.58,657.68 L78.21,658.39 L77.83,659.14 L77.45,659.92 L77.06,660.72 L76.66,661.53 L76.26,662.36 L75.84,663.19 L75.41,664.04 L74.97,664.90 L74.52,665.76 L74.06,666.62 L73.58,667.49 L73.10,668.36 L72.60,669.23 L72.09,670.10 L71.57,670.97 L71.03,671.85 L70.49,672.72 L69.93,673.58 L69.36,674.45 L68.77,675.30 L68.18,676.16 L67.58,677.00 L66.96,677.84 L66.34,678.66 L65.70,679.47 L65.06,680.26 L64.41,681.03 L63.75,681.78 L63.09,682.49 L62.42,683.15 L61.74,683.77 L61.06,684.31 L60.38,684.77 L59.69,685.14 L59.00,685.38 L58.31,685.49 L57.87,685.47 L57.53,685.30 L57.18,685.01 L56.84,684.61 L56.49,684.11 L56.14,683.54 L55.78,682.91 L55.42,682.22 L55.05,681.50 L54.68,680.74 L54.30,679.97 L53.91,679.17 L53.51,678.35 L53.10,677.52 L52.68,676.68 L52.25,675.83 L51.81,674.98 L51.35,674.12 L50.89,673.25 L50.41,672.39 L49.93,671.52 L49.43,670.64 L48.91,669.77 L48.39,668.90 L47.85,668.03 L47.31,667.16 L46.74,666.29 L46.17,665.43 L45.59,664.57 L44.99,663.72 L44.39,662.88 L43.77,662.04 L43.15,661.22 L42.51,660.41 L41.87,659.62 L41.22,658.86 L40.56,658.12 L39.89,657.41 L39.22,656.75 L38.54,656.15 L37.86,655.62 L37.18,655.17 L36.49,654.82 L35.80,654.59 L35.11,654.50 L34.72,654.55 L34.38,654.73 L34.03,655.04 L33.69,655.46 L33.34,655.97 L32.99,656.55 L32.63,657.19 L32.27,657.88 L31.90,658.61 L31.52,659.37 L31.14,660.15 L30.75,660.95 L30.35,661.77 L29.94,662.60 L29.51,663.44 L29.08,664.29 L28.64,665.15 L28.19,666.01 L27.72,666.87 L27.24,667.74 L26.75,668.61 L26.25,669.48 L25.74,670.36 L25.21,671.23 L24.67,672.10 L24.12,672.97 L23.56,673.83 L22.99,674.70 L22.40,675.55 L21.81,676.40 L21.20,677.25 L20.58,678.08 L19.95,678.90 L19.32,679.70 L18.67,680.49 L18.02,681.25 L17.36,681.99 L16.70,682.68 L16.02,683.34 Z" fill="url(#dnab)"/><path d="M10.63,666.03 L11.09,666.90 L11.57,667.77 L12.06,668.64 L12.56,669.51 L13.08,670.38 L13.60,671.25 L14.14,672.12 L14.69,672.99 L15.25,673.86 L15.83,674.72 L16.41,675.58 L17.01,676.43 L17.62,677.27 L18.24,678.10 L18.86,678.92 L19.50,679.73 L20.14,680.51 L20.80,681.27 L21.46,682.01 L22.12,682.70 L22.80,683.36 L23.47,683.95 L24.16,684.47 L24.84,684.90 L25.53,685.23 L26.22,685.43 L26.90,685.50 L27.24,685.43 L27.58,685.22 L27.93,684.89 L28.27,684.46 L28.62,683.94 L28.97,683.34 L29.33,682.69 L29.69,681.99 L30.07,681.26 L30.44,680.50 L30.83,679.71 L31.22,678.91 L31.62,678.09 L32.04,677.25 L32.46,676.41 L32.89,675.56 L33.34,674.70 L33.79,673.84 L34.26,672.98 L34.74,672.11 L35.23,671.24 L35.74,670.36 L36.25,669.49 L36.78,668.62 L37.32,667.75 L37.87,666.88 L38.44,666.01 L39.01,665.15 L39.60,664.30 L40.20,663.45 L40.81,662.61 L41.43,661.78 L42.06,660.96 L42.69,660.16 L43.34,659.38 L43.99,658.62 L44.65,657.89 L45.32,657.20 L45.99,656.55 L46.67,655.97 L47.35,655.46 L48.04,655.04 L48.73,654.73 L49.42,654.55 L50.05,654.50 L50.39,654.59 L50.73,654.82 L51.08,655.16 L51.42,655.61 L51.77,656.15 L52.13,656.75 L52.48,657.41 L52.85,658.11 L53.22,658.85 L53.60,659.62 L53.98,660.40 L54.38,661.21 L54.78,662.03 L55.20,662.87 L55.62,663.71 L56.06,664.56 L56.50,665.42 L56.96,666.28 L57.43,667.15 L57.91,668.02 L58.40,668.89 L58.91,669.76 L59.43,670.64 L59.96,671.51 L60.50,672.38 L61.05,673.25 L61.62,674.11 L62.20,674.97 L62.79,675.83 L63.39,676.67 L64.00,677.51 L64.62,678.34 L65.25,679.16 L65.89,679.96 L66.53,680.74 L67.19,681.49 L67.85,682.21 L68.52,682.90 L69.19,683.53 L69.87,684.11 L70.55,684.61 L71.24,685.01 L71.93,685.30 L72.62,685.47 L73.20,685.49 L73.54,685.38 L73.88,685.14 L74.23,684.78 L74.57,684.32 L74.92,683.77 L75.28,683.16 L75.64,682.49 L76.00,681.78 L76.37,681.04 L76.75,680.27 L77.14,679.48 L77.54,678.67 L77.94,677.85 L78.36,677.01 L78.78,676.16 L79.22,675.31 L79.67,674.45 L80.13,673.59 L80.60,672.72 L81.08,671.85 L81.58,670.98 L82.09,670.11 L82.60,669.24 L83.14,668.37 L83.68,667.50 L84.24,666.63 L84.80,665.76 L85.38,664.90 L85.97,664.05 L86.58,663.20 L87.19,662.36 L87.81,661.54 L88.44,660.72 L89.08,659.93 L89.73,659.15 L90.39,658.40 L91.05,657.68 L91.72,657.01 L92.39,656.38 L93.07,655.81 L93.75,655.33 L94.44,654.94 L95.13,654.67 L95.82,654.52 L96.35,654.51 L96.69,654.65 L97.03,654.91 L97.38,655.28 L97.72,655.76 L98.07,656.31 L98.43,656.94 L98.79,657.61 L99.16,658.32 L99.53,659.07 L99.91,659.84 L100.30,660.64 L100.70,661.45 L101.10,662.28 L101.52,663.11 L101.95,663.96 L102.39,664.81 L102.84,665.67 L103.30,666.54 L103.77,667.40 L104.25,668.27 L104.75,669.14 L105.26,670.02 L105.78,670.89 L106.31,671.76 L106.86,672.63 L107.42,673.50 L107.99,674.36 L108.57,675.22 L109.16,676.07 L109.76,676.92 L110.38,677.76 L111.00,678.58 L111.63,679.39 L112.27,680.19 L112.92,680.96 L113.58,681.71 L114.25,682.42 L114.92,683.09 L115.59,683.71 L116.27,684.26 L116.95,684.73 L117.64,685.11 L118.33,685.36 L119.02,685.49 L119.50,685.48 L119.84,685.32 L120.18,685.05 L120.53,684.65 L120.87,684.17 L121.23,683.60 L121.58,682.97 L121.94,682.29 L122.31,681.57 L122.68,680.82 L123.07,680.04 L123.46,679.24 L123.86,678.43 L124.26,677.60 L124.68,676.76 L125.11,675.92 L125.55,675.06 L126.00,674.20 L126.46,673.34 L126.94,672.47 L127.43,671.60 L127.92,670.73 L128.44,669.86 L128.96,668.98 L129.49,668.11 L130.04,667.24 L130.60,666.38 L131.17,665.51 L131.75,664.65 L132.35,663.80 L132.95,662.96 L133.57,662.12 L134.19,661.30 L134.83,660.49 L135.47,659.70 L136.12,658.93 L136.78,658.19 L137.44,657.48 L138.11,656.82 L138.79,656.21 L139.47,655.66 L140.15,655.21 L140.84,654.85 L141.53,654.61 L142.22,654.50 L142.65,654.54 L142.99,654.71 L143.33,655.00 L143.68,655.41 L144.03,655.91 L144.38,656.49 L144.73,657.13 L145.10,657.81 L145.46,658.54 L145.84,659.29 L146.22,660.07 L146.61,660.87 L147.01,661.69 L147.42,662.52 L147.84,663.36 L148.27,664.21 L148.72,665.06 L149.17,665.92 L149.63,666.79 L150.11,667.66 L150.60,668.53 L151.10,669.40 L151.61,670.27 L152.14,671.14 L152.67,672.01 L153.22,672.88 L153.78,673.75 L154.36,674.61 L154.94,675.47 L155.54,676.32 L156.14,677.16 L156.76,678.00 L157.38,678.82 L158.02,679.63 L158.66,680.41 L159.31,681.18 L159.97,681.92 L160.64,682.62 L161.31,683.28 L161.99,683.88 L162.67,684.41 L163.35,684.85 L164.04,685.19 L164.73,685.41 L165.42,685.50 L165.80,685.45 L166.14,685.26 L166.48,684.94 L166.83,684.52 L167.18,684.01 L167.53,683.42 L167.89,682.78 L168.25,682.08 L168.62,681.35 L168.99,680.59 L169.38,679.81 L169.77,679.01 L170.17,678.19 L170.58,677.36 L171.01,676.52 L171.44,675.67 L171.88,674.81 L172.34,673.95 L172.80,673.09 L173.28,672.22 L173.77,671.35 L174.27,670.47 L174.79,669.60 L175.31,668.73 L175.85,667.86 L176.40,666.99 L176.97,666.12 L177.54,665.26 L178.13,664.41 L178.72,663.56 L179.33,662.71 L179.95,661.88 L180.58,661.06 L181.21,660.26 L181.86,659.47 L182.51,658.71 L183.17,657.98 L183.84,657.28 L184.51,656.63 L185.19,656.04 L185.87,655.52 L186.55,655.09 L187.24,654.77 L187.93,654.57 L188.61,654.50 L188.95,654.57 L189.29,654.78 L189.63,655.11 L189.98,655.55 L190.33,656.07 L190.68,656.67 L191.04,657.32 L191.40,658.02 L191.77,658.75 L192.15,659.52 L192.54,660.30 L192.93,661.11 L193.33,661.93 L193.75,662.76 L194.17,663.60 L194.60,664.46 L195.05,665.31 L195.50,666.17 L195.97,667.04 L196.45,667.91 L196.94,668.78 L197.45,669.65 L197.96,670.53 L198.49,671.40 L199.03,672.27 L199.58,673.14 L200.15,674.00 L200.72,674.86 L201.31,675.72 L201.91,676.57 L202.52,677.41 L203.14,678.24 L203.77,679.06 L204.41,679.86 L205.05,680.64 L205.71,681.40 L206.37,682.13 L207.03,682.82 L207.71,683.46 L208.39,684.04 L209.07,684.55 L209.75,684.96 L210.44,685.27 L211.13,685.45 L211.76,685.50 L212.10,685.40 L212.44,685.18 L212.78,684.83 L213.13,684.38 L213.48,683.84 L213.83,683.24 L214.19,682.58 L214.56,681.88 L214.93,681.14 L215.31,680.37 L215.69,679.58 L216.09,678.77 L216.49,677.95 L216.91,677.12 L223.09,677.12 L222.48,677.95 L221.85,678.77 L221.22,679.58 L220.57,680.37 L219.92,681.14 L219.26,681.88 L218.60,682.58 L217.93,683.24 L217.25,683.84 L216.57,684.38 L215.89,684.83 L215.20,685.18 L214.51,685.40 L213.82,685.50 L213.42,685.45 L213.08,685.27 L212.74,684.96 L212.39,684.55 L212.04,684.04 L211.69,683.46 L211.34,682.82 L210.97,682.13 L210.60,681.40 L210.23,680.64 L209.84,679.86 L209.45,679.06 L209.05,678.24 L208.64,677.41 L208.22,676.57 L207.79,675.72 L207.35,674.86 L206.89,674.00 L206.43,673.14 L205.95,672.27 L205.46,671.40 L204.96,670.53 L204.44,669.65 L203.92,668.78 L203.38,667.91 L202.83,667.04 L202.27,666.17 L201.69,665.31 L201.11,664.46 L200.51,663.60 L199.90,662.76 L199.29,661.93 L198.66,661.11 L198.02,660.30 L197.38,659.52 L196.73,658.75 L196.07,658.02 L195.40,657.32 L194.73,656.67 L194.05,656.07 L193.37,655.55 L192.69,655.11 L192.00,654.78 L191.31,654.57 L190.62,654.50 L190.27,654.57 L189.93,654.77 L189.59,655.09 L189.24,655.52 L188.89,656.04 L188.54,656.63 L188.18,657.28 L187.82,657.98 L187.45,658.71 L187.07,659.47 L186.69,660.26 L186.29,661.06 L185.89,661.88 L185.48,662.71 L185.06,663.56 L184.62,664.41 L184.18,665.26 L183.72,666.12 L183.26,666.99 L182.78,667.86 L182.29,668.73 L181.78,669.60 L181.27,670.47 L180.74,671.35 L180.20,672.22 L179.65,673.09 L179.08,673.95 L178.51,674.81 L177.92,675.67 L177.32,676.52 L176.72,677.36 L176.10,678.19 L175.47,679.01 L174.83,679.81 L174.19,680.59 L173.53,681.35 L172.87,682.08 L172.20,682.78 L171.53,683.42 L170.85,684.01 L170.17,684.52 L169.49,684.94 L168.80,685.26 L168.11,685.45 L167.46,685.50 L167.12,685.41 L166.78,685.19 L166.44,684.85 L166.09,684.41 L165.74,683.88 L165.39,683.28 L165.03,682.62 L164.67,681.92 L164.30,681.18 L163.92,680.41 L163.53,679.63 L163.14,678.82 L162.73,678.00 L162.32,677.16 L161.89,676.32 L161.46,675.47 L161.01,674.61 L160.56,673.75 L160.09,672.88 L159.61,672.01 L159.11,671.14 L158.61,670.27 L158.09,669.40 L157.56,668.53 L157.02,667.66 L156.47,666.79 L155.90,665.92 L155.32,665.06 L154.74,664.21 L154.14,663.36 L153.53,662.52 L152.91,661.69 L152.28,660.87 L151.64,660.07 L150.99,659.29 L150.34,658.54 L149.67,657.81 L149.01,657.13 L148.33,656.49 L147.65,655.91 L146.97,655.41 L146.29,655.00 L145.60,654.71 L144.91,654.54 L144.31,654.50 L143.97,654.61 L143.63,654.85 L143.29,655.21 L142.94,655.66 L142.59,656.21 L142.24,656.82 L141.88,657.48 L141.51,658.19 L141.14,658.93 L140.76,659.70 L140.37,660.49 L139.98,661.30 L139.57,662.12 L139.16,662.96 L138.73,663.80 L138.30,664.65 L137.85,665.51 L137.39,666.38 L136.92,667.24 L136.44,668.11 L135.94,668.98 L135.43,669.86 L134.92,670.73 L134.38,671.60 L133.84,672.47 L133.29,673.34 L132.72,674.20 L132.14,675.06 L131.55,675.92 L130.95,676.76 L130.34,677.60 L129.71,678.43 L129.08,679.24 L128.44,680.04 L127.80,680.82 L127.14,681.57 L126.48,682.29 L125.81,682.97 L125.13,683.60 L124.46,684.17 L123.77,684.65 L123.09,685.05 L122.40,685.32 L121.71,685.48 L121.16,685.49 L120.82,685.36 L120.48,685.11 L120.14,684.73 L119.79,684.26 L119.44,683.71 L119.08,683.09 L118.72,682.42 L118.36,681.71 L117.99,680.96 L117.61,680.19 L117.22,679.39 L116.82,678.58 L116.41,677.76 L116.00,676.92 L115.57,676.07 L115.13,675.22 L114.68,674.36 L114.22,673.50 L113.75,672.63 L113.27,671.76 L112.77,670.89 L112.26,670.02 L111.74,669.14 L111.21,668.27 L110.66,667.40 L110.10,666.54 L109.53,665.67 L108.95,664.81 L108.36,663.96 L107.76,663.11 L107.15,662.28 L106.52,661.45 L105.89,660.64 L105.25,659.84 L104.60,659.07 L103.94,658.32 L103.28,657.61 L102.61,656.94 L101.94,656.31 L101.26,655.76 L100.57,655.28 L99.89,654.91 L99.20,654.65 L98.51,654.51 L98.01,654.52 L97.67,654.67 L97.33,654.94 L96.99,655.33 L96.64,655.81 L96.29,656.38 L95.93,657.01 L95.57,657.68 L95.20,658.40 L94.83,659.15 L94.45,659.93 L94.06,660.72 L93.66,661.54 L93.25,662.36 L92.83,663.20 L92.41,664.05 L91.97,664.90 L91.52,665.76 L91.05,666.63 L90.58,667.50 L90.09,668.37 L89.60,669.24 L89.08,670.11 L88.56,670.98 L88.03,671.85 L87.48,672.72 L86.92,673.59 L86.35,674.45 L85.77,675.31 L85.18,676.16 L84.57,677.01 L83.96,677.85 L83.33,678.67 L82.70,679.48 L82.06,680.27 L81.41,681.04 L80.75,681.78 L80.08,682.49 L79.41,683.16 L78.74,683.77 L78.06,684.32 L77.37,684.78 L76.69,685.14 L76.00,685.38 L75.31,685.49 L74.86,685.47 L74.52,685.30 L74.18,685.01 L73.84,684.61 L73.49,684.11 L73.14,683.53 L72.78,682.90 L72.42,682.21 L72.05,681.49 L71.68,680.74 L71.29,679.96 L70.90,679.16 L70.50,678.34 L70.09,677.51 L69.67,676.67 L69.24,675.83 L68.80,674.97 L68.35,674.11 L67.89,673.25 L67.41,672.38 L66.92,671.51 L66.42,670.64 L65.91,669.76 L65.39,668.89 L64.85,668.02 L64.30,667.15 L63.74,666.28 L63.17,665.42 L62.58,664.56 L61.99,663.71 L61.38,662.87 L60.77,662.03 L60.14,661.21 L59.51,660.40 L58.86,659.62 L58.21,658.85 L57.55,658.11 L56.89,657.41 L56.21,656.75 L55.54,656.15 L54.86,655.61 L54.17,655.16 L53.49,654.82 L52.80,654.59 L52.11,654.50 L51.71,654.55 L51.37,654.73 L51.03,655.04 L50.69,655.46 L50.34,655.97 L49.99,656.55 L49.63,657.20 L49.27,657.89 L48.90,658.62 L48.52,659.38 L48.14,660.16 L47.74,660.96 L47.34,661.78 L46.93,662.61 L46.51,663.45 L46.08,664.30 L45.64,665.15 L45.18,666.01 L44.72,666.88 L44.24,667.75 L43.75,668.62 L43.25,669.49 L42.73,670.36 L42.21,671.24 L41.67,672.11 L41.12,672.98 L40.56,673.84 L39.98,674.70 L39.40,675.56 L38.80,676.41 L38.19,677.25 L37.58,678.09 L36.95,678.91 L36.31,679.71 L35.67,680.50 L35.01,681.26 L34.36,681.99 L33.69,682.69 L33.02,683.34 L32.34,683.94 L31.66,684.46 L30.97,684.89 L30.29,685.22 L29.60,685.43 L28.91,685.50 L28.56,685.43 L28.22,685.23 L27.88,684.90 L27.53,684.47 L27.19,683.95 L26.83,683.36 L26.48,682.70 L26.11,682.01 L25.74,681.27 L25.37,680.51 L24.98,679.73 L24.59,678.92 L24.18,678.10 L23.77,677.27 L23.35,676.43 L22.92,675.58 L22.47,674.72 L22.02,673.86 L21.55,672.99 L21.07,672.12 L20.58,671.25 L20.07,670.38 L19.56,669.51 L19.03,668.64 L18.49,667.77 L17.94,666.90 L17.37,666.03 Z" fill="url(#dnap)"/></g><ellipse cx="424.0" cy="628.0" rx="14.0" ry="8.5" fill="url(#cellg)"/><ellipse cx="526.9" cy="632.8" rx="9.8" ry="11.2" fill="url(#cellg)"/><ellipse cx="506.8" cy="625.9" rx="13.7" ry="8.0" fill="url(#cellg)"/><ellipse cx="479.8" cy="627.7" rx="16.1" ry="9.8" fill="url(#cellg)"/><ellipse cx="443.0" cy="642.0" rx="10.0" ry="6.0" fill="url(#cellg)"/><ellipse cx="416.8" cy="654.6" rx="15.0" ry="11.0" fill="url(#cellg)"/><ellipse cx="440.8" cy="657.0" rx="13.0" ry="11.0" fill="url(#cellg)"/><ellipse cx="461.2" cy="659.9" rx="17.0" ry="10.6" fill="url(#cellg)"/><ellipse cx="499.8" cy="658.3" rx="16.5" ry="10.2" fill="url(#cellg)"/><ellipse cx="417.6" cy="639.3" rx="16.5" ry="8.8" fill="url(#cellg)"/><ellipse cx="469.0" cy="642.2" rx="18.0" ry="11.3" fill="url(#cellg)"/><ellipse cx="503.9" cy="641.3" rx="16.5" ry="10.4" fill="url(#cellg)"/><ellipse cx="446.3" cy="627.7" rx="16.5" ry="10.2" fill="url(#cellg)"/><ellipse cx="787.2" cy="634.9" rx="19.2" ry="11.3" fill="#2a2200" opacity="0.8" transform="rotate(4 786.5 634)"/><ellipse cx="786.5" cy="634.2" rx="19.2" ry="11.3" fill="url(#apg1)" transform="rotate(4 786.5 634)"/><ellipse cx="769.4" cy="609.7" rx="36.2" ry="18.4" fill="#1e1800" opacity="0.85" transform="rotate(4 768.8 608.8)"/><ellipse cx="768.5" cy="608.8" rx="36.2" ry="18.4" fill="url(#apg1)" transform="rotate(4 768.8 608.8)"/><ellipse cx="805.4" cy="650" rx="9.2" ry="10" fill="url(#apg2)"/><ellipse cx="828.4" cy="658.3" rx="15.8" ry="9.5" fill="url(#apg2)" transform="rotate(8 828.2 658.3)"/><ellipse cx="818.6" cy="641" rx="13" ry="9.2" fill="url(#apg2)"/><text x="718.30" y="95.5" font-family="Liberation Sans, sans-serif" font-weight="bold" font-size="22.0" fill="#000" stroke="#000" stroke-width="0.3" textLength="196.22" lengthAdjust="spacingAndGlyphs">ovarian cancer cell</text><text x="270.40" y="175.2" font-family="Liberation Sans, sans-serif" font-weight="bold" font-size="22.0" fill="#000" stroke="#000" stroke-width="0.3" textLength="180.37" lengthAdjust="spacingAndGlyphs">hsa_circ_0072995</text><text x="387.70" y="254.8" font-family="Liberation Sans, sans-serif" font-weight="bold" font-size="15.0" fill="#1a1a24" stroke="#1a1a24" stroke-width="0.3" textLength="51.74" lengthAdjust="spacingAndGlyphs">sponge</text><text x="488.10" y="408.2" font-family="Liberation Sans, sans-serif" font-weight="bold" font-size="22.0" fill="#000" stroke="#000" stroke-width="0.3" textLength="136.28" lengthAdjust="spacingAndGlyphs">hsa-miR-147a</text><text x="619.10" y="499.6" font-family="Liberation Sans, sans-serif" font-weight="bold" font-size="15.0" fill="#1a1a2a" stroke="#1a1a2a" stroke-width="0.3" textLength="39.45" lengthAdjust="spacingAndGlyphs">3'UTR</text><text x="740.20" y="495.9" font-family="Liberation Sans, sans-serif" font-weight="bold" font-size="22.0" fill="#000" stroke="#000" stroke-width="0.3" textLength="58.31" lengthAdjust="spacingAndGlyphs">CDK6</text><text x="364.80" y="615.6" font-family="Liberation Sans, sans-serif" font-weight="bold" font-size="21.0" fill="#000" stroke="#000" stroke-width="0.3" textLength="128.12" lengthAdjust="spacingAndGlyphs">proliferation</text><text x="834.50" y="629.6" font-family="Liberation Sans, sans-serif" font-weight="bold" font-size="21.5" fill="#000" stroke="#000" stroke-width="0.3" textLength="100.25" lengthAdjust="spacingAndGlyphs">apoptosis</text><text x="108.40" y="636.8" font-family="Liberation Sans, sans-serif" font-weight="bold" font-size="21.0" fill="#000" stroke="#000" stroke-width="0.3" textLength="113.73" lengthAdjust="spacingAndGlyphs">ARHGEF28</text><rect x="4" y="3" width="1012" height="1" fill="#b9d6f6"/><rect x="3.2" y="3" width="2.1" height="728" fill="#4c5664"/><rect x="3" y="729" width="1013" height="2" fill="#4a5260"/></svg></body></html>
